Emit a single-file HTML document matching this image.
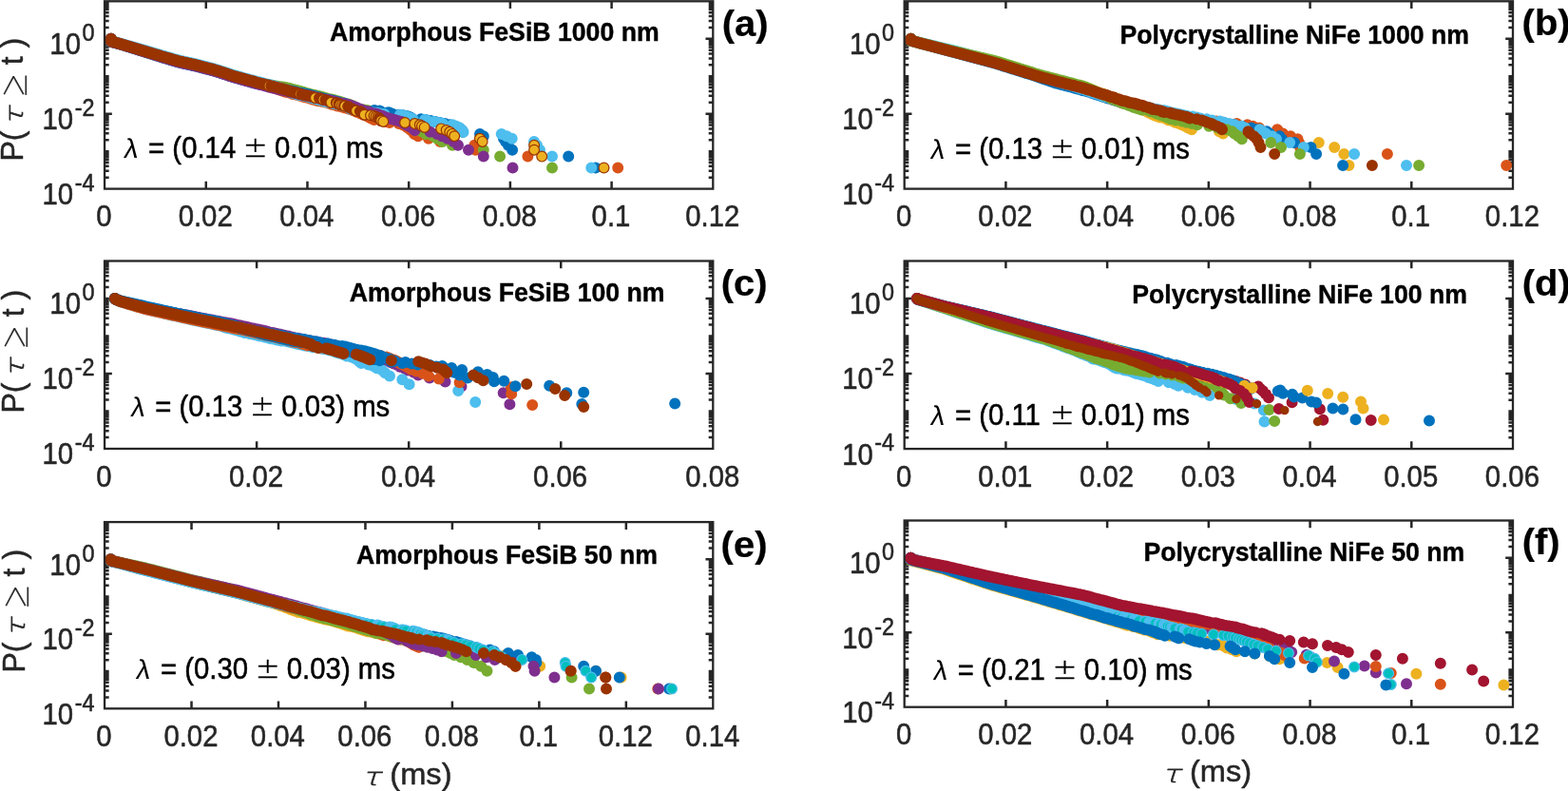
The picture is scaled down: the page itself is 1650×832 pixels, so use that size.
<!DOCTYPE html>
<html lang="en">
<head>
<meta charset="utf-8">
<title>Waiting-time distributions</title>
<style>
html,body{margin:0;padding:0;background:#fff;}
body{width:1650px;height:832px;overflow:hidden;}
svg{display:block;}
text{font-family:"Liberation Sans",sans-serif;fill:#262626;stroke:#262626;stroke-width:0.5px;stroke-linejoin:round;}
.tk text{font-size:29.33px;}
.sp{font-size:23.4px;}
.tt{font-size:26.67px;font-weight:bold;fill:#000;stroke:#000;stroke-width:0.4px;}
.tg{font-size:40px;font-weight:bold;fill:#000;stroke:#000;stroke-width:0.25px;}
.lm{font-size:29.33px;fill:#000;stroke:#000;}
.gl{stroke-width:0;}
.pm{font-family:"DejaVu Sans Light","DejaVu Sans",sans-serif;font-weight:200;font-size:31px;fill:#000;stroke:#000;stroke-width:0.35px;}
.lb{font-size:32px;}
.ta{font-family:"DejaVu Sans Light","DejaVu Sans",sans-serif;font-weight:200;font-style:italic;font-size:25.8px;stroke-width:0.7px;}
.ge{font-family:"NanumGothic","DejaVu Sans Light",sans-serif;font-size:34.5px;stroke-width:0.3px;}
</style>
</head>
<body>
<svg width="1650" height="832" viewBox="0 0 1650 832">
<rect width="1650" height="832" fill="#fff"/>
<g id="panel-a">
<path d="M216.77 198.6v-7.8M216.77 1.3v7.8M323.47 198.6v-7.8M323.47 1.3v7.8M430.18 198.6v-7.8M430.18 1.3v7.8M536.89 198.6v-7.8M536.89 1.3v7.8M643.59 198.6v-7.8M643.59 1.3v7.8M110.06 186.72h4.6M750.3 186.72h-4.6M110.06 179.77h4.6M750.3 179.77h-4.6M110.06 174.84h4.6M750.3 174.84h-4.6M110.06 171.02h4.6M750.3 171.02h-4.6M110.06 167.89h4.6M750.3 167.89h-4.6M110.06 165.25h4.6M750.3 165.25h-4.6M110.06 162.96h4.6M750.3 162.96h-4.6M110.06 160.95h4.6M750.3 160.95h-4.6M110.06 159.14h4.6M750.3 159.14h-4.6M110.06 147.26h4.6M750.3 147.26h-4.6M110.06 140.31h4.6M750.3 140.31h-4.6M110.06 135.38h4.6M750.3 135.38h-4.6M110.06 131.56h4.6M750.3 131.56h-4.6M110.06 128.43h4.6M750.3 128.43h-4.6M110.06 125.79h4.6M750.3 125.79h-4.6M110.06 123.5h4.6M750.3 123.5h-4.6M110.06 121.49h4.6M750.3 121.49h-4.6M110.06 119.68h7.8M750.3 119.68h-7.8M110.06 107.8h4.6M750.3 107.8h-4.6M110.06 100.85h4.6M750.3 100.85h-4.6M110.06 95.92h4.6M750.3 95.92h-4.6M110.06 92.1h4.6M750.3 92.1h-4.6M110.06 88.97h4.6M750.3 88.97h-4.6M110.06 86.33h4.6M750.3 86.33h-4.6M110.06 84.04h4.6M750.3 84.04h-4.6M110.06 82.03h4.6M750.3 82.03h-4.6M110.06 80.22h4.6M750.3 80.22h-4.6M110.06 68.34h4.6M750.3 68.34h-4.6M110.06 61.39h4.6M750.3 61.39h-4.6M110.06 56.46h4.6M750.3 56.46h-4.6M110.06 52.64h4.6M750.3 52.64h-4.6M110.06 49.51h4.6M750.3 49.51h-4.6M110.06 46.87h4.6M750.3 46.87h-4.6M110.06 44.58h4.6M750.3 44.58h-4.6M110.06 42.57h4.6M750.3 42.57h-4.6M110.06 40.76h7.8M750.3 40.76h-7.8M110.06 28.88h4.6M750.3 28.88h-4.6M110.06 21.93h4.6M750.3 21.93h-4.6M110.06 17h4.6M750.3 17h-4.6M110.06 13.18h4.6M750.3 13.18h-4.6M110.06 10.05h4.6M750.3 10.05h-4.6M110.06 7.41h4.6M750.3 7.41h-4.6M110.06 5.12h4.6M750.3 5.12h-4.6M110.06 3.11h4.6M750.3 3.11h-4.6" stroke="#262626" stroke-width="2.5" fill="none"/>
<g fill="none" stroke-linecap="round" stroke-linejoin="round">
<path d="M116.8 40.8h0L116.8 41.7L116.8 42.6L116.8 43.5L117.6 43.9L118.5 44.1L119.4 44.4L120.3 44.6L121.2 44.8L122.1 45.1L123 45.3L123.9 45.6L124.8 45.8L125.7 46L126.6 46.3L127.5 46.5L128.4 46.8L129.2 47L130.1 47.3L131 47.5L131.9 47.8L132.7 48.1L133.6 48.3L134.5 48.6L135.4 48.8L136.3 49.1L137.1 49.4L138 49.7L138.9 49.9L139.8 50.2L140.7 50.4L141.5 50.7L142.4 51L143.3 51.2L144.2 51.5L145.1 51.8L146 52L146.8 52.3L147.7 52.6L148.6 52.8L149.5 53.1L150.3 53.3L151.2 53.6L152.1 53.9L153 54.2L153.9 54.4L154.7 54.7L155.6 55L156.5 55.2L157.4 55.5L158.3 55.8L159.2 56L160.1 56.3L161 56.6L161.8 56.8L162.7 57.1L163.6 57.4L164.5 57.6L165.4 57.9L166.3 58.2L167.2 58.4L168.1 58.7L169 59L169.9 59.3L170.8 59.5L171.7 59.8L172.6 60L173.5 60.3L174.4 60.6L175.3 60.8L176.2 61.1L177.1 61.4L178.1 61.6L179 61.9L179.8 62.2L180.7 62.4L181.6 62.7L182.5 62.9L183.4 63.2L184.3 63.4L185.2 63.7L186.2 64L187.1 64.3L188 64.5L188.9 64.7L189.9 64.9L190.9 65.2L191.8 65.3L192.7 65.6L193.7 65.8L194.6 66L195.5 66.2L196.5 66.4L197.5 66.6L198.4 66.8L199.5 67.1L200.4 67.3L201.3 67.5L202.2 67.7L203.2 67.9L204.1 68.1L205.1 68.3L206 68.6L206.9 68.8L207.9 69L209 69.3L210 69.6L211 69.8L212 70.1L213 70.3L214 70.6L214.9 70.9L215.8 71.1L216.7 71.4L217.7 71.6L218.6 71.9L219.5 72.1L220.6 72.3L221.5 72.6L222.5 72.9L223.5 73.2L224.5 73.4L225.4 73.7L226.3 74L227.4 74.2L228.3 74.5L229.2 74.9L230.2 75.2L231.2 75.5L232.1 75.8L233.2 76.1L234.1 76.5L235 76.8L235.9 77.1L237 77.4L238.1 77.7L238.9 78L240 78.4L241 78.7L241.9 79L242.8 79.3L243.9 79.6L244.8 79.9L245.7 80.2L246.7 80.5L247.6 80.7L248.5 81L249.4 81.3L250.4 81.5L251.2 81.8L252.3 82.1L253.3 82.4L254.4 82.7L255.3 82.9L256.2 83.2L257.2 83.5L258.2 83.8L259.1 84.1L260 84.4L261.1 84.6L262.3 84.9L263.2 85.2L264.3 85.6L265.5 86L266.8 86.2L267.8 86.4L268.6 86.6L269.6 86.9L270.6 87.1L271.8 87.5L272.7 87.7L273.8 88L275 88.3L276.4 88.7L277.4 89L278.4 89.2L279.4 89.4L280.5 89.7L281.8 90.2L282.8 90.5L283.9 90.9L284.9 91.2L285.7 91.6L286.6 91.9L287.7 92.2L288.6 92.6L289.6 92.8L290.8 93.2L291.9 93.6L293 94L293.8 94.5L295.2 94.7L296.2 95.2L297.7 95.6L298.5 95.9L299.4 96.3L300.6 96.7L302.7 97.1L304.3 97.4L305.8 97.9L306.7 98.3L307.6 98.8L309.8 99.2L311.9 99.6L313.1 99.8L314.5 100.2L315.7 100.6L317.2 101L318.2 101.2L319.2 101.6L320.5 102.1L322.9 102.5L324.2 102.7L325.2 103.2L326.9 103.7L328.1 104.2L329.7 104.7L331.2 105L332.2 105.2L333.3 105.8L335.4 106.1L336.7 106.3L338.5 106.6L339.6 106.9L341.5 107.2L342.7 107.5L343.9 107.8L344.9 108.1L345.8 108.5L346.8 108.8L348.8 109.5L349.6 109.8L352.5 110.2L353.3 110.5L354.7 111.3L356.4 111.6L358.9 112L360 112.4L361.8 112.9L362.9 113.3L365 113.7L366.1 114.2L367.7 114.6L369.1 115.1L370 115.6L372.3 116.1L373.1 116.6L374.2 117.1L375.5 117.7L377.4 118.2L378.3 118.8L379.7 119.4L381.3 120L382.5 120.7L384.8 121.3L386.4 122L387.3 122.8L388.9 123.5L390.1 124.3L392.3 125.2L393.6 126M402.7 127h0M405.7 127.9h0M409.9 129h0M419.7 130.1h0M423.7 131.3h0M426.5 132.5h0L428.6 133.9L430.8 135.4L432.6 137L434.9 138.8L436 140.9M440 143.2h0M451 145.8h0M463.1 148.9h0M499.3 152.7h0M500.5 157.7h0M555.4 164.6h0M650.2 176.5h0" stroke="#D95319" stroke-width="12.0"/>
<path d="M116.8 40.8h0L116.8 41.7L116.8 42.6L116.8 43.5L117.6 43.9L118.5 44.1L119.4 44.3L120.3 44.5L121.2 44.8L122 45L122.9 45.3L123.8 45.5L124.6 45.8L125.5 46L126.4 46.3L127.3 46.5L128.1 46.8L129 47.1L129.9 47.3L130.7 47.6L131.6 47.9L132.5 48.2L133.4 48.4L134.2 48.7L135.1 49L136 49.2L136.9 49.5L137.7 49.8L138.6 50.1L139.5 50.3L140.4 50.6L141.2 50.9L142.1 51.1L143 51.4L143.8 51.7L144.7 52L145.6 52.3L146.5 52.5L147.4 52.8L148.2 53L149.1 53.3L150 53.6L150.9 53.9L151.7 54.2L152.6 54.4L153.5 54.7L154.4 55L155.3 55.3L156.1 55.5L157 55.8L157.9 56.1L158.8 56.4L159.7 56.6L160.6 56.9L161.5 57.2L162.4 57.5L163.2 57.7L164.1 58L165 58.3L166 58.6L166.9 58.9L167.8 59.2L168.6 59.4L169.5 59.7L170.4 60L171.3 60.3L172.2 60.5L173.1 60.8L174 61.1L174.9 61.3L175.9 61.6L176.8 61.9L177.7 62.2L178.6 62.5L179.4 62.7L180.3 63L181.3 63.3L182.2 63.5L183.1 63.8L184 64L184.8 64.3L185.8 64.6L186.8 64.9L187.7 65.2L188.7 65.4L189.6 65.6L190.5 65.8L191.5 66L192.5 66.3L193.4 66.5L194.3 66.7L195.2 66.9L196.2 67.1L197.2 67.3L198.1 67.5L199.1 67.8L200.1 68L201.1 68.2L202 68.4L202.9 68.6L203.9 68.8L205.1 69.1L206.2 69.3L207.1 69.5L208 69.8L209 70L209.9 70.3L210.9 70.5L211.7 70.7L212.7 71L213.6 71.2L214.5 71.5L215.4 71.7L216.3 71.9L217.2 72.2L218.2 72.5L219.1 72.7L220.3 73L221.2 73.2L222.1 73.5L223.1 73.7L224 74L225 74.2L225.9 74.5L227 74.7L227.9 75.1L228.8 75.4L229.7 75.7L230.6 75.9L231.5 76.2L232.4 76.5L233.2 76.8L234.3 77.2L235.3 77.4L236.3 77.8L237.3 78.2L238.4 78.5L239.4 78.8L240.3 79.2L241.2 79.5L242.2 79.7L243.3 80L244.1 80.3L245 80.6L245.9 80.9L247.2 81.2L248.2 81.5L249.2 81.7L250.2 82.1L251.2 82.4L252.1 82.8L253.2 82.9L254.1 83.2L255.1 83.5L256.3 83.8L257.5 84.1L258.5 84.4L259.7 84.8L260.5 85.1L261.6 85.3L262.5 85.5L263.4 85.8L264.5 86.1L265.5 86.4L266.5 86.7L267.3 86.9L268.8 87.2L270.2 87.4L271.2 87.6L272.5 87.8L273.5 88L274.5 88.2L275.4 88.4L276.5 88.7M279.6 88.9h0L281 89.1L282.8 89.3L283.9 89.5L285.5 89.7L286.8 90L288 90.1L289.2 90.3L290.3 90.5L291.9 90.7L292.9 91L294.9 91.2L296.3 91.5L297.8 91.6L298.8 91.8L300.4 91.9L301.4 92.3L302.5 92.6L303.9 92.8L305 93.1L306.4 93.5L307.8 93.9L308.9 94.3L309.9 94.6L311 94.7L312.2 95L313.1 95.2L314.1 95.5L315.6 95.9L316.7 96.3L317.7 96.6L319.1 96.9L320.2 97.2L321.4 97.6L322.8 98.1L323.8 98.5L324.9 98.6L326.6 99L327.6 99.6L328.9 99.8L330.3 100L332.3 100.4L334 100.8L335.1 101L336.7 101.4L338 101.8L339.7 102.3L340.8 102.5L342.1 103L343.6 103.4L344.6 103.7L346.4 104.2L348 104.4L349.1 104.7L350.3 105L351.6 105.2L352.6 105.5L354.2 106.1L355.3 106.3L356.7 106.6L358.4 107.2L359.3 107.5L360.7 108.1L361.7 108.5L363.3 108.8L364.7 109.1L366.9 109.8L368 110.2L368.9 110.5L370.3 110.9L371.6 111.6L372.7 112.4L373.6 112.9L375 113.7L375.8 114.2M379.1 115.1h0M383.1 115.6h0M386.6 116.1h0L388.1 116.6L391 117.1L393.1 117.7L395.4 118.2L397.2 118.8L398.1 119.4L399.2 120L400.8 120.7L402.5 121.3L404.2 122L405.3 122.8M408.6 123.5h0M412.9 124.3h0M416.1 125.2h0L418.2 126L420.9 127L423.1 127.9L425.1 129L427.1 130.1L429.3 131.3L431.4 132.5L433.5 133.9M439 135.4h0L441.1 137M444.5 138.8h0M448 140.9h0M456 143.2h0M460 145.8h0M465.5 148.9h0M476 152.7h0M508.8 157.7h0M526.1 164.6h0M581 176.5h0" stroke="#77AC30" stroke-width="12.0"/>
<path d="M116.8 40.8h0L116.8 41.7L116.8 42.6L116.8 43.5L117.5 44L118.4 44.3L119.3 44.5L120.2 44.7L121.1 45L122 45.2L122.9 45.4L123.8 45.7L124.6 45.9L125.5 46.2L126.5 46.4L127.3 46.6L128.2 46.9L129.1 47.1L130 47.4L130.9 47.7L131.8 48L132.6 48.2L133.5 48.5L134.4 48.8L135.3 49.1L136.2 49.4L137 49.6L137.9 49.9L138.8 50.2L139.7 50.5L140.6 50.7L141.5 51L142.4 51.3L143.3 51.6L144.1 51.9L145 52.1L145.9 52.4L146.8 52.7L147.7 53L148.6 53.3L149.5 53.5L150.4 53.8L151.3 54.1L152.2 54.4L153.1 54.7L153.9 55L154.8 55.2L155.7 55.5L156.6 55.8L157.5 56.1L158.4 56.3L159.2 56.6L160.1 56.9L161 57.2L161.9 57.4L162.7 57.7L163.6 58L164.5 58.3L165.4 58.5L166.2 58.8L167.1 59.1L168 59.4L168.9 59.6L169.7 59.9L170.6 60.2L171.5 60.5L172.5 60.7L173.4 61L174.3 61.3L175.2 61.6L176.1 61.8L177 62.1L177.9 62.4L178.9 62.7L179.8 63L180.7 63.2L181.6 63.5L182.5 63.8L183.4 64.1L184.4 64.4L185.3 64.6L186.2 64.9L187.1 65.2L188.1 65.5L189 65.7L189.9 65.9L190.9 66.1L191.8 66.3L192.8 66.6L193.8 66.7L194.7 67L195.7 67.2L196.6 67.4L197.5 67.6L198.5 67.8L199.4 68L200.3 68.2L201.3 68.4L202.3 68.7L203.2 68.9L204.2 69.1L205.1 69.3L206 69.5L206.9 69.7L207.9 69.9L208.9 70.2L209.9 70.5L210.8 70.7L211.7 70.9L212.7 71.2L213.6 71.5L214.7 71.7L215.6 71.9L216.5 72.2L217.5 72.5L218.4 72.7L219.4 72.9L220.2 73.2L221.3 73.4L222.3 73.7L223.4 74L224.3 74.2L225.3 74.5L226.2 74.7L227 75L227.9 75.3L228.8 75.6L229.8 75.9L230.8 76.2L231.6 76.5L232.7 76.8L233.5 77.1L234.4 77.4L235.4 77.7L236.3 78L237.2 78.3L238.2 78.6L239.1 78.9L240.3 79.3L241.2 79.6L242.3 80L243.3 80.2L244.2 80.6L245.2 80.9L246.5 81.3L247.5 81.5L248.5 81.8L249.4 82.1L251.2 82.5L252.1 82.8L253.1 83.2L254 83.5L255 83.6L255.9 83.9L257 84.1L258 84.4L259 84.7L259.9 85L261.1 85.3L262 85.6L263.1 86L264.1 86.2L265.1 86.6L266.4 86.9L267.4 87.2L268.3 87.3L269.5 87.6L271 88L272.3 88.3L273.7 88.6L275 88.8L276.1 89L277.3 89.3L278.6 89.6L279.6 89.7L280.7 90L282 90.3L282.9 90.5L284 90.7L285 91L286.3 91.3L288.9 91.7L290 91.9L291 92.2L292.3 92.6L293.2 92.8L294.3 93.1L295.3 93.2L296.3 93.5L298.2 93.8L299.1 94L300.4 94.5L301.4 94.7L302.5 95L303.9 95.2L305.3 95.5L306.7 95.6L307.7 95.8L308.9 96.1L310.1 96.4L311.4 96.7L312.4 97.1L313.5 97.4L314.9 97.6L316.5 97.8L317.8 97.9L319.2 98.3L320.7 98.6L321.7 98.8L323.2 99.2L324.6 99.4L326.2 99.8L327.7 100.2L328.9 100.6L330.1 101L331.9 101.4L332.8 101.8L335 102.3L336.3 102.5L338.1 103L339.8 103.4L341.3 103.9L342.6 104.4M345.6 104.7h0L346.7 105.2L348.8 105.5L351.3 106.1L352.9 106.6L354.5 106.9L355.4 107.2L357.2 107.8L358.6 108.5M362.3 108.8h0L363.2 109.1L364.2 109.5L365.5 110.2L366.6 110.5L368.5 111.3L369.4 111.6L370.3 112.4L371.3 113.3L371.8 114.2L371.9 115.1M375 115.6h0M394 116.1h0M399.3 116.6h0L400.3 117.1L401.4 117.7M408.6 118.2h0L410.2 118.8L411.5 119.4L413.2 120M419.8 120.7h0M424.1 121.3h0M427.8 122h0L429.7 122.8L431.9 123.5L433.2 124.3M443 125.2h0M448 126h0M453 127h0M458 127.9h0M463 129h0M468 130.1h0M473 131.3h0M477 132.5h0M481 133.9h0M484 135.4h0L486 137L487 138.8M505 140.9h0M508.8 143.2h0M530 145.8h0M532 148.9h0M534.8 152.7h0M539.1 157.7h0M598.2 164.6h0M626.7 176.5h0" stroke="#0072BD" stroke-width="12.0"/>
<path d="M116.8 40.8h0L116.8 41.7L116.8 42.6L117 43.4L117.9 43.7L118.8 43.8L119.7 44.1L120.6 44.3L121.5 44.5L122.4 44.7L123.3 45L124.2 45.2L125 45.5L125.9 45.7L126.9 46L127.8 46.2L128.6 46.5L129.5 46.7L130.4 47L131.3 47.2L132.2 47.5L133.1 47.7L134 48L134.9 48.2L135.7 48.4L136.6 48.7L137.5 48.9L138.4 49.2L139.3 49.4L140.2 49.7L141.1 49.9L142 50.2L142.9 50.4L143.7 50.6L144.6 50.9L145.6 51.1L146.5 51.4L147.3 51.6L148.2 51.9L149.1 52.1L150 52.4L150.9 52.6L151.8 52.9L152.7 53.2L153.6 53.4L154.5 53.7L155.3 54L156.2 54.2L157.1 54.5L158 54.8L158.8 55L159.8 55.3L160.7 55.6L161.6 55.8L162.5 56.1L163.4 56.4L164.3 56.6L165.2 56.9L166.1 57.2L167 57.4L167.8 57.7L168.7 57.9L169.6 58.2L170.6 58.5L171.4 58.7L172.4 59L173.3 59.3L174.1 59.5L175 59.8L176 60.1L176.9 60.3L177.9 60.6L178.8 60.9L179.7 61.1L180.6 61.4L181.5 61.6L182.4 61.9L183.4 62.2L184.3 62.5L185.2 62.7L186.2 63L187.1 63.3L188 63.5L189.1 63.7L190.2 64L191 64.2L191.9 64.4L192.9 64.6L193.8 64.8L194.7 65L195.7 65.2L196.6 65.4L197.5 65.6L198.4 65.8L199.4 66L200.4 66.2L201.3 66.4L202.2 66.6L203.1 66.8L204.1 67.1L205 67.2L206 67.5L207 67.7L208 68L208.9 68.2L209.8 68.5L210.7 68.7L211.6 68.9L212.6 69.2L213.6 69.4L214.6 69.7L215.5 69.9L216.4 70.1L217.6 70.5L218.7 70.7L219.6 71L220.6 71.3L221.6 71.5L222.6 71.8L223.5 72L224.4 72.3L225.3 72.5L226.4 72.8L227.2 73.1L228.1 73.4L229 73.6L229.9 74L230.7 74.2L231.7 74.5L232.7 74.8L233.8 75.2L234.8 75.5L235.7 75.8L236.6 76.2L237.4 76.4L238.4 76.7L239.4 77L240.2 77.3L241.3 77.6L242.2 78L243.1 78.3L244 78.5L245 78.9L245.9 79.2L246.9 79.4L247.9 79.6L249 79.9L249.9 80.2L250.9 80.5L251.8 80.7L252.9 81.1L254.3 81.5L255.6 81.9L256.6 82.2L257.6 82.5L258.4 82.7L259.9 83L260.9 83.3L262.2 83.8L263.4 84.1L264.6 84.3L265.6 84.5L266.8 84.9L267.6 85.2L268.6 85.4L269.4 85.7L270.5 86L271.7 86.2L272.7 86.5L273.9 86.7L274.8 86.9L275.8 87.2L276.7 87.4L277.6 87.7L278.6 88L279.6 88.3L281.5 88.7L282.4 88.9L283.6 89.2L284.6 89.5L285.6 89.7L286.6 90.1L287.7 90.4L289.2 90.7L290.1 91L291 91.3L291.8 91.7L292.8 91.9L293.8 92.3L294.7 92.7L295.5 93.1L296.6 93.3L297.9 93.8L298.9 94.2L299.9 94.6L301 95L301.9 95.5L303 95.8L304.1 96.3L305.5 96.9L307.1 97.4L308.4 97.8L309.3 98.1L310.3 98.5L311.6 98.8L312.6 99.2L314.1 99.6L315.4 99.8L316.4 100L318.8 100.4L320.3 100.8L321.4 101L322.5 101.2L323.7 101.6L325.2 102.1L326.8 102.5L328.2 103L329.3 103.2L330.3 103.7L331.4 103.9L334.2 104.4L335.5 105L337.5 105.5L338.6 105.8L340.3 106.3L342 106.6L343.1 106.9L344.4 107.2L346.4 107.5L347.5 107.8L349.5 108.5L351 108.8L352.8 109.1L354.4 109.5L356.7 109.8L357.8 110.2L359.6 110.5L360.7 110.9L362.6 111.3L363.7 111.6L365.1 112L367.1 112.9L368.1 113.7L368.6 114.6M375.1 115.1h0L376.1 115.6L376.9 116.1L378.3 116.6L380.8 117.1L383.5 117.7M390.9 118.2h0M397.1 118.8h0M400.5 119.4h0M404.3 120h0M421 120.7h0L423 121.3L425.6 122L428 122.8L429.5 123.5L432.1 124.3L434.5 125.2M446.9 126h0L449.8 127M456.9 127.9h0M462.2 129h0M465.8 130.1h0M476.2 131.3h0M479.5 132.5h0M482.5 133.9h0L484.5 135.4L485.9 137L487.5 138.8M527.7 140.9h0M533.2 143.2h0M538.7 145.8h0M562 148.9h0M565 152.7h0M568 157.7h0M581 164.6h0M622.3 176.5h0" stroke="#4DBEEE" stroke-width="12.0"/>
<path d="M116.8 40.8h0L116.8 41.7L116.8 42.6L116.8 43.5L117.6 44L118.4 44.2L119.3 44.4L120.2 44.6L121.1 44.9L122 45.1L122.9 45.3L123.9 45.6L124.7 45.8L125.6 46.1L126.5 46.3L127.4 46.6L128.2 46.9L129.1 47.1L130 47.4L130.8 47.6L131.7 47.9L132.6 48.2L133.4 48.5L134.3 48.7L135.2 49L136.1 49.2L136.9 49.5L137.8 49.8L138.7 50.1L139.6 50.4L140.4 50.6L141.3 50.9L142.2 51.2L143.1 51.4L144 51.7L144.9 52L145.8 52.3L146.6 52.6L147.5 52.8L148.4 53.1L149.2 53.4L150.1 53.7L151 53.9L151.9 54.2L152.8 54.5L153.7 54.8L154.5 55L155.4 55.3L156.3 55.6L157.1 55.8L158 56.1L158.9 56.4L159.8 56.7L160.7 56.9L161.6 57.2L162.4 57.5L163.3 57.8L164.2 58.1L165.1 58.3L166 58.6L167 58.9L167.8 59.2L168.7 59.5L169.6 59.7L170.4 60L171.3 60.3L172.2 60.5L173.1 60.8L174 61L174.9 61.3L175.8 61.6L176.7 61.8L177.6 62.1L178.5 62.4L179.4 62.7L180.3 63L181.2 63.3L182.2 63.5L183.1 63.8L184 64.1L184.9 64.4L185.8 64.7L186.7 64.9L187.7 65.2L188.6 65.4L189.5 65.6L190.5 65.8L191.4 66L192.3 66.3L193.3 66.5L194.2 66.7L195.2 67L196.1 67.1L197 67.3L197.9 67.5L198.8 67.7L199.8 67.9L200.7 68.1L201.6 68.3L202.5 68.6L203.6 68.8L204.5 69L205.4 69.2L206.4 69.5L207.3 69.6L208.2 69.9L209.1 70.2L210.1 70.4L211 70.7L211.9 70.9L212.8 71.1L213.8 71.4L214.7 71.7L215.6 71.9L216.6 72.2L217.5 72.5L218.4 72.7L219.4 72.9L220.2 73.2L221.2 73.4L222.2 73.6L223.1 73.9L224 74.1L224.9 74.4L225.9 74.7L226.8 74.9L227.7 75.2L228.7 75.5L229.6 75.8L230.5 76.1L231.5 76.4L232.3 76.7L233.2 77L234.1 77.3L235 77.6L236.1 78L237 78.2L238 78.6L238.8 79L239.7 79.2L240.6 79.5L241.6 79.7L242.6 80.1L243.5 80.4L244.4 80.7L245.4 81L246.3 81.3L247.3 81.5L248.3 81.8L249.3 82.1L250.3 82.4L251.2 82.6L252.2 82.9L253.3 83.2L254.3 83.5L255.4 83.9L256.3 84.2L257.7 84.5L258.7 84.9L259.5 85.1L260.4 85.3L261.4 85.4L262.5 85.8L263.5 86.1L264.5 86.5L265.6 86.8L266.5 87.1L267.5 87.3L268.5 87.6L269.7 87.9L270.9 88.2L271.8 88.4L272.8 88.7L274.4 89.1L275.4 89.3L276.3 89.5L277.3 89.8L278.7 90.2L279.7 90.5L280.9 90.9L282.1 91.1L283 91.5L284 91.7L285.4 92.1L286.5 92.3L287.7 92.6L288.9 92.8L289.9 93.1L290.9 93.3L292.2 93.6L293.2 93.9L294.5 94.2L295.6 94.5L296.7 94.7L298.5 95L299.9 95.3L300.8 95.5L302.2 95.8L303.1 96.1L304.4 96.4L305.3 96.7L306.7 96.9L308.3 97.2L309.6 97.6L310.5 97.8L312.5 98.1L313.7 98.5L314.8 98.8L316 99L317 99.4L318.2 99.6L319.3 99.8L320.8 100.2L322.1 100.6L325 100.8L326.4 101.2L329.2 101.6L330 101.8L331.5 102.3L332.4 102.5L333.9 103L335.8 103.4L337.2 103.9L338.5 104.4M342.9 104.7h0L344.2 105L345.5 105.2L346.7 105.5L347.7 105.8L348.8 106.1L349.8 106.3L351.2 106.6L352.6 107.2L354.1 107.5L355.9 107.8L357.4 108.5L359.4 108.8L362.2 109.1L363.1 109.5L364.5 109.8L366.4 110.2L368.2 110.5L369.1 110.9L370.1 111.3L371.5 112L372.4 112.4L374.5 112.9L376.2 113.7L378.4 114.6L379.9 115.1L381.1 115.6L382.1 116.1L383.4 116.6M386.7 117.1h0L388.1 117.7L389.5 118.2L391 118.8M395.2 119.4h0L397.2 120L398.6 120.7L400 121.3L402.3 122L404.5 122.8L405.9 123.5M408.9 124.3h0M412.2 125.2h0M415.3 126h0M418.7 127h0M422.7 127.9h0L423.8 129L425.9 130.1L427.5 131.3L430.2 132.5M432.9 133.9h0L434.8 135.4L436.6 137M452.6 138.8h0M460 140.9h0M465 143.2h0M470.9 145.8h0M477.3 148.9h0M482 152.7h0M493 157.7h0M508.8 164.6h0M539.5 176.5h0" stroke="#7E2F8E" stroke-width="12.0"/>
<path d="M116.8 40.8h0L116.8 42L116.8 43.2L117.8 43.8L119 44.1L120.2 44.4L121.4 44.7L122.5 45L123.7 45.3L124.9 45.6L126 46L127.2 46.3L128.4 46.7L129.5 47L130.7 47.4L131.9 47.8L133 48.2L134.2 48.4L135.4 48.8L136.6 49.1L137.8 49.5L139 49.9L140.1 50.2L141.4 50.6L142.6 50.9L143.7 51.3L144.9 51.6L146.1 52L147.3 52.4L148.5 52.7L149.6 53.1L150.9 53.4L152.1 53.8L153.3 54.1L154.4 54.5L155.8 54.9L156.9 55.2L158.1 55.6L159.3 55.9L160.4 56.3L161.6 56.6L162.8 57L164 57.3L165.3 57.7L166.5 58.1L167.7 58.4L168.9 58.8L170 59.2L171.2 59.5L172.4 59.8L173.6 60.2L174.8 60.5L176 60.8L177.2 61.1L178.4 61.5L179.6 61.9L180.8 62.2L181.9 62.6L183.1 62.9L184.4 63.3L185.6 63.5L186.8 64L187.9 64.3L189.1 64.5L190.3 64.8L191.5 65L192.7 65.4L194.2 65.7L195.4 66L196.6 66.1L197.8 66.5L199.2 66.8L200.4 67L201.6 67.3L203.1 67.6L204.4 67.8L205.6 68.3L206.9 68.5L208.2 68.8L209.4 69.2L210.7 69.5L212 69.8L213.1 70.2L214.3 70.5L215.5 70.8L216.7 71.1L218 71.5L219.2 71.7L220.4 72L221.9 72.3L223.1 72.6L224.4 73L225.5 73.4L226.8 73.8L228 74.2L229.3 74.4L230.5 74.9L231.6 75.3L232.9 75.7L234.3 76.1L235.7 76.5L237 76.9L238.4 77.4L239.5 77.9L240.7 78.2L241.9 78.6L243.1 79.1L244.3 79.5L245.6 79.8L246.7 80.2L248.2 80.6L249.5 81L250.7 81.3L251.9 81.6L253.3 82.1L254.6 82.3L256.1 82.6L257.3 83.1L258.6 83.5L259.9 83.8L261.1 84.3L262.4 84.5L263.5 84.9L265.4 85.1L266.8 85.6L268.1 86L269.3 86.5L270.5 86.8L272.1 87.1L273.5 87.6L274.9 87.9L276.2 88.1L277.4 88.4L278.8 88.8L280.3 89.2L281.9 89.5L283 90.2L283.4 90.4" stroke="#993300" stroke-width="12.0"/>
<g fill="#EDB120" stroke="#993300" stroke-width="1.2"><circle cx="283.4" cy="90.4" r="5.4"/></g>
<path d="M285.3 90.5h0L287 90.7L288.3 91.2L290.1 91.7L291.8 92.1L294.1 92.6L295.5 93.1L296.9 93.3L298.1 93.9L299.9 94.2L301.1 94.5L302.1 95.2L303.4 95.3L305.4 96.1L307.3 96.4L308.5 96.9L310.6 97.2L312.3 97.6L313.9 98.3L315.1 98.5L316.1 99" stroke="#993300" stroke-width="12.0"/>
<g fill="#EDB120" stroke="#993300" stroke-width="1.2"><circle cx="316.1" cy="99" r="5.4"/></g>
<path d="M317.7 99.2h0L319.2 99.6L320.4 100L321.9 100.2L324 100.6L326.4 101.2L328.3 101.8L330.8 102.5L331.9 103" stroke="#993300" stroke-width="12.0"/>
<g fill="#EDB120" stroke="#993300" stroke-width="1.2"><circle cx="331.9" cy="103" r="5.4"/></g>
<path d="M336 103.2h0L337.3 103.7L338.8 104.2L340.3 105" stroke="#993300" stroke-width="12.0"/>
<g fill="#EDB120" stroke="#993300" stroke-width="1.2"><circle cx="340.3" cy="105" r="5.4"/></g>
<path d="M342.4 105.2h0L343.9 105.8L345.1 106.3L347.4 107.2L348.4 107.8" stroke="#993300" stroke-width="12.0"/>
<g fill="#EDB120" stroke="#993300" stroke-width="1.2"><circle cx="348.4" cy="107.8" r="5.4"/></g>
<path d="M353.8 108.1h0L354.5 108.8" stroke="#993300" stroke-width="12.0"/>
<g fill="#EDB120" stroke="#993300" stroke-width="1.2"><circle cx="354.5" cy="108.8" r="5.4"/></g>
<path d="M356.5 109.1h0L357.6 109.8L358.1 110.2" stroke="#993300" stroke-width="12.0"/>
<g fill="#EDB120" stroke="#993300" stroke-width="1.2"><circle cx="358.1" cy="110.2" r="5.4"/><circle cx="360.1" cy="110.5" r="5.4"/></g>
<path d="M362.1 110.9h0L362.9 111.6" stroke="#993300" stroke-width="12.0"/>
<g fill="#EDB120" stroke="#993300" stroke-width="1.2"><circle cx="362.9" cy="111.6" r="5.4"/></g>
<path d="M366.2 112h0L367.4 112.9L368.8 113.7L370 114.2L372 115.1L374 116.1L374.8 116.6" stroke="#993300" stroke-width="12.0"/>
<g fill="#EDB120" stroke="#993300" stroke-width="1.2"><circle cx="374.8" cy="116.6" r="5.4"/></g>
<path d="M378.9 117.1h0L380.4 118.2L381.6 118.8L382.6 120L383.6 120.7" stroke="#993300" stroke-width="12.0"/>
<g fill="#EDB120" stroke="#993300" stroke-width="1.2"><circle cx="383.6" cy="120.7" r="5.4"/><circle cx="390" cy="121.3" r="5.4"/><circle cx="393.5" cy="122" r="5.4"/><circle cx="395.5" cy="122.8" r="5.4"/><circle cx="397.5" cy="123.5" r="5.4"/></g>
<path d="M398.9 124.3h0L400.4 126L401.1 127" stroke="#993300" stroke-width="12.0"/>
<g fill="#EDB120" stroke="#993300" stroke-width="1.2"><circle cx="401.1" cy="127" r="5.4"/><circle cx="403.3" cy="127.9" r="5.4"/><circle cx="426.1" cy="129" r="5.4"/><circle cx="436.4" cy="130.1" r="5.4"/><circle cx="441.8" cy="131.3" r="5.4"/><circle cx="444" cy="132.5" r="5.4"/><circle cx="446.7" cy="133.9" r="5.4"/><circle cx="464.2" cy="135.4" r="5.4"/><circle cx="469.7" cy="137" r="5.4"/><circle cx="473.3" cy="138.8" r="5.4"/><circle cx="475.8" cy="140.9" r="5.4"/><circle cx="478.2" cy="143.2" r="5.4"/><circle cx="504.9" cy="145.8" r="5.4"/><circle cx="507.6" cy="148.9" r="5.4"/><circle cx="562.1" cy="152.7" r="5.4"/><circle cx="562.1" cy="157.7" r="5.4"/><circle cx="570.2" cy="164.6" r="5.4"/><circle cx="635.5" cy="176.5" r="5.4"/></g>
</g>
<rect x="110.06" y="1.3" width="640.24" height="197.3" stroke="#262626" stroke-width="2.3" fill="none"/>
<g class="tk" text-anchor="middle">
<text transform="translate(109.46 238.1) scale(1 1.085)">0</text>
<text transform="translate(216.17 238.1) scale(1 1.085)">0.02</text>
<text transform="translate(322.87 238.1) scale(1 1.085)">0.04</text>
<text transform="translate(429.58 238.1) scale(1 1.085)">0.06</text>
<text transform="translate(536.29 238.1) scale(1 1.085)">0.08</text>
<text transform="translate(642.99 238.1) scale(1 1.085)">0.1</text>
<text transform="translate(749.7 238.1) scale(1 1.085)">0.12</text>
</g>
<g class="tk" text-anchor="end">
<text transform="translate(99.46 57.16) scale(1 1.085)">10<tspan class="sp" dx="1.5" dy="-13.0">0</tspan></text>
<text transform="translate(99.46 136.08) scale(1 1.085)">10<tspan class="sp" dx="1.5" dy="-13.0">-2</tspan></text>
<text transform="translate(99.46 215) scale(1 1.085)">10<tspan class="sp" dx="1.5" dy="-13.0">-4</tspan></text>
</g>
<text class="tt" transform="translate(347 42.9) scale(1 1.03)">Amorphous FeSiB 1000 nm</text>
<text class="tg" transform="translate(759.7 38.2) scale(1 0.985)">(a)</text>
<g class="fit">
<text class="lm gl" transform="translate(129.7 165.5) skewX(-7) scale(1 0.98)">λ </text>
<text class="lm" transform="translate(156.1 165.5) scale(1 1.06)">= (0.14 </text>
<text class="pm" transform="translate(268.85 164.7)" text-anchor="middle">±</text>
<text class="lm" transform="translate(289 165.5) scale(1 1.06)"> 0.01) ms</text>
</g>
<g class="ylabel">
<text class="lb" transform="translate(23.6 169.5) rotate(-90) scale(1 1.02)">P( </text>
<text class="ta" transform="translate(23.6 132.26) rotate(-90) scale(1.24 1)">τ</text>
<text class="ge" transform="translate(27.9 100.68) rotate(-90) scale(0.95 1)">≥</text>
<text class="lb" transform="translate(23.6 68.3) rotate(-90) scale(1 1.02)"> t )</text>
</g>
</g>
<g id="panel-b">
<path d="M1058.42 198.6v-7.8M1058.42 1.3v7.8M1165.13 198.6v-7.8M1165.13 1.3v7.8M1271.85 198.6v-7.8M1271.85 1.3v7.8M1378.57 198.6v-7.8M1378.57 1.3v7.8M1485.28 198.6v-7.8M1485.28 1.3v7.8M951.7 186.72h4.6M1592 186.72h-4.6M951.7 179.77h4.6M1592 179.77h-4.6M951.7 174.84h4.6M1592 174.84h-4.6M951.7 171.02h4.6M1592 171.02h-4.6M951.7 167.89h4.6M1592 167.89h-4.6M951.7 165.25h4.6M1592 165.25h-4.6M951.7 162.96h4.6M1592 162.96h-4.6M951.7 160.95h4.6M1592 160.95h-4.6M951.7 159.14h4.6M1592 159.14h-4.6M951.7 147.26h4.6M1592 147.26h-4.6M951.7 140.31h4.6M1592 140.31h-4.6M951.7 135.38h4.6M1592 135.38h-4.6M951.7 131.56h4.6M1592 131.56h-4.6M951.7 128.43h4.6M1592 128.43h-4.6M951.7 125.79h4.6M1592 125.79h-4.6M951.7 123.5h4.6M1592 123.5h-4.6M951.7 121.49h4.6M1592 121.49h-4.6M951.7 119.68h7.8M1592 119.68h-7.8M951.7 107.8h4.6M1592 107.8h-4.6M951.7 100.85h4.6M1592 100.85h-4.6M951.7 95.92h4.6M1592 95.92h-4.6M951.7 92.1h4.6M1592 92.1h-4.6M951.7 88.97h4.6M1592 88.97h-4.6M951.7 86.33h4.6M1592 86.33h-4.6M951.7 84.04h4.6M1592 84.04h-4.6M951.7 82.03h4.6M1592 82.03h-4.6M951.7 80.22h4.6M1592 80.22h-4.6M951.7 68.34h4.6M1592 68.34h-4.6M951.7 61.39h4.6M1592 61.39h-4.6M951.7 56.46h4.6M1592 56.46h-4.6M951.7 52.64h4.6M1592 52.64h-4.6M951.7 49.51h4.6M1592 49.51h-4.6M951.7 46.87h4.6M1592 46.87h-4.6M951.7 44.58h4.6M1592 44.58h-4.6M951.7 42.57h4.6M1592 42.57h-4.6M951.7 40.76h7.8M1592 40.76h-7.8M951.7 28.88h4.6M1592 28.88h-4.6M951.7 21.93h4.6M1592 21.93h-4.6M951.7 17h4.6M1592 17h-4.6M951.7 13.18h4.6M1592 13.18h-4.6M951.7 10.05h4.6M1592 10.05h-4.6M951.7 7.41h4.6M1592 7.41h-4.6M951.7 5.12h4.6M1592 5.12h-4.6M951.7 3.11h4.6M1592 3.11h-4.6" stroke="#262626" stroke-width="2.5" fill="none"/>
<g fill="none" stroke-linecap="round" stroke-linejoin="round">
<path d="M958.5 40.8h0L958.5 41.7L958.5 42.6L959.4 42.8L960.3 43.1L961.1 43.3L962 43.6L962.9 43.8L963.8 44L964.6 44.3L965.5 44.5L966.4 44.8L967.3 45L968.2 45.2L969.1 45.5L970 45.7L970.9 45.9L971.8 46.1L972.7 46.3L973.6 46.6L974.5 46.8L975.4 47L976.3 47.2L977.2 47.5L978.1 47.7L979 47.9L979.9 48.1L980.8 48.3L981.6 48.6L982.6 48.8L983.4 49L984.4 49.3L985.3 49.5L986.2 49.7L987.1 49.9L988 50.2L988.9 50.4L989.8 50.6L990.7 50.8L991.6 51.1L992.5 51.3L993.5 51.6L994.4 51.8L995.3 52L996.2 52.2L997.1 52.5L998 52.7L998.9 52.9L999.8 53.1L1000.7 53.4L1001.6 53.6L1002.5 53.8L1003.4 54L1004.3 54.3L1005.2 54.5L1006.2 54.7L1007.1 55L1008 55.2L1008.9 55.4L1009.7 55.6L1010.6 55.8L1011.6 56.1L1012.4 56.3L1013.3 56.5L1014.2 56.8L1015.2 57L1016.1 57.2L1017.1 57.5L1018 57.7L1018.9 57.9L1019.8 58.1L1020.7 58.4L1021.7 58.6L1022.6 58.9L1023.5 59.1L1024.4 59.3L1025.3 59.5L1026.2 59.8L1027.2 60L1028.2 60.3L1029.1 60.5L1030 60.7L1031 61L1031.9 61.2L1032.8 61.4L1033.8 61.7L1034.6 61.9L1035.6 62.1L1036.5 62.4L1037.4 62.6L1038.5 62.8L1039.4 63.1L1040.3 63.4L1041.2 63.6L1042.1 63.8L1043 64L1043.9 64.2L1044.8 64.5L1045.7 64.7L1046.7 64.9L1047.6 65.2L1048.5 65.5L1049.4 65.8L1050.3 66.1L1051.3 66.4L1052.2 66.6L1053.1 67L1054.2 67.3L1055.1 67.5L1056.1 67.8L1057 68.1L1057.9 68.3L1059 68.7L1060 69L1060.9 69.3L1061.8 69.6L1062.7 69.9L1063.6 70.2L1064.5 70.4L1065.6 70.7L1066.5 71L1067.4 71.3L1068.4 71.6L1069.5 71.9L1070.4 72.2L1071.3 72.5L1072.2 72.8L1073.1 73.1L1074 73.3L1074.9 73.6L1075.7 73.9L1076.7 74.2L1077.7 74.5L1078.7 74.8L1079.8 75.1L1080.8 75.4L1081.8 75.7L1082.8 76L1083.8 76.4L1084.7 76.6L1085.7 76.9L1086.7 77.2L1087.8 77.6L1088.6 77.9L1089.6 78.1L1090.6 78.4L1091.4 78.7L1092.3 79L1093.5 79.3L1094.4 79.6L1095.7 79.9L1096.6 80.1L1097.6 80.4L1098.6 80.6L1099.9 80.9L1100.9 81.2L1101.8 81.4L1102.9 81.7L1103.8 82L1104.8 82.3L1105.6 82.5L1106.9 82.8L1107.8 83.1L1109 83.4L1110.3 83.8L1111.3 84.2L1112.5 84.3L1113.8 84.6L1114.9 84.9L1116 85.2L1116.9 85.4L1118 85.7L1118.9 86L1120 86.2L1121.2 86.5L1122.3 86.8L1123.4 87.1L1124.3 87.4L1125.7 87.7L1126.8 88L1128.2 88.5L1129.5 88.6L1130.5 89L1131.4 89.3L1132.4 89.7L1134.8 90L1136.3 90.4L1137.2 90.7L1138.2 91L1139.2 91.2L1140.1 91.4L1141.1 91.7L1142.1 92L1143 92.4L1143.9 92.7L1145.5 93.3L1147.3 93.8L1148.2 94.1L1149 94.6L1150.4 95.2L1151.4 95.5L1152.4 96L1153.5 96.4L1154.8 96.8L1155.6 97.2L1156.6 97.6L1158.1 98.2L1159 98.4L1160.1 98.8L1161.4 99L1162.2 99.5L1163.1 99.9L1164.3 100.4L1165.4 100.8L1166.5 101.3L1168.2 101.6L1169.5 102.1L1170.7 102.6L1172.6 103.2L1173.8 103.7L1174.8 104L1176.1 104.6L1177.3 105.2L1178.2 105.9L1179.1 106.5L1180 106.9L1181.5 107.2L1183.9 107.9L1185.3 108.7L1187.8 109.4L1189.8 110.3L1192.4 110.7L1193.8 111.6L1195.6 112L1196.9 113L1198.1 113.5L1200.3 114.5L1201.1 115.1L1202.6 115.6L1205.2 116.2L1206.2 116.8L1207.2 117.4L1208 118.1L1209.4 118.7L1211.2 119.4L1212.6 120.2L1214.3 120.9L1215.4 121.7M1218.7 122.6h0L1220.9 123.4M1225.8 124.4h0L1228.1 125.3L1229.5 126.4M1234.6 127.5h0L1236.6 128.7M1240.6 129.9h0M1243.7 131.3h0M1247 132.8h0M1250 134.4h0M1254 136.2h0M1283 138.3h0M1287 140.6h0M1350 143.2h0M1352 146.3h0M1387.8 150.1h0M1404.2 155.1h0M1414.3 162h0M1419.4 173.9h0" stroke="#EDB120" stroke-width="12.0"/>
<path d="M958.5 40.8h0L958.5 41.7L958.5 42.6L959.4 42.9L960.2 43.1L961.1 43.4L962 43.6L962.9 43.9L963.8 44.1L964.7 44.4L965.5 44.6L966.4 44.9L967.3 45.1L968.2 45.3L969.1 45.6L970 45.8L970.9 46L971.8 46.3L972.7 46.5L973.6 46.7L974.4 46.9L975.4 47.2L976.2 47.4L977.2 47.6L978 47.9L979 48.1L979.9 48.3L980.8 48.6L981.7 48.8L982.6 49.1L983.5 49.3L984.4 49.5L985.4 49.8L986.2 50L987.1 50.2L988 50.5L988.9 50.7L989.8 50.9L990.7 51.2L991.6 51.4L992.5 51.6L993.4 51.9L994.3 52.1L995.3 52.4L996.2 52.6L997.1 52.8L998 53.1L998.9 53.3L999.7 53.5L1000.7 53.7L1001.6 54L1002.5 54.2L1003.4 54.5L1004.3 54.7L1005.2 54.9L1006.1 55.2L1007 55.4L1007.9 55.6L1008.8 55.8L1009.7 56.1L1010.6 56.3L1011.5 56.6L1012.3 56.8L1013.3 57L1014.2 57.3L1015.1 57.5L1016.2 57.8L1017.1 58L1018 58.3L1019 58.5L1019.9 58.8L1020.8 59L1021.7 59.2L1022.7 59.5L1023.6 59.7L1024.5 60L1025.5 60.2L1026.4 60.5L1027.4 60.7L1028.4 61L1029.3 61.2L1030.2 61.5L1031.1 61.7L1032 61.9L1032.9 62.2L1033.8 62.4L1034.7 62.6L1035.6 62.9L1036.5 63.1L1037.4 63.4L1038.4 63.6L1039.3 63.8L1040.2 64.1L1041 64.3L1042 64.5L1042.9 64.8L1043.8 65.1L1044.8 65.3L1045.6 65.5L1046.6 65.8L1047.5 66L1048.5 66.3L1049.4 66.6L1050.3 66.9L1051.2 67.2L1052.1 67.4L1053 67.7L1054.1 68L1055 68.3L1055.9 68.6L1056.8 68.9L1057.7 69.1L1058.5 69.4L1059.5 69.7L1060.4 70L1061.4 70.3L1062.4 70.6L1063.3 70.9L1064.3 71.1L1065.1 71.4L1066.1 71.7L1066.9 72L1067.8 72.3L1068.7 72.6L1069.6 72.8L1070.5 73.1L1071.5 73.4L1072.4 73.8L1073.4 74L1074.4 74.3L1075.4 74.6L1076.3 74.9L1077.3 75.2L1078.4 75.5L1079.3 75.9L1080.3 76L1081.1 76.4L1082.1 76.7L1083 77L1083.9 77.3L1084.9 77.5L1085.9 77.9L1086.9 78.2L1087.8 78.4L1088.8 78.7L1089.8 79L1090.7 79.3L1091.6 79.6L1092.5 79.9L1093.4 80.2L1094.3 80.5L1095.4 80.8L1096.6 81.1L1097.6 81.3L1098.8 81.7L1100 81.9L1101 82.2L1101.9 82.4L1102.9 82.7L1104 83L1105.2 83.4L1106.1 83.5L1107.1 83.7L1108.3 84.1L1109.3 84.3L1110.3 84.6L1111.4 84.9L1112.5 85.2L1113.4 85.5L1114.3 85.6L1115.3 85.9L1116.2 86.2L1117.1 86.5L1118.2 86.8L1119.2 86.9L1120.3 87.2L1121.3 87.6L1122.6 87.8L1123.6 88L1124.5 88.4L1125.4 88.5L1126.9 88.9L1128 89.1L1129.1 89.5L1130 89.7L1131.5 90.1L1133.3 90.4L1134.6 90.7L1135.9 91.2L1137.2 91.6L1138.1 91.9L1139 92.1L1140.5 92.6L1141.4 92.9L1142.5 93.3L1143.5 93.8L1144.3 94.3L1145.7 94.6L1146.7 95.2L1147.7 95.5L1149.6 96L1150.6 96.6L1151.5 97.2L1152.5 97.6L1153.7 98L1154.5 98.4L1155.5 98.8L1156.4 99.2L1157.6 99.9L1158.6 100.4L1159.8 100.6L1160.7 101.1L1161.7 101.6L1163.2 102.1L1165.1 102.6L1166.4 102.9L1167.8 103.5L1169.1 104L1170.2 104.6L1172.9 104.9L1173.9 105.2L1175.1 105.9L1176.8 106.2L1178 106.9L1179.6 107.6L1181.1 108.3M1184.1 108.7h0L1185.5 109L1186.5 109.4L1188.2 109.8L1189.1 110.3M1192.9 111.1h0L1194.1 111.6L1195.3 112L1197.4 112.5L1198.7 113L1201.6 113.5L1202.5 114L1203.7 114.5L1204.5 115.1M1209.9 116.2h0L1212.4 116.8M1216.1 117.4h0L1217.2 118.1M1225.4 118.7h0L1227.8 119.4L1230 120.2M1233.8 120.9h0L1236.4 121.7M1239.5 122.6h0M1248 123.4h0M1256.4 124.4h0M1260.8 125.3h0M1265.4 126.4h0M1279.9 127.5h0M1287.3 128.7h0M1301.4 129.9h0M1312.6 131.3h0M1318.4 132.8h0M1325 134.4h0M1344.1 136.2h0L1345 138.3M1350 140.6h0M1358 143.2h0M1365.5 146.3h0M1367 150.1h0M1368 155.1h0M1459.9 162h0M1585.2 173.9h0" stroke="#D95319" stroke-width="12.0"/>
<path d="M958.5 40.8h0L958.5 41.7L958.5 42.6L959.3 42.9L960.2 43.2L961.1 43.4L962 43.6L962.9 43.9L963.7 44.1L964.6 44.4L965.5 44.6L966.4 44.9L967.2 45.1L968.1 45.4L969 45.6L969.9 45.8L970.8 46.1L971.7 46.3L972.6 46.5L973.5 46.8L974.4 47L975.3 47.3L976.2 47.5L977.2 47.8L978 48L979 48.2L979.8 48.5L980.7 48.7L981.6 49L982.5 49.2L983.4 49.4L984.3 49.7L985.1 49.9L986 50.1L986.9 50.4L987.8 50.6L988.7 50.9L989.6 51.1L990.5 51.3L991.4 51.6L992.3 51.8L993.2 52L994.1 52.3L995 52.5L995.9 52.8L996.8 53L997.7 53.2L998.6 53.5L999.5 53.7L1000.4 53.9L1001.3 54.2L1002.2 54.4L1003.1 54.7L1004 54.9L1004.9 55.2L1005.8 55.4L1006.7 55.6L1007.6 55.9L1008.5 56.1L1009.4 56.4L1010.4 56.6L1011.3 56.9L1012.3 57.1L1013.2 57.4L1014.3 57.7L1015.2 57.9L1016.1 58.1L1017 58.4L1017.9 58.7L1018.8 58.9L1019.7 59.1L1020.6 59.4L1021.5 59.6L1022.4 59.8L1023.3 60.1L1024.2 60.3L1025.2 60.6L1026.2 60.9L1027.1 61.1L1028 61.4L1029 61.6L1029.9 61.8L1030.8 62.1L1031.7 62.4L1032.6 62.6L1033.5 62.8L1034.4 63.1L1035.4 63.3L1036.4 63.6L1037.4 63.8L1038.3 64.1L1039.3 64.4L1040.2 64.6L1041.1 64.9L1042.1 65.1L1043 65.4L1044.1 65.7L1045 65.9L1046 66.1L1046.8 66.4L1047.7 66.7L1048.6 66.9L1049.5 67.2L1050.4 67.5L1051.3 67.8L1052.3 68.1L1053.2 68.4L1054.1 68.7L1055.1 69L1056 69.4L1056.9 69.6L1057.9 69.9L1058.9 70.1L1059.8 70.5L1060.7 70.7L1061.6 71L1062.6 71.4L1063.6 71.7L1064.6 72L1065.4 72.3L1066.3 72.5L1067.2 72.8L1068.2 73.1L1069.2 73.4L1070.1 73.7L1071 74L1071.9 74.3L1072.8 74.6L1073.8 74.9L1074.7 75.2L1075.6 75.5L1076.5 75.8L1077.5 76.1L1078.4 76.4L1079.4 76.7L1080.4 77.1L1081.6 77.3L1082.5 77.6L1083.7 78L1084.6 78.2L1085.5 78.5L1086.4 78.8L1087.4 79.2L1088.4 79.4L1089.3 79.8L1090.6 80.2L1091.5 80.6L1092.3 80.9L1093.2 81.2L1094.1 81.5L1095.1 81.9L1096.1 82.3L1097.1 82.7L1098.4 83L1099.5 83.4L1100.6 83.8L1101.7 84.1L1102.6 84.4L1103.4 84.7L1104.4 85L1105.3 85.4L1106.3 85.7L1107.3 86.1L1108.2 86.4L1109.3 86.8L1110.5 87.2L1111.4 87.6L1112.9 87.8L1113.9 88.1L1115.1 88.4L1116 88.6L1117 89L1118.1 89.2L1119.6 89.5L1121 89.8L1122 90.2L1123.2 90.5L1124.5 90.7L1126 91.2L1127.1 91.4L1128.1 91.7L1129.1 92L1130.4 92.4L1131.4 92.9L1133.7 93.3L1134.9 93.7L1136.3 94L1137.3 94.3L1138.2 94.6L1139.3 95L1141.5 95.3L1142.5 95.7L1143.6 96L1145.1 96.4L1146.2 96.8L1147.7 97.2L1148.5 97.6L1149.7 98L1151 98.4L1152.3 98.8L1154.2 99.5L1155.4 99.9L1156.3 100.1L1157.4 100.4L1158.4 100.6L1159.6 101.1L1160.8 101.6L1161.9 101.8L1163 102.1L1164 102.6L1165.2 103.2L1168 103.5L1169.7 104L1170.8 104.6L1172.3 105.2L1173.2 105.5L1174.7 105.9L1176.5 106.2L1178.1 106.9L1179.7 107.6L1180.8 107.9L1182.5 108.3L1183.4 108.7L1184.9 109L1186 109.4L1187.3 109.8L1188.4 110.3L1189.4 110.7L1190.2 111.1L1191.3 111.6M1195.8 112h0L1196.8 112.5L1197.8 113L1198.8 113.5M1202.8 114h0L1205.7 114.5L1207.2 115.1L1208.5 115.6L1209.6 116.2L1210.8 116.8M1217.3 117.4h0L1218.8 118.1L1220.5 118.7M1224.3 119.4h0L1226.5 120.2M1231.1 120.9h0L1233.1 121.7M1238.9 122.6h0M1248.9 123.4h0M1252.5 124.4h0M1257.7 125.3h0M1263.4 126.4h0M1269.9 127.5h0M1274.7 128.7h0M1289 129.9h0M1298.7 131.3h0M1306.8 132.8h0M1316.7 134.4h0M1322.4 136.2h0M1333 138.3h0M1335.9 140.6h0M1346.5 143.2h0M1349 146.3h0M1362 150.1h0M1379.5 155.1h0M1385.1 162h0M1413.1 173.9h0" stroke="#0072BD" stroke-width="12.0"/>
<path d="M958.5 40.8h0L958.5 41.7L958.7 42.5L959.6 42.8L960.4 43L961.3 43.3L962.2 43.5L963.1 43.8L964 44L964.9 44.3L965.8 44.5L966.7 44.7L967.6 44.9L968.5 45.1L969.4 45.3L970.3 45.5L971.1 45.7L972 45.9L972.9 46.2L973.8 46.4L974.7 46.6L975.7 46.8L976.6 47L977.5 47.2L978.4 47.4L979.3 47.6L980.2 47.9L981.1 48.1L982.1 48.3L982.9 48.5L983.9 48.7L984.8 48.9L985.6 49.1L986.6 49.3L987.5 49.5L988.3 49.8L989.3 50L990.2 50.2L991 50.4L991.9 50.6L992.8 50.8L993.8 51.1L994.7 51.2L995.6 51.5L996.5 51.7L997.4 51.9L998.3 52.1L999.2 52.3L1000.1 52.5L1001 52.8L1001.9 53L1002.8 53.2L1003.7 53.5L1004.6 53.7L1005.5 53.9L1006.4 54.2L1007.3 54.4L1008.1 54.7L1009.1 54.9L1010 55.2L1010.9 55.4L1011.8 55.6L1012.8 55.9L1013.6 56.1L1014.5 56.4L1015.5 56.6L1016.4 56.8L1017.3 57.1L1018.2 57.3L1019.1 57.6L1020.1 57.8L1020.9 58.1L1021.9 58.3L1022.8 58.6L1023.8 58.8L1024.6 59L1025.5 59.3L1026.4 59.5L1027.3 59.8L1028.3 60L1029.1 60.2L1030.2 60.5L1031 60.7L1031.9 61L1032.9 61.2L1033.8 61.5L1034.7 61.7L1035.6 62L1036.5 62.2L1037.4 62.5L1038.4 62.7L1039.2 62.9L1040.1 63.2L1041.1 63.4L1042 63.7L1042.9 63.9L1043.9 64.2L1044.9 64.4L1045.9 64.7L1046.8 64.9L1047.7 65.2L1048.6 65.5L1049.5 65.8L1050.4 66.1L1051.3 66.3L1052.1 66.6L1053 66.9L1054 67.2L1054.9 67.5L1055.8 67.7L1056.6 68L1057.6 68.3L1058.5 68.6L1059.4 68.9L1060.2 69.2L1061.2 69.5L1062.2 69.8L1063.2 70.1L1064 70.3L1065 70.6L1065.9 71L1066.9 71.2L1067.8 71.5L1068.8 71.8L1069.8 72.1L1070.8 72.5L1071.7 72.7L1072.8 73.1L1073.7 73.3L1074.6 73.6L1075.5 73.9L1076.4 74.2L1077.3 74.5L1078.2 74.8L1079.1 75L1080 75.3L1081.1 75.6L1082.1 76L1083 76.3L1084 76.6L1084.9 76.9L1085.8 77.2L1086.7 77.5L1087.7 77.8L1088.6 78.1L1089.5 78.3L1090.5 78.6L1091.5 78.9L1092.4 79.3L1093.6 79.6L1094.6 79.9L1095.6 80.2L1096.5 80.5L1097.5 80.6L1098.4 80.9L1099.3 81.1L1100.3 81.4L1101.3 81.7L1102.2 82L1103.1 82.3L1104.2 82.6L1105.1 82.9L1106.1 83.3L1107.1 83.6L1108.3 84L1109.2 84.3L1110.1 84.5L1111.3 84.9L1112.6 85.3L1113.9 85.7L1115 86L1115.9 86.3L1117.1 86.7L1118.1 87L1118.9 87.5L1119.9 87.8L1121.1 88.1L1122.7 88.6L1123.8 88.9L1124.8 89.1L1125.8 89.3L1126.7 89.7L1127.6 90.1L1128.7 90.2L1129.8 90.6L1131 91L1131.9 91.4L1133.4 91.9L1134.3 92.3L1135.2 92.4L1136.3 92.9L1137.5 93.2L1138.7 93.5L1139.7 93.8L1140.8 94.1L1142 94.5L1142.9 94.8L1144.2 95.2L1145.2 95.5L1146.1 96L1147.6 96.6L1148.6 96.8L1149.5 97.2L1151 97.6L1152.3 98L1153.4 98.4L1155.8 99L1156.9 99.5L1157.9 99.9L1159 100.4L1160.4 100.8L1161.7 101.3L1163.1 101.8L1164.3 102.1L1165.3 102.4L1166.7 102.6L1167.6 102.9L1169.3 103.5L1171.9 103.7L1173.2 104L1174.9 104.6L1176.3 105.2L1177.9 105.5L1178.9 105.9L1180.2 106.2L1181.7 106.5L1182.8 106.9L1183.6 107.2L1184.9 107.6L1186.1 107.9L1187.5 108.3L1188.7 108.7L1189.5 109L1190.6 109.4L1192.2 109.8L1193.7 110.3L1194.6 110.7L1197 111.1L1198.3 111.6L1200.8 112M1206.5 112.5h0L1207.8 113L1209.4 113.5L1212 114L1213.7 114.5M1217.5 115.1h0L1219.3 115.6M1224.3 116.2h0L1227.1 116.8L1229.2 117.4L1231.2 118.1M1234.8 118.7h0M1238.3 119.4h0M1241.9 120.2h0M1244.9 120.9h0M1248.7 121.7h0M1255 122.6h0M1259.4 123.4h0M1263.2 124.4h0M1269.7 125.3h0M1275.3 126.4h0M1283.6 127.5h0M1288.1 128.7h0M1293.3 129.9h0M1299.2 131.3h0M1306.3 132.8h0M1310 134.4h0M1325.7 136.2h0M1328.5 138.3h0M1332 140.6h0M1338.8 143.2h0M1343 146.3h0M1357.2 150.1h0M1371.8 155.1h0M1425.1 162h0M1480 173.9h0" stroke="#4DBEEE" stroke-width="12.0"/>
<path d="M958.5 40.8h0L958.5 41.7L958.6 42.6L959.5 42.8L960.4 43L961.3 43.3L962.2 43.6L963 43.8L963.9 44.1L964.8 44.3L965.7 44.6L966.6 44.8L967.5 45L968.4 45.3L969.3 45.5L970.2 45.7L971.1 45.9L971.9 46.2L972.8 46.4L973.8 46.6L974.7 46.8L975.5 47.1L976.4 47.3L977.3 47.5L978.2 47.7L979.1 48L980 48.2L981 48.4L981.9 48.7L982.7 48.9L983.6 49.1L984.5 49.3L985.4 49.5L986.3 49.8L987.2 50L988.1 50.2L989 50.4L989.9 50.6L990.8 50.9L991.7 51.1L992.6 51.3L993.5 51.6L994.4 51.8L995.3 52L996.2 52.2L997.1 52.5L998 52.7L999 52.9L999.9 53.2L1000.9 53.4L1001.8 53.6L1002.7 53.8L1003.7 54.1L1004.6 54.3L1005.5 54.5L1006.4 54.7L1007.3 54.9L1008.2 55.1L1009.1 55.3L1010.1 55.5L1011.1 55.8L1012 56L1013 56.2L1014 56.5L1014.9 56.7L1015.8 56.9L1016.8 57.1L1017.7 57.3L1018.6 57.6L1019.5 57.8L1020.4 58L1021.3 58.2L1022.2 58.4L1023.2 58.6L1024.1 58.8L1025 59.1L1026 59.3L1027 59.5L1027.9 59.7L1028.7 59.9L1029.6 60.1L1030.6 60.4L1031.5 60.6L1032.5 60.8L1033.3 61L1034.3 61.2L1035.3 61.4L1036.2 61.7L1037.1 61.9L1038 62.1L1038.9 62.3L1039.9 62.5L1040.8 62.8L1041.7 62.9L1042.6 63.1L1043.7 63.4L1044.7 63.7L1045.6 63.9L1046.6 64.1L1047.5 64.3L1048.4 64.6L1049.3 64.9L1050.2 65.1L1051.2 65.4L1052 65.6L1052.9 66L1053.8 66.2L1054.6 66.5L1055.6 66.8L1056.6 67.1L1057.5 67.4L1058.4 67.6L1059.3 67.9L1060.2 68.2L1061 68.5L1062.1 68.8L1063 69.1L1064 69.4L1065.1 69.7L1066 70L1067 70.3L1067.9 70.6L1068.8 70.9L1069.7 71.2L1070.6 71.4L1071.5 71.8L1072.4 72.1L1073.3 72.4L1074.4 72.6L1075.3 72.9L1076.2 73.2L1077.2 73.5L1078.1 73.8L1079.1 74.1L1080.1 74.4L1081 74.7L1081.9 74.9L1082.8 75.2L1083.8 75.5L1084.7 75.8L1085.7 76.1L1086.5 76.4L1087.9 76.9L1088.8 77.2L1089.8 77.5L1090.9 77.8L1091.9 78.1L1093 78.4L1094 78.7L1095.1 79L1096 79.3L1096.9 79.6L1097.8 79.9L1099.2 80.1L1100.2 80.4L1101.1 80.7L1102.1 80.9L1103.2 81.2L1104.2 81.5L1105.3 81.8L1106.5 82.1L1107.6 82.4L1108.6 82.7L1109.6 82.8L1110.7 83.2L1111.7 83.4L1112.8 83.8L1114.3 84.1L1115.2 84.4L1116.2 84.7L1117.3 84.8L1118.3 85.1L1119.3 85.4L1120.6 85.7L1121.6 86L1122.6 86.2L1123.5 86.5L1124.8 86.8L1126.1 87.1L1127.3 87.4L1128.4 87.7L1129.4 88L1130.9 88.4L1131.9 88.7L1132.9 89L1134.1 89.3L1135.4 89.7L1136.5 89.8L1137.5 90.1L1138.7 90.5L1139.6 90.7L1140.6 91.2L1141.6 91.4L1142.8 91.9L1143.8 92.3L1144.8 92.7L1145.8 93.2L1146.5 93.7L1147.4 94.1L1149.3 94.6L1150.1 95L1151.4 95.5L1152.4 96L1153.3 96.6L1154.3 97.2L1155.7 97.6L1156.8 98L1157.9 98.4L1159.7 99L1160.9 99.5L1162 99.9L1162.9 100.4L1164.4 100.8L1165.5 101.3L1166.4 101.8L1167.5 102.4L1168.3 102.9L1169.3 103.5L1170.9 104L1171.9 104.6L1173.3 105.2L1174.4 105.5L1175.6 105.9L1177.2 106.5L1178.5 107.2L1180.2 107.9L1181.5 108.3L1183.4 109L1184.6 109.4L1185.8 109.8L1187.8 110.7L1190.6 111.6L1191.5 112L1192.4 112.5L1193.5 113L1195.7 113.5L1196.6 114L1198.6 114.5L1200.5 115.1L1202.1 115.6M1208.4 116.2h0L1210.4 116.8L1212.6 117.4L1214.4 118.1L1216 118.7L1217.3 119.4L1220 120.2L1221.4 120.9L1224.2 121.7L1226.4 122.6L1228.1 123.4L1230.8 124.4L1232.1 125.3M1237.3 126.4h0M1244 127.5h0M1248.5 128.7h0M1254.4 129.9h0M1259.8 131.3h0M1272.3 132.8h0M1281.4 134.4h0M1290.8 136.2h0M1296.4 138.3h0M1299 140.6h0M1303 143.2h0M1306.8 146.3h0M1337.3 150.1h0M1348 155.1h0M1367.9 162h0M1493.1 173.9h0" stroke="#77AC30" stroke-width="12.0"/>
<path d="M958.5 40.8h0L958.5 41.7L958.5 42.6L959.4 42.8L960.2 43.1L961.2 43.4L962.1 43.6L963 43.9L963.8 44.1L964.7 44.4L965.6 44.6L966.5 44.9L967.4 45.1L968.2 45.4L969.1 45.6L970 45.8L970.9 46.1L971.8 46.3L972.7 46.5L973.6 46.7L974.5 47L975.3 47.2L976.2 47.4L977.1 47.7L978 47.9L978.9 48.2L979.8 48.4L980.7 48.6L981.6 48.8L982.5 49.1L983.3 49.3L984.3 49.6L985.2 49.8L986.1 50L987 50.3L987.9 50.5L988.8 50.7L989.7 51L990.6 51.2L991.4 51.5L992.3 51.7L993.2 51.9L994.1 52.2L995 52.4L995.9 52.6L996.8 52.8L997.7 53.1L998.6 53.3L999.5 53.6L1000.4 53.8L1001.3 54L1002.2 54.3L1003.1 54.5L1004 54.7L1005 55L1005.9 55.2L1006.8 55.5L1007.7 55.7L1008.5 55.9L1009.5 56.2L1010.4 56.4L1011.3 56.7L1012.2 56.9L1013.1 57.1L1014 57.4L1014.9 57.6L1015.8 57.9L1016.8 58.1L1017.7 58.4L1018.7 58.6L1019.6 58.9L1020.5 59.1L1021.5 59.4L1022.5 59.6L1023.6 59.9L1024.5 60.1L1025.4 60.4L1026.3 60.6L1027.2 60.9L1028.1 61.1L1029.1 61.4L1030 61.6L1030.9 61.9L1031.8 62.1L1032.8 62.3L1033.7 62.6L1034.7 62.8L1035.7 63.1L1036.7 63.4L1037.7 63.6L1038.6 63.9L1039.4 64.1L1040.4 64.4L1041.4 64.6L1042.3 64.9L1043.2 65.1L1044.2 65.4L1045.1 65.6L1046 65.9L1047 66.1L1047.9 66.4L1048.8 66.7L1049.7 67L1050.7 67.2L1051.6 67.5L1052.5 67.8L1053.5 68.1L1054.4 68.4L1055.3 68.7L1056.2 68.9L1057.1 69.2L1057.9 69.6L1058.9 69.8L1059.8 70.1L1060.8 70.4L1061.7 70.6L1062.6 70.9L1063.5 71.2L1064.4 71.5L1065.4 71.8L1066.3 72.1L1067.1 72.4L1068 72.6L1069 72.9L1070.1 73.3L1071 73.6L1072 73.9L1072.9 74.2L1074.1 74.5L1075 74.8L1076.1 75.1L1077.2 75.4L1078.1 75.8L1079 76L1080 76.4L1081.2 76.7L1082.1 77L1083.2 77.3L1084.1 77.6L1085.1 77.9L1086.1 78.2L1086.9 78.5L1088.2 78.9L1089.3 79.3L1090.2 79.6L1091.7 80L1092.6 80.3L1093.5 80.6L1094.4 80.8L1095.3 81.1L1096.2 81.4L1097.1 81.6L1098.1 81.9L1099.2 82.1L1100.3 82.4L1101.3 82.7L1102.2 82.9L1103 83.2L1104.2 83.4L1105.2 83.7L1106.3 84L1107.2 84.3L1108.3 84.5L1109.5 84.9L1110.5 85.2L1111.4 85.4L1112.8 85.8L1113.9 86.1L1114.8 86.3L1115.8 86.5L1117.5 86.9L1118.5 87.2L1119.4 87.5L1120.8 87.8L1121.6 88L1122.5 88.4L1123.5 88.6L1124.7 88.7L1125.8 89.1L1126.7 89.3L1127.8 89.7L1129.1 89.8L1130.1 90.1L1131.1 90.5L1132.9 90.9L1134 91.2L1135.3 91.4L1136.4 91.7L1137.4 92L1138.6 92.4L1140.4 92.9L1141.9 93.3L1143.1 93.7L1144.1 94.1L1145 94.5L1146.5 94.6L1148.2 95.2L1149.1 95.5L1150.5 96L1151.5 96.2L1152.6 96.6L1153.8 97L1154.7 97.4L1156.3 97.8L1157.3 98.2L1158.3 98.6L1159.9 99L1161.2 99.5L1163.8 99.9L1165 100.4L1166.2 100.8L1167 101.3L1168 101.6L1170.4 102.1L1172.4 102.6L1173.4 103.2L1174.6 103.7L1175.7 104L1177.8 104.6L1179.2 105.2L1181 105.9L1183.5 106.2L1184.9 106.5L1186.7 107.2L1189 107.9L1191.5 108.3L1193 108.7L1194.6 109L1196.1 109.4L1197.4 109.8L1198.7 110.3L1201.1 110.7L1202.5 111.1L1203.5 111.6L1204.6 112M1208.2 113h0L1209.6 113.5L1211.3 114L1212.2 114.5L1213.1 115.1M1216.7 115.6h0M1220.7 116.2h0L1222.2 116.8L1223.1 117.4L1225.5 118.1M1231.1 118.7h0L1233 119.4M1236.8 120.2h0M1240.5 120.9h0M1243.6 121.7h0M1247.4 122.6h0L1249.6 123.4L1252 124.4M1259.2 125.3h0M1264.5 126.4h0M1267.5 127.5h0M1270.5 128.7h0M1274.5 129.9h0L1277 131.3M1280.7 132.8h0M1284.5 134.4h0L1286 136.2M1313.5 138.3h0M1315.5 140.6h0M1319.4 143.2h0M1322.5 146.3h0M1324.5 150.1h0M1326.5 155.1h0M1341.2 162h0M1443.9 173.9h0" stroke="#993300" stroke-width="12.0"/>
</g>
<rect x="951.7" y="1.3" width="640.3" height="197.3" stroke="#262626" stroke-width="2.3" fill="none"/>
<g class="tk" text-anchor="middle">
<text transform="translate(951.1 238.1) scale(1 1.085)">0</text>
<text transform="translate(1057.82 238.1) scale(1 1.085)">0.02</text>
<text transform="translate(1164.53 238.1) scale(1 1.085)">0.04</text>
<text transform="translate(1271.25 238.1) scale(1 1.085)">0.06</text>
<text transform="translate(1377.97 238.1) scale(1 1.085)">0.08</text>
<text transform="translate(1484.68 238.1) scale(1 1.085)">0.1</text>
<text transform="translate(1591.4 238.1) scale(1 1.085)">0.12</text>
</g>
<g class="tk" text-anchor="end">
<text transform="translate(941.1 57.16) scale(1 1.085)">10<tspan class="sp" dx="1.5" dy="-13.0">0</tspan></text>
<text transform="translate(941.1 136.08) scale(1 1.085)">10<tspan class="sp" dx="1.5" dy="-13.0">-2</tspan></text>
<text transform="translate(941.1 215) scale(1 1.085)">10<tspan class="sp" dx="1.5" dy="-13.0">-4</tspan></text>
</g>
<text class="tt" transform="translate(1178.5 45.8) scale(1 1.03)">Polycrystalline NiFe 1000 nm</text>
<text class="tg" transform="translate(1601.6 37) scale(1 0.985)">(b)</text>
<g class="fit">
<text class="lm gl" transform="translate(978.5 167) skewX(-7) scale(1 0.98)">λ </text>
<text class="lm" transform="translate(1004.9 167) scale(1 1.06)">= (0.13 </text>
<text class="pm" transform="translate(1117.65 166.2)" text-anchor="middle">±</text>
<text class="lm" transform="translate(1137.8 167) scale(1 1.06)"> 0.01) ms</text>
</g>
</g>
<g id="panel-c">
<path d="M270.12 472v-7.8M270.12 274.5v7.8M430.18 472v-7.8M430.18 274.5v7.8M590.24 472v-7.8M590.24 274.5v7.8M110.06 460.11h4.6M750.3 460.11h-4.6M110.06 453.15h4.6M750.3 453.15h-4.6M110.06 448.22h4.6M750.3 448.22h-4.6M110.06 444.39h4.6M750.3 444.39h-4.6M110.06 441.26h4.6M750.3 441.26h-4.6M110.06 438.62h4.6M750.3 438.62h-4.6M110.06 436.33h4.6M750.3 436.33h-4.6M110.06 434.31h4.6M750.3 434.31h-4.6M110.06 432.5h4.6M750.3 432.5h-4.6M110.06 420.61h4.6M750.3 420.61h-4.6M110.06 413.65h4.6M750.3 413.65h-4.6M110.06 408.72h4.6M750.3 408.72h-4.6M110.06 404.89h4.6M750.3 404.89h-4.6M110.06 401.76h4.6M750.3 401.76h-4.6M110.06 399.12h4.6M750.3 399.12h-4.6M110.06 396.83h4.6M750.3 396.83h-4.6M110.06 394.81h4.6M750.3 394.81h-4.6M110.06 393h7.8M750.3 393h-7.8M110.06 381.11h4.6M750.3 381.11h-4.6M110.06 374.15h4.6M750.3 374.15h-4.6M110.06 369.22h4.6M750.3 369.22h-4.6M110.06 365.39h4.6M750.3 365.39h-4.6M110.06 362.26h4.6M750.3 362.26h-4.6M110.06 359.62h4.6M750.3 359.62h-4.6M110.06 357.33h4.6M750.3 357.33h-4.6M110.06 355.31h4.6M750.3 355.31h-4.6M110.06 353.5h4.6M750.3 353.5h-4.6M110.06 341.61h4.6M750.3 341.61h-4.6M110.06 334.65h4.6M750.3 334.65h-4.6M110.06 329.72h4.6M750.3 329.72h-4.6M110.06 325.89h4.6M750.3 325.89h-4.6M110.06 322.76h4.6M750.3 322.76h-4.6M110.06 320.12h4.6M750.3 320.12h-4.6M110.06 317.83h4.6M750.3 317.83h-4.6M110.06 315.81h4.6M750.3 315.81h-4.6M110.06 314h7.8M750.3 314h-7.8M110.06 302.11h4.6M750.3 302.11h-4.6M110.06 295.15h4.6M750.3 295.15h-4.6M110.06 290.22h4.6M750.3 290.22h-4.6M110.06 286.39h4.6M750.3 286.39h-4.6M110.06 283.26h4.6M750.3 283.26h-4.6M110.06 280.62h4.6M750.3 280.62h-4.6M110.06 278.33h4.6M750.3 278.33h-4.6M110.06 276.31h4.6M750.3 276.31h-4.6" stroke="#262626" stroke-width="2.5" fill="none"/>
<g fill="none" stroke-linecap="round" stroke-linejoin="round">
<path d="M120.8 314h0L121.5 314.7L122.5 315.1L123.4 315.4L124.3 315.8L125.1 316.1L126 316.5L127 316.8L128 317.1L128.9 317.4L130 317.7L130.9 317.9L131.9 318.1L132.8 318.3L133.8 318.6L134.7 318.8L135.6 319L136.6 319.3L137.5 319.5L138.5 319.8L139.5 320.1L140.4 320.3L141.4 320.5L142.4 320.7L143.3 320.9L144.3 321.3L145.2 321.5L146.1 321.7L147.2 321.9L148.2 322.2L149.4 322.5L150.3 322.7L151.2 322.9L152.2 323.1L153.1 323.4L154.1 323.6L155.1 323.9L156.1 324.1L157.1 324.3L158.1 324.4L159 324.7L159.9 324.8L161 325L161.9 325.3L162.9 325.5L163.9 325.6L164.8 325.8L165.8 326L166.7 326.2L167.7 326.4L168.6 326.6L169.6 326.7L170.5 327L171.7 327.1L172.6 327.4L173.5 327.6L174.7 327.8L175.9 328L177 328.2L178.3 328.5L179.3 328.7L180.3 328.8L181.4 329L182.5 329.2L183.4 329.4L184.7 329.5L185.8 329.8L186.7 330L187.7 330.1L188.8 330.3L190.3 330.5L191.3 330.7L192.3 330.9L193.2 331.1L194.7 331.3L196.4 331.5L197.5 331.8L198.7 332L200.1 332.2L201.1 332.4L202.2 332.7L203.5 332.9L204.8 333.1L205.8 333.4L206.9 333.6L208 333.8L209.2 334.1L210.4 334.2L211.4 334.6L213 334.8L214.1 335L215.1 335.1L216.1 335.3L217 335.6L218 335.8L219.3 336.1L221 336.3L222 336.5L223 336.7L224 336.9L225 337.2L226 337.4L227.4 337.5L228.8 337.8L230.8 338.1L232.3 338.5L233.5 338.8L234.5 339.1L236.4 339.2L237.5 339.4L238.6 339.6L239.6 339.8L240.8 340.1L242.2 340.2L243.4 340.4L244.5 340.7L245.4 340.9L246.5 341.2L247.5 341.4L248.6 341.7L249.5 342L250.6 342.2L252.1 342.5L253.2 342.6L254.3 342.9L255.4 343.2L257.7 343.5L259.1 343.8L260.2 344.1L261.5 344.4L262.7 344.7L263.6 345L265.3 345.4L266.5 345.5L267.6 345.9L269.2 346.2L270.2 346.4L271.6 346.5L273.3 346.9L275.3 347.3L276.8 347.6L278.7 348L279.9 348.4L281.2 348.8L282.5 349.2L283.5 349.6M287 350h0L287.9 350.2L289 350.5L290.4 350.9L292.9 351.4L294.3 351.6L296.1 352.1L297.1 352.3L298.3 352.6L300.7 353.1L301.8 353.3L303.2 353.6L304.6 353.9L306.3 354.4L308.3 355L309.2 355.3M312.9 355.8h0L313.8 356.1L315.4 356.5L317.7 356.8L319.2 357.1L320.8 357.4L321.9 357.8L323.8 358.1L326.3 358.4L327.7 358.8L329.6 359.2L332.2 359.5L334.2 359.9L336.4 360.3M339.6 360.7h0L341.5 361.1L343.2 361.5L344.8 361.9L347.3 362.4L349.4 362.8L351.6 363.3L353.2 363.7L354.3 364.2L356.7 364.7L358.1 365.2L359.1 365.7L360.1 366.3L361.2 366.9L363.7 367.4L364.6 368M369.6 368.7h0L371.3 369.3L373.4 370M379.1 370.7h0M382.4 371.4h0L384.6 372.2L386.6 373M391.9 373.8h0M395.3 374.7h0L397.8 375.6L400.3 376.6M403.9 377.6h0L406 378.7M409.2 379.9h0L411.3 381.2M414.3 382.6h0M418.1 384.1h0M420.6 385.7h0M425.7 387.5h0M429.3 389.5h0M435.5 391.8h0M440 394.5h0M452 397.6h0M468.5 401.4h0M485.5 406.4h0M529.7 413.3h0M536.4 425.2h0" stroke="#7E2F8E" stroke-width="12.0"/>
<path d="M120.8 314h0L121.4 314.7L122.3 315.1L123.2 315.5L124 315.9L124.9 316.3L125.7 316.7L126.6 317.1L127.5 317.3L128.3 317.6L129.3 317.9L130.2 318.2L131.1 318.4L132 318.7L132.9 319L134 319.3L134.9 319.7L135.8 320L136.7 320.2L137.6 320.4L138.5 320.7L139.4 321L140.3 321.3L141.3 321.6L142.4 321.9L143.4 322.1L144.5 322.4L145.3 322.7L146.3 323L147.3 323.3L148.3 323.6L149.3 323.9L150.3 324.2L151.2 324.5L152.2 324.8L153.4 325.2L154.5 325.4L155.7 325.6L156.6 325.8L157.5 326L158.5 326.3L159.4 326.5L160.5 326.8L161.5 327L162.8 327.3L163.8 327.5L165 327.7L166.2 327.9L167.3 328.2L168.4 328.5L169.4 328.7L170.4 328.9L171.5 329.2L172.5 329.5L173.4 329.8L174.3 329.9L175.4 330.2L176.9 330.5L178.1 330.9L179.1 331.1L180 331.3L181 331.5L182.3 331.7L183.3 331.9L184.3 332.1L185.6 332.5L186.5 332.7L187.6 333L188.7 333.2L189.5 333.4L190.5 333.6L191.5 333.9L192.7 334.2L194.5 334.4L195.4 334.6L196.3 334.9L197.2 335.1L198.4 335.4L199.3 335.7L200.4 335.9L201.4 336.2L202.5 336.4L203.6 336.7L204.7 336.9L205.8 337L206.8 337.4L207.7 337.5L209.2 337.7L210.3 338L211.7 338.4L213.7 338.7L215.5 339.1L216.6 339.4L217.9 339.5L219 339.9L220.6 340.2L221.5 340.4L222.6 340.6L223.5 340.9L224.8 341L225.9 341.3L226.8 341.6L228.6 341.9L229.5 342.2L230.7 342.4L232.5 342.7L233.6 343L234.8 343.5L235.7 343.8L237 344.3L237.9 344.5L239 345.1L241 345.2L242.7 345.6L243.9 345.8L245 346.2L247.5 346.8L248.5 347.2L250.5 347.6L252 348L252.9 348.5L255 348.9L256.6 349.4L257.5 349.9L258.5 350.1M261.6 350.6h0L263.5 351.1L264.9 351.4L266.7 351.7L267.6 351.9L269.1 352.2L270.3 352.5L271.3 352.8L272.8 353.3L275.4 353.6L277 353.9L278 354.3L279.2 354.6L280.8 354.9L282.1 355.2L283.9 355.9L285.3 356.2M288.8 356.6h0L289.9 357L290.9 357.3L292.2 357.7L294.7 358.1L296.4 358.5M301 358.9h0L303 359.3L304.8 359.7L306.1 360.2L308.5 360.6L310.2 361.1L312.2 361.5L314.8 362L317.3 362.5L319 363L320.7 363.5M324 364.1h0M327.4 364.7h0L329.7 365.2M336.9 365.8h0L338.4 366.5L340.7 367.1M345.3 367.8h0L347.1 368.5M350.7 369.2h0L352.3 370L354.8 370.8L357.1 371.6M360.7 372.5h0L362.7 373.4L365 374.4M369.6 375.4h0M372.6 376.5h0L375.1 377.7L376.8 379L378.4 380.4L380 381.9M387.7 383.5h0M393.2 385.3h0M396.5 387.3h0M402.3 389.6h0M405.2 392.3h0M410 395.4h0M423.3 399.2h0M430.6 404.2h0M482.2 411.1h0M500.2 423h0" stroke="#4DBEEE" stroke-width="12.0"/>
<path d="M120.8 314h0L121.4 314.7L122.3 315.1L123.2 315.5L124 315.9L124.9 316.3L125.7 316.6L126.5 317L127.5 317.4L128.5 317.7L129.4 317.9L130.2 318.2L131.3 318.5L132.5 318.9L133.4 319.2L134.2 319.4L135.2 319.7L136.1 320L137 320.3L138 320.5L138.8 320.8L139.8 321.1L140.7 321.4L141.6 321.6L142.5 321.9L143.4 322.2L144.4 322.5L145.3 322.8L146.3 323L147.4 323.3L148.2 323.7L149.2 323.9L150.1 324.2L151.1 324.4L152.1 324.7L153.2 325L154.2 325.3L155.2 325.5L156.2 325.7L157.1 325.9L158.2 326.2L159.1 326.4L160.1 326.6L161.1 326.8L162 327L163 327.2L163.8 327.4L164.7 327.6L165.6 327.9L166.7 328.1L167.7 328.3L169 328.5L170.1 328.8L171 329L171.9 329.1L173 329.4L173.9 329.7L175.1 329.9L176.1 330.2L177.1 330.4L178.1 330.6L179.2 330.8L180.1 331L181.2 331.3L182.2 331.5L183.3 331.8L184.2 331.9L185.5 332.2L186.6 332.4L187.6 332.6L188.6 332.8L189.6 333.1L190.6 333.3L191.6 333.6L192.8 333.9L193.8 334.1L194.9 334.3L195.9 334.5L196.9 334.7L198.2 335L199.6 335.3L200.8 335.6L202 335.8L203 336.1L204.8 336.5L205.9 336.7L207.5 337L208.9 337.3L209.8 337.5L210.8 337.7L211.8 338L213.3 338.2L214.2 338.5L215.3 338.6L216.8 338.9L218.6 339.3L219.7 339.5L220.8 339.7L222.2 340L223.6 340.3L225 340.6L226.3 341L227.6 341.2L228.8 341.5L229.8 341.6L230.9 341.8L232.1 342.1L233.2 342.3L234.3 342.5L235.7 342.7L236.9 343L238.2 343.3L239.6 343.5L240.7 343.7L241.7 344L242.8 344.3L243.9 344.6L245.3 345L247.7 345.3L248.6 345.6L250.2 345.8L251.3 346.1L253.4 346.3L254.7 346.6L256.1 346.9L257.3 347.3L258.3 347.6L259.5 347.8L260.5 348L261.7 348.3L263.7 348.7L265 349.1L267 349.5L268.3 349.9L269.3 350.1L270.3 350.3L271.7 350.5L273.1 350.9L274.7 351.4L275.9 351.6L277.1 351.8L278.1 352L279.6 352.5L281.3 352.7L283 353.2L285 353.5L286.6 354L289 354.5L291.7 355L292.6 355.3L293.6 355.6L294.4 355.9L295.6 356.2L297.2 356.4L298.7 356.7L300.5 357L302.8 357.7L304.8 358.3L306.3 358.7L307.2 359L308.1 359.3L311 359.7L312 360.1L314.3 360.4L315.5 360.8L316.9 361.2L317.9 361.6L320 362L321.4 362.4L322.8 362.8L323.6 363.3M329.6 363.7h0M333.6 364.2h0L335.8 364.6L337.6 365.1L339.5 365.6M344.1 366.1h0L346 366.6M351.5 367.2h0L354 367.8M357.4 368.3h0M361.9 368.9h0M365.9 369.6h0M373.4 370.2h0M378.4 370.9h0M383.3 371.6h0M386.7 372.3h0M392.6 373.1h0M399.8 373.9h0L401.4 374.7M406.7 375.6h0L408.6 376.5L410.7 377.5M414.2 378.5h0L416.5 379.6L418.7 380.8L420.6 382.1M423.6 383.5h0M426.6 385h0M429.4 386.6h0M432 388.4h0M438 390.4h0M444.8 392.7h0M450.9 395.4h0M461.8 398.5h0M483.6 402.3h0M538 407.3h0M538.2 414.2h0M560.2 426.1h0" stroke="#D95319" stroke-width="12.0"/>
<path d="M120.8 314h0L121.5 314.6L122.4 315L123.2 315.2L124.1 315.6L125.1 315.9L126 316.3L126.9 316.5L127.9 316.8L128.8 317L129.8 317.3L130.7 317.4L131.6 317.6L132.5 317.9L133.5 318.1L134.3 318.3L135.3 318.5L136.2 318.7L137.2 318.9L138.1 319L139.1 319.3L140 319.5L141.1 319.7L142 319.9L143 320.1L144 320.3L144.9 320.5L145.9 320.8L146.9 320.9L147.9 321.2L149 321.4L150 321.6L151.1 321.9L152 322.2L153.1 322.5L154.1 322.7L155 322.9L156.2 323.1L157.2 323.3L158.2 323.6L159.2 323.8L160.2 324L161.1 324.3L162.1 324.5L163.1 324.7L164.1 324.9L165.1 325.1L166.1 325.3L167.1 325.5L168.2 325.7L169.3 326L170.4 326.3L171.3 326.4L172.2 326.7L173.6 326.9L174.6 327.1L175.5 327.4L176.6 327.6L177.5 327.9L178.6 328L179.6 328.3L180.5 328.6L181.7 328.7L182.6 329L183.5 329.1L184.5 329.4L185.6 329.6L186.6 329.8L187.7 330L188.6 330.2L189.7 330.5L190.5 330.7L191.9 330.9L193.1 331.2L194 331.4L194.9 331.7L196 331.8L197.5 332L198.5 332.3L199.6 332.6L201 332.8L201.9 333L203 333.3L203.9 333.5L205.2 333.8L206.7 334L207.9 334.3L208.9 334.6L210 334.7L211.3 335L212.3 335.2L213.2 335.4L214.4 335.5L215.3 335.7L216.4 336L217.5 336.1L218.8 336.4L219.9 336.7L221.1 336.9L222.2 337.2L224 337.4L225 337.6L225.9 337.8L226.9 337.9L228.4 338.3L229.5 338.5L230.7 338.8L231.6 339L232.5 339.3L233.4 339.5L234.4 339.7L235.8 340L236.8 340.2L238.1 340.6L239.3 341L240.5 341.3L242.3 341.7L243.2 342L244.1 342.3L245.5 342.5L246.5 342.8L248.3 343.3L249.3 343.6L250.2 343.9L251.6 344.3L252.9 344.6L254.3 344.9L256.5 345.3L257.9 345.8L258.8 346.1L259.7 346.4L261.1 346.8L262.7 347.2L264.3 347.3L265.4 347.7L266.4 347.9L267.3 348.1L268.6 348.3L269.6 348.5L272.1 348.7L273.7 349.1L275 349.5L276.1 349.7L278.1 349.9L279.8 350.4L281.4 350.6L283 351L285.2 351.3L287.1 351.5L289.6 352L290.9 352.2M294 352.7h0L295.5 353L296.5 353.2L297.8 353.5L298.8 353.8L299.9 354L301.2 354.3L302.9 354.6L304 354.9L305 355.2L307.1 355.4M310.2 355.7h0L311.5 356L313.9 356.4L315.9 356.7L318.1 357L320.5 357.3L321.8 357.7L323.3 358L326 358.3L327.5 358.7L328.8 359.1M332.3 359.4h0L334.1 359.8L335.5 360.2L337 360.6L338.4 361M344.3 361.4h0L345.8 361.8L348.1 362.3L350.5 362.7L352.7 363.2L354.8 363.6M360.1 364.1h0M363.2 364.6h0L364.4 365.1L366.9 365.6L368.5 366.2L371 366.8L372.6 367.3M376.3 367.9h0M380 368.6h0M383.5 369.2h0L385.4 369.9L388.3 370.6L391 371.3M394 372.1h0L395.7 372.9M398.6 373.7h0L401 374.6L402.8 375.5L405.1 376.5M409.6 377.5h0L411.7 378.6M415.4 379.8h0M426.7 381.1h0M433.4 382.5h0M452.3 384h0M459 385.6h0M468.1 387.4h0M472.6 389.4h0M478 391.7h0M483.6 394.4h0M492.1 397.5h0M520 401.3h0M542.4 406.3h0M596.3 413.2h0M612.3 425.1h0" stroke="#0072BD" stroke-width="12.0"/>
<path d="M120.8 314h0L121.5 314.6L122.4 315L123.4 315.3L124.2 315.7L125.1 316L126 316.3L126.9 316.6L127.8 316.9L128.9 317.2L129.9 317.4L130.8 317.6L131.7 317.8L132.7 318L133.9 318.3L134.9 318.5L135.9 318.8L136.9 319L137.9 319.2L138.8 319.4L139.7 319.6L140.7 319.8L141.6 320L142.8 320.3L143.7 320.5L144.7 320.7L146.1 321L147 321.3L148 321.5L149 321.7L150.2 322L151.1 322.3L152 322.5L152.9 322.7L153.9 323L154.8 323.2L155.9 323.4L156.8 323.6L157.7 323.9L158.7 324L159.6 324.2L160.7 324.5L161.7 324.7L162.6 324.9L163.6 325.1L165 325.3L166 325.6L167.2 325.9L168.2 326.1L169.1 326.3L170.3 326.5L171.4 326.8L172.4 327L173.6 327.2L174.8 327.5L175.7 327.8L176.8 327.9L177.7 328.1L178.8 328.3L179.7 328.5L180.8 328.8L181.9 329.1L182.9 329.3L183.9 329.5L185.1 329.7L186.2 330L187.1 330.2L188.1 330.3L189.3 330.6L190.2 330.9L191.2 331.1L192.4 331.4L193.5 331.5L194.6 331.8L196.2 332.1L197.2 332.2L198.1 332.5L199 332.7L200.4 333L201.5 333.3L203.5 333.6L204.5 333.9L205.6 334.1L206.7 334.4L207.8 334.7L209.2 334.9L210.4 335.1L211.6 335.4L212.6 335.6L214.3 335.9L215.4 336L216.4 336.2L217.7 336.5L218.6 336.7L220.8 337L221.8 337.2L222.9 337.4L224.2 337.8L225.4 338L226.5 338.3L228.1 338.5L229.3 338.9L230.6 339.1L231.6 339.3L232.7 339.7L233.9 340L235.1 340.3L236.3 340.6L237.2 341L238.1 341.1L239.4 341.4L240.9 341.6L242.4 342L243.4 342.3L244.7 342.6L245.8 343.1L247.2 343.4L248.1 343.7L249 344L250.1 344.1L251.3 344.4L252.2 344.8L253.5 345.3L254.7 345.4L255.8 345.8L257 346.1L258.3 346.5L259.4 346.8L260.6 347.2L261.8 347.4L263.6 347.8L265.7 348.2L267.5 348.6L268.8 349L269.8 349.2L270.9 349.6L272 350.1L272.9 350.3L274.3 350.8L276.8 351.2L277.9 351.7L279 352L280.2 352.5L283.2 352.7L285.2 353.3L286.5 353.5L287.6 353.8L289.7 354.1L290.9 354.4L292.9 354.9L295.1 355.5L296.4 355.9L297.3 356.2L298.8 356.5L299.8 356.8L301.3 357.2L303.1 357.5L304.7 357.8L306.9 358.2L308.3 358.6L309.9 358.9M313.7 359.3h0L315.2 359.7L317.6 360.1M322.4 360.5h0L324.4 360.9L326.2 361.3L328.5 361.8M331.6 362.2h0M334.6 362.7h0L337.3 363.1M340.6 363.6h0L343.3 364.1M347.2 364.6h0L349.3 365.1L352.3 365.7M356.3 366.3h0L358.7 366.8L360.1 367.4M363.8 368.1h0L365.6 368.7L367.2 369.4L369.5 370.1L371.3 370.8M376.4 371.6h0L378.8 372.4L380.5 373.2L382.8 374.1L385.2 375L386.9 376M390.8 377h0L393.4 378.1M399.5 379.3h0M411.7 380.6h0M423.4 382h0M439.5 383.5h0M465.3 385.1h0M475.2 386.9h0M486.1 388.9h0M503 391.2h0M512.7 393.9h0M518.8 397h0M530.3 400.8h0M578.2 405.8h0M614.2 412.7h0M710.2 424.6h0" stroke="#0072BD" stroke-width="12.0"/>
<path d="M120.8 314h0L121.4 314.7L122.3 315L123.1 315.4L124 315.7L124.8 316.1L125.8 316.5L126.7 316.9L127.6 317.2L128.5 317.4L129.4 317.6L130.3 317.9L131.3 318.1L132.2 318.4L133.2 318.6L134.1 318.9L135 319.2L135.9 319.4L136.8 319.7L137.7 319.9L138.6 320.1L139.5 320.4L140.5 320.6L141.4 320.9L142.4 321.1L143.4 321.4L144.3 321.6L145.3 321.9L146.3 322.2L147.2 322.4L148.1 322.7L149 322.9L149.9 323.1L150.9 323.4L151.8 323.7L152.7 323.9L153.7 324.2L154.7 324.4L155.6 324.6L156.8 324.8L157.8 325L158.8 325.2L159.7 325.5L160.7 325.6L161.7 325.9L162.6 326.1L163.5 326.3L164.5 326.5L165.8 326.7L166.9 327L167.8 327.2L168.9 327.4L169.8 327.6L170.8 327.8L171.7 328.1L172.7 328.3L173.8 328.5L174.8 328.7L175.7 328.9L176.6 329.2L177.7 329.4L178.8 329.6L179.8 329.8L180.7 330.1L181.7 330.2L182.6 330.5L183.6 330.6L184.7 330.9L185.9 331.2L187.5 331.5L188.6 331.6L189.5 331.9L190.6 332.1L191.6 332.4L192.9 332.6L193.8 332.8L195 333L196.2 333.3L197.2 333.5L198.4 333.7L199.3 334L200.4 334.2L201.6 334.5L202.6 334.7L203.9 334.9L205 335.1L206 335.3L207 335.5L208.1 335.8L209.2 336L210.1 336.2L211.5 336.5L212.4 336.7L213.4 336.8L214.6 337L215.9 337.3L217 337.5L218.2 337.8L219.3 338L220.6 338.3L221.9 338.5L222.8 338.7L223.8 339L225.1 339.3L226.4 339.5L228 339.8L229 340L229.9 340.1L230.9 340.4L232.5 340.7L234 341.1L234.9 341.3L235.8 341.6L238 341.8L239 341.9L240.3 342.2L241.4 342.4L242.7 342.6L243.6 342.9L244.6 343.1L245.6 343.4L247.7 343.8L248.9 344L249.9 344.1L251.6 344.4L252.6 344.7L253.8 344.9L254.7 345.2L255.6 345.3L256.7 345.6L258.1 346.1L259.2 346.2L260.2 346.5L262.1 346.8L263.1 347L263.9 347.3L265.6 347.6L267.2 347.9L268.2 348.2L269.7 348.6L271.3 348.9L273.4 349.2L274.8 349.6L276.6 350L277.9 350.3L279 350.7L280.2 350.9L282.5 351.3L284.1 351.7L285.4 351.9L286.6 352.1L288.8 352.5L290.4 352.9L291.4 353.2L293.2 353.6L294.5 354.1L295.3 354.3L297.3 354.5L299.6 355L300.5 355.3L301.7 355.5L302.8 355.8L303.9 356L304.8 356.3L306 356.6L307.4 357.1L309.8 357.7L311.5 358L313.7 358.2L314.7 358.5L316.6 359.2L317.8 359.5L319.1 359.8L321.3 360.1L322.3 360.5L323.4 360.8L324.3 361.1L325.2 361.5L327 361.9L327.8 362.6L328.4 363.4L329.6 364.2L332.4 364.6L333.2 365.1L334.8 366M343 366.4h0L344.8 366.9L346.7 367.4L348.5 367.9L350.3 368.4L352.2 369L354 369.6L355.9 370.1L357.8 370.7L359.6 371.4L361.5 372M374.8 372.7h0L377 373.4L379 374.1L381 374.9L383.1 375.7L385.2 376.5L387.3 377.4L389.4 378.3M411.8 379.3h0M440.3 380.3h0M444 381.4h0M447.6 382.6h0M450.6 383.9h0M453.6 385.3h0M460 386.8h0M466.1 388.4h0L468.2 390.2L470.3 392.2M498.2 394.5h0M503 397.2h0M508.5 400.3h0M554.2 404.1h0M584.2 409.1h0M594.2 416h0M614.2 427.9h0" stroke="#993300" stroke-width="12.0"/>
</g>
<rect x="110.06" y="274.5" width="640.24" height="197.5" stroke="#262626" stroke-width="2.3" fill="none"/>
<g class="tk" text-anchor="middle">
<text transform="translate(109.46 511.5) scale(1 1.085)">0</text>
<text transform="translate(269.52 511.5) scale(1 1.085)">0.02</text>
<text transform="translate(429.58 511.5) scale(1 1.085)">0.04</text>
<text transform="translate(589.64 511.5) scale(1 1.085)">0.06</text>
<text transform="translate(749.7 511.5) scale(1 1.085)">0.08</text>
</g>
<g class="tk" text-anchor="end">
<text transform="translate(99.46 330.4) scale(1 1.085)">10<tspan class="sp" dx="1.5" dy="-13.0">0</tspan></text>
<text transform="translate(99.46 409.4) scale(1 1.085)">10<tspan class="sp" dx="1.5" dy="-13.0">-2</tspan></text>
<text transform="translate(99.46 488.4) scale(1 1.085)">10<tspan class="sp" dx="1.5" dy="-13.0">-4</tspan></text>
</g>
<text class="tt" transform="translate(367.7 316.8) scale(1 1.03)">Amorphous FeSiB 100 nm</text>
<text class="tg" transform="translate(758.7 311.4) scale(1 0.985)">(c)</text>
<g class="fit">
<text class="lm gl" transform="translate(136.9 437.6) skewX(-7) scale(1 0.98)">λ </text>
<text class="lm" transform="translate(163.3 437.6) scale(1 1.06)">= (0.13 </text>
<text class="pm" transform="translate(276.05 436.8)" text-anchor="middle">±</text>
<text class="lm" transform="translate(296.2 437.6) scale(1 1.06)"> 0.03) ms</text>
</g>
<g class="ylabel">
<text class="lb" transform="translate(25 434.5) rotate(-90) scale(1 1.02)">P( </text>
<text class="ta" transform="translate(25 397.26) rotate(-90) scale(1.24 1)">τ</text>
<text class="ge" transform="translate(29.3 365.68) rotate(-90) scale(0.95 1)">≥</text>
<text class="lb" transform="translate(25 333.3) rotate(-90) scale(1 1.02)"> t )</text>
</g>
</g>
<g id="panel-d">
<path d="M1058.42 472.1v-7.8M1058.42 274.5v7.8M1165.13 472.1v-7.8M1165.13 274.5v7.8M1271.85 472.1v-7.8M1271.85 274.5v7.8M1378.57 472.1v-7.8M1378.57 274.5v7.8M1485.28 472.1v-7.8M1485.28 274.5v7.8M951.7 460.2h4.6M1592 460.2h-4.6M951.7 453.24h4.6M1592 453.24h-4.6M951.7 448.31h4.6M1592 448.31h-4.6M951.7 444.48h4.6M1592 444.48h-4.6M951.7 441.35h4.6M1592 441.35h-4.6M951.7 438.7h4.6M1592 438.7h-4.6M951.7 436.41h4.6M1592 436.41h-4.6M951.7 434.39h4.6M1592 434.39h-4.6M951.7 432.58h4.6M1592 432.58h-4.6M951.7 420.68h4.6M1592 420.68h-4.6M951.7 413.72h4.6M1592 413.72h-4.6M951.7 408.79h4.6M1592 408.79h-4.6M951.7 404.96h4.6M1592 404.96h-4.6M951.7 401.83h4.6M1592 401.83h-4.6M951.7 399.18h4.6M1592 399.18h-4.6M951.7 396.89h4.6M1592 396.89h-4.6M951.7 394.87h4.6M1592 394.87h-4.6M951.7 393.06h7.8M1592 393.06h-7.8M951.7 381.16h4.6M1592 381.16h-4.6M951.7 374.2h4.6M1592 374.2h-4.6M951.7 369.27h4.6M1592 369.27h-4.6M951.7 365.44h4.6M1592 365.44h-4.6M951.7 362.31h4.6M1592 362.31h-4.6M951.7 359.66h4.6M1592 359.66h-4.6M951.7 357.37h4.6M1592 357.37h-4.6M951.7 355.35h4.6M1592 355.35h-4.6M951.7 353.54h4.6M1592 353.54h-4.6M951.7 341.64h4.6M1592 341.64h-4.6M951.7 334.68h4.6M1592 334.68h-4.6M951.7 329.75h4.6M1592 329.75h-4.6M951.7 325.92h4.6M1592 325.92h-4.6M951.7 322.79h4.6M1592 322.79h-4.6M951.7 320.14h4.6M1592 320.14h-4.6M951.7 317.85h4.6M1592 317.85h-4.6M951.7 315.83h4.6M1592 315.83h-4.6M951.7 314.02h7.8M1592 314.02h-7.8M951.7 302.12h4.6M1592 302.12h-4.6M951.7 295.16h4.6M1592 295.16h-4.6M951.7 290.23h4.6M1592 290.23h-4.6M951.7 286.4h4.6M1592 286.4h-4.6M951.7 283.27h4.6M1592 283.27h-4.6M951.7 280.62h4.6M1592 280.62h-4.6M951.7 278.33h4.6M1592 278.33h-4.6M951.7 276.31h4.6M1592 276.31h-4.6" stroke="#262626" stroke-width="2.5" fill="none"/>
<g fill="none" stroke-linecap="round" stroke-linejoin="round">
<path d="M965 314h0L965.5 314.8L966.4 315.1L967.2 315.4L968.1 315.7L969 316L969.9 316.2L970.8 316.5L971.7 316.8L972.5 317.1L973.4 317.4L974.3 317.6L975.1 317.9L976.1 318.2L976.9 318.5L977.8 318.8L978.7 319.1L979.5 319.4L980.4 319.7L981.3 320L982.2 320.3L983 320.6L983.9 320.9L984.8 321.1L985.7 321.4L986.5 321.7L987.4 322L988.3 322.3L989.2 322.6L990 322.9L990.9 323.1L991.8 323.5L992.7 323.7L993.6 324L994.5 324.3L995.4 324.6L996.3 324.9L997.1 325.2L998 325.5L998.9 325.8L999.7 326.1L1000.6 326.4L1001.5 326.7L1002.4 327L1003.3 327.3L1004.2 327.5L1005.1 327.9L1006 328.2L1006.9 328.5L1007.7 328.8L1008.7 329.1L1009.7 329.4L1010.5 329.7L1011.4 330L1012.3 330.3L1013.2 330.6L1014.1 330.9L1015 331.2L1015.8 331.5L1016.7 331.7L1017.6 332L1018.5 332.3L1019.3 332.6L1020.2 332.9L1021.1 333.2L1022 333.5L1022.9 333.8L1023.8 334.2L1024.7 334.5L1025.7 334.7L1026.6 335L1027.4 335.4L1028.3 335.6L1029.1 335.9L1030.2 336.3L1031.2 336.6L1032 336.9L1032.9 337.2L1033.8 337.5L1034.7 337.8L1035.5 338L1036.4 338.4L1037.3 338.6L1038.2 339L1039.1 339.2L1040 339.6L1041 339.9L1041.9 340.2L1042.9 340.4L1043.8 340.7L1044.7 341L1045.6 341.3L1046.6 341.5L1047.8 341.9L1048.7 342.2L1049.7 342.5L1050.7 342.8L1051.7 343.1L1052.6 343.3L1053.6 343.6L1054.6 343.9L1055.5 344.1L1056.4 344.4L1057.3 344.8L1058.2 345L1059.2 345.3L1060.1 345.5L1061.2 345.8L1062.2 346.1L1063.1 346.4L1064.1 346.6L1065 346.9L1066.2 347.3L1067.3 347.5L1068.4 347.9L1069.3 348.2L1070.4 348.5L1071.4 348.8L1072.5 349.1L1073.3 349.4L1074.5 349.7L1075.4 350L1076.5 350.3L1077.5 350.6L1078.6 350.9L1079.5 351.2L1080.4 351.5L1081.4 351.7L1082.5 352.1L1083.5 352.4L1084.3 352.7L1085.7 353L1086.8 353.4L1087.8 353.7L1088.7 354L1089.6 354.3L1090.6 354.6L1091.4 354.9L1093 355.2L1093.9 355.5L1095 355.8L1096.1 356L1096.9 356.4L1098.5 356.7L1099.6 356.9L1100.6 357.3L1101.6 357.7L1102.5 358.1L1103.6 358.4L1104.8 358.9L1106 359.4L1107.5 360L1108.4 360.5L1109.5 360.8L1110.4 361L1111.3 361.5L1112.5 361.8L1113.5 362.2L1115.2 362.7L1116.5 363.1L1117.6 363.6L1118.4 364.1L1119.4 364.6L1120.6 364.8L1122 365.3L1123.4 365.9L1124.3 366.3L1125.8 366.5L1126.7 366.9L1127.6 367.2L1128.6 367.7L1129.8 368.1L1130.9 368.5L1132.1 368.9L1133.1 369.6L1134 370.1L1135.4 370.3L1136.2 370.8L1137.3 371.3L1138.1 371.9L1139.9 372.4L1141.4 372.9L1142.2 373.5L1144.4 374.1L1146 374.7L1147.5 375.4L1148.4 376L1149.1 376.7L1150.2 377.4L1151.8 377.8M1155.3 378.2h0L1156.9 378.9L1158.1 379.3L1159.1 379.8L1160.2 380.2L1161.3 380.6L1163.2 381.1L1164.4 381.5L1165.6 382L1166.4 382.5L1167.4 383L1168.2 383.5L1169 384L1170.2 384.6L1171.5 385.7L1172.6 386.3L1173.6 386.9L1176.3 387.6M1181 388.3h0L1182.3 389M1185.4 389.7h0M1189.7 390.4h0L1191.6 391.2L1193.9 392.1L1195.7 393M1200 393.9h0M1203.4 394.9h0M1206.6 395.9h0L1208.9 397M1212.4 398.2h0M1215.5 399.5h0M1218.9 400.9h0M1229.9 402.3h0M1236.2 404h0M1240 405.8h0M1250 407.8h0M1257.3 410.1h0M1265 412.7h0M1273 415.9h0M1300 419.7h0M1320 424.6h0M1329.8 431.6h0M1330.5 443.5h0" stroke="#4DBEEE" stroke-width="12.0"/>
<path d="M965 314h0L965.5 314.8L966.4 315.1L967.2 315.4L968.1 315.6L969 315.9L969.8 316.1L970.7 316.4L971.6 316.7L972.5 317L973.4 317.2L974.2 317.5L975.1 317.8L976 318.1L976.9 318.3L977.8 318.6L978.7 318.9L979.5 319.2L980.4 319.5L981.3 319.7L982.2 320L983.1 320.3L983.9 320.6L984.9 320.9L985.7 321.1L986.6 321.5L987.4 321.7L988.3 322L989.2 322.2L990.1 322.5L991 322.8L991.8 323.1L992.8 323.4L993.7 323.7L994.5 323.9L995.4 324.2L996.3 324.5L997.2 324.8L998 325.1L998.9 325.4L999.8 325.7L1000.6 326L1001.5 326.3L1002.4 326.5L1003.3 326.8L1004.1 327.1L1005.1 327.4L1006.1 327.7L1007 328L1007.8 328.4L1008.7 328.6L1009.7 328.9L1010.5 329.2L1011.4 329.5L1012.3 329.8L1013.1 330.1L1014.1 330.4L1015 330.7L1015.9 331L1016.8 331.3L1017.7 331.6L1018.6 331.9L1019.5 332.2L1020.3 332.5L1021.2 332.8L1022.2 333.1L1023.2 333.4L1024 333.7L1025 334L1025.9 334.3L1026.7 334.6L1027.6 334.9L1028.5 335.2L1029.4 335.4L1030.3 335.8L1031.3 336L1032.1 336.3L1033.1 336.6L1034 336.9L1034.9 337.3L1035.9 337.6L1036.8 337.9L1037.7 338.2L1038.7 338.5L1039.6 338.8L1040.4 339.1L1041.3 339.4L1042.3 339.7L1043.2 339.9L1044.3 340.2L1045.1 340.5L1046 340.8L1046.9 341L1047.9 341.4L1048.8 341.6L1049.7 341.8L1050.6 342.1L1051.7 342.5L1052.7 342.7L1053.6 343L1054.6 343.2L1055.5 343.5L1056.4 343.7L1057.3 344L1058.4 344.3L1059.2 344.7L1060.1 344.8L1061.1 345.2L1062.1 345.5L1063.1 345.7L1064.1 346L1065.1 346.4L1066.2 346.6L1067.1 346.9L1068.1 347.1L1069.2 347.4L1070.1 347.8L1071.1 348.1L1072 348.3L1072.9 348.7L1073.9 348.9L1075.2 349.2L1076.1 349.5L1077 349.7L1077.9 350L1078.9 350.3L1079.9 350.6L1081 350.9L1082.1 351.1L1083.2 351.4L1084.3 351.7L1085.2 352.1L1086.3 352.5L1087.6 352.9L1088.6 353.1L1089.9 353.4L1090.7 353.7L1091.7 354.1L1093.2 354.4L1094.4 354.8L1095.5 355.1L1096.3 355.4L1097.5 355.8L1098.7 356L1099.9 356.3L1100.8 356.7L1101.7 357L1102.5 357.5L1103.7 357.7L1104.8 358.1L1105.8 358.4L1106.8 358.8L1107.7 359.2L1108.5 359.6L1109.6 360L1110.6 360.3L1111.7 360.7L1112.8 361.1L1113.9 361.6L1115.1 362L1116.5 362.3L1117.4 362.8L1118.4 363.1L1119.4 363.5L1120.3 363.8L1121.3 364.3L1122.5 364.8L1123.5 365.4L1125.3 365.8L1126.3 366.2L1127.1 366.5L1128.1 367L1129.1 367.2L1130.9 367.8L1132 368.2L1132.9 368.7L1133.8 369.1L1135.2 369.6L1136.6 370.3L1138.4 370.6L1139.6 371.1L1140.6 371.6L1141.8 371.9L1143.6 372.4L1144.8 373L1145.8 373.6L1146.8 373.9L1148.3 374.5L1149.8 375.2L1150.6 375.5L1151.9 376.2L1153.3 376.9L1155.2 377.3L1156.2 377.7M1159.4 378.4h0L1160.5 378.8L1162.4 379.7L1164.2 380.1L1165.2 380.6L1166.6 381L1167.7 381.5L1169 382L1170 382.5L1171.1 383L1172.5 383.5L1174.2 384.1L1175.9 384.6L1177 385.2M1180.2 385.8h0L1181.5 386.4L1183.6 387.1M1186.8 387.8h0M1190.8 388.5h0M1195.5 389.2h0M1199.9 389.9h0M1204.2 390.7h0M1209.5 391.6h0M1220.2 392.5h0M1226.7 393.4h0M1233.8 394.4h0M1240 395.4h0L1242.5 396.5M1245.3 397.7h0M1252 399h0M1258.2 400.4h0M1262.9 401.8h0M1267 403.5h0M1270.6 405.3h0M1280.2 407.3h0M1282.5 409.6h0M1285.4 412.2h0M1288 415.4h0M1294.8 419.2h0M1306 424.1h0M1335.6 431.1h0M1341.2 443h0" stroke="#77AC30" stroke-width="12.0"/>
<path d="M965 314h0L965.7 314.6L966.6 314.9L967.5 315.1L968.4 315.4L969.3 315.6L970.2 315.9L971.1 316.1L972 316.3L972.9 316.6L973.8 316.8L974.6 317.1L975.5 317.3L976.4 317.6L977.3 317.8L978.2 318.1L979.1 318.3L980 318.6L980.8 318.8L981.7 319.1L982.6 319.3L983.5 319.6L984.4 319.8L985.3 320L986.2 320.3L987.1 320.5L988 320.8L988.9 321L989.8 321.3L990.7 321.5L991.6 321.8L992.5 322.1L993.4 322.3L994.3 322.5L995.2 322.7L996.1 322.9L997.1 323.2L998 323.4L999 323.6L1000 323.9L1000.9 324.1L1001.8 324.3L1002.7 324.5L1003.6 324.7L1004.7 325L1005.6 325.2L1006.6 325.4L1007.5 325.6L1008.4 325.9L1009.3 326.1L1010.4 326.3L1011.3 326.6L1012.2 326.8L1013.1 327L1014.1 327.2L1015 327.4L1015.9 327.7L1016.8 327.8L1017.7 328.1L1018.6 328.3L1019.5 328.5L1020.7 328.8L1021.6 329L1022.5 329.2L1023.4 329.4L1024.3 329.7L1025.4 329.9L1026.3 330.1L1027.3 330.3L1028.2 330.6L1029.2 330.8L1030.3 331.1L1031.2 331.3L1032.1 331.6L1033 331.7L1033.9 331.9L1034.9 332.2L1035.9 332.4L1036.8 332.6L1037.7 332.9L1038.6 333.1L1039.6 333.3L1040.6 333.5L1041.4 333.8L1042.3 334L1043.3 334.2L1044.2 334.5L1045.1 334.7L1046 334.9L1047 335.2L1048 335.5L1048.9 335.7L1049.9 336L1050.7 336.2L1051.6 336.5L1052.5 336.6L1053.4 336.9L1054.4 337.1L1055.4 337.4L1056.3 337.7L1057.3 337.9L1058.2 338.2L1059.1 338.4L1060.1 338.7L1061 338.9L1062 339.1L1063.1 339.5L1064.1 339.7L1065 340L1065.9 340.2L1066.9 340.5L1067.8 340.7L1068.8 340.9L1069.7 341.2L1070.7 341.5L1071.7 341.8L1072.6 342L1073.5 342.3L1074.6 342.5L1075.5 342.7L1076.5 343L1077.4 343.3L1078.6 343.6L1079.7 343.9L1080.6 344.1L1081.8 344.5L1083 344.7L1084.1 345L1085.4 345.4L1086.5 345.7L1087.4 345.9L1088.3 346.2L1089.3 346.6L1090.5 346.8L1091.4 347L1092.3 347.3L1093.7 347.5L1094.9 347.8L1095.9 348.1L1097 348.3L1098 348.6L1099.2 349L1100.2 349.3L1101.4 349.5L1102.4 349.8L1103.4 350.1L1104.3 350.3L1105.3 350.6L1106.5 350.9L1107.6 351.2L1108.7 351.6L1109.6 351.8L1111.2 352L1112.2 352.3L1113.3 352.6L1114.2 352.9L1115.2 353.3L1116.1 353.5L1117.3 353.8L1118.2 354L1119.4 354.3L1120.8 354.6L1122 354.9L1123.2 355.2L1124.2 355.4L1125.8 355.9L1126.8 356.2L1128.3 356.6L1129.5 356.8L1130.6 357.2L1131.5 357.4L1132.7 357.7L1134.3 358L1135.8 358.3L1136.7 358.6L1137.8 359L1139.1 359.4L1140.2 359.6L1141.3 360.1L1142.7 360.4L1144 360.7L1145.1 361.1L1146.2 361.6L1147.2 361.7L1148.4 362.2L1149.4 362.6L1150.5 362.9L1151.5 363.1L1152.7 363.4L1154.7 363.8L1156 364.1L1157.2 364.7L1158.6 365.1L1160.6 365.5L1162.2 365.8L1164.3 366.3L1165.5 366.7L1166.6 367.1L1168.2 367.5L1169.4 367.8L1170.4 368L1171.3 368.2L1172.5 368.7L1173.4 368.9L1174.7 369.4L1175.6 369.7L1176.9 369.9L1177.9 370.5L1178.8 371L1180.2 371.3L1181 371.5L1183.7 372.1L1185.8 372.7L1187.3 373L1189.8 373.3L1191.4 374L1192.4 374.3L1193.9 374.6L1195.9 375.3L1196.8 375.7L1197.9 376L1199.5 376.8L1200.8 377.2L1203.6 377.5L1205.4 377.9L1206.9 378.4L1208.5 378.8L1209.4 379.2L1211.7 379.7L1213.1 380.1L1214.3 380.6L1217 381.1L1218.4 381.6M1221.4 382.1h0L1223.3 382.6L1224.6 383.2L1226.8 383.7L1228.2 384.3L1231 384.9L1233.8 385.5L1236.3 386.2L1238.2 386.9L1240.4 387.6L1242.1 388.3L1244.3 389M1249.5 389.8h0L1251.4 390.7L1253.7 391.6L1255.5 392.5M1261.8 393.5h0M1264.8 394.5h0L1266.9 395.6M1272.1 396.8h0M1278.2 398.1h0M1285.9 399.5h0M1300.5 400.9h0M1305.1 402.6h0M1310.4 404.4h0M1324 406.4h0M1326 408.7h0M1329 411.3h0M1332 414.5h0M1335 418.3h0M1359.6 423.2h0M1388.9 430.2h0M1442.7 442.1h0" stroke="#A2142F" stroke-width="12.0"/>
<path d="M965 314h0L965.8 314.6L966.6 314.9L967.5 315.1L968.4 315.3L969.3 315.6L970.2 315.8L971.1 316.1L972 316.3L972.8 316.5L973.7 316.8L974.6 317L975.5 317.3L976.4 317.5L977.3 317.8L978.2 318L979.1 318.2L980 318.5L980.9 318.7L981.8 319L982.6 319.2L983.5 319.5L984.4 319.7L985.3 319.9L986.2 320.2L987 320.4L987.9 320.7L988.8 320.9L989.7 321.2L990.6 321.4L991.6 321.6L992.4 321.9L993.4 322.1L994.3 322.3L995.2 322.6L996.1 322.8L997 323L997.9 323.2L998.8 323.4L999.7 323.6L1000.7 323.8L1001.6 324L1002.5 324.3L1003.4 324.5L1004.3 324.7L1005.2 324.9L1006.2 325.1L1007.1 325.3L1008 325.5L1009 325.8L1010 326L1010.9 326.2L1011.8 326.4L1012.7 326.6L1013.6 326.8L1014.5 327L1015.4 327.3L1016.4 327.5L1017.4 327.7L1018.3 327.9L1019.2 328.1L1020.2 328.4L1021.1 328.6L1022.1 328.8L1023 329L1023.9 329.3L1025.1 329.5L1026.1 329.7L1027 329.9L1027.9 330.2L1028.8 330.4L1029.7 330.6L1030.6 330.8L1031.6 331L1032.6 331.2L1033.6 331.5L1034.6 331.7L1035.5 331.9L1036.4 332.1L1037.4 332.4L1038.3 332.6L1039.2 332.8L1040.1 333L1041.2 333.2L1042.2 333.5L1043.2 333.7L1044.1 334L1045 334.2L1046 334.4L1046.8 334.7L1047.8 334.9L1048.6 335.2L1049.6 335.4L1050.5 335.7L1051.5 335.9L1052.4 336.1L1053.3 336.4L1054.3 336.6L1055.2 336.9L1056.1 337.1L1057.2 337.4L1058.1 337.6L1059.2 337.9L1060.2 338.2L1061.1 338.5L1062.3 338.7L1063.2 338.9L1064.1 339.2L1065 339.4L1066.1 339.7L1067 340L1067.9 340.2L1069 340.5L1070 340.8L1071 341L1071.9 341.2L1073.2 341.5L1074.2 341.7L1075.1 342L1076.1 342.3L1077.2 342.6L1078.1 342.9L1079.1 343.1L1080 343.3L1081 343.6L1081.9 343.8L1083 344L1083.9 344.3L1085.1 344.6L1086.3 344.9L1087.5 345.2L1088.5 345.5L1089.4 345.8L1090.5 346.1L1091.7 346.3L1092.6 346.6L1093.6 346.9L1094.5 347.1L1095.7 347.4L1096.7 347.6L1097.6 347.8L1098.7 348.1L1099.8 348.4L1100.7 348.6L1101.9 348.9L1103 349.2L1104.3 349.4L1105.3 349.8L1106.3 350.1L1107.5 350.4L1108.8 350.7L1109.7 351L1110.9 351.2L1111.9 351.6L1113 351.8L1114 352.1L1115.2 352.4L1116.2 352.6L1117.2 352.9L1118.2 353.1L1119.1 353.4L1120.3 353.6L1121.5 353.9L1122.4 354.2L1123.5 354.4L1124.5 354.7L1126.1 355.1L1127.1 355.3L1127.9 355.5L1129.3 355.9L1130.2 356.1L1131.1 356.4L1133.3 356.9L1134.3 357.1L1135.7 357.5L1136.7 357.9L1138.4 358.2L1139.7 358.4L1140.7 358.7L1141.8 359.1L1143.1 359.4L1144.1 359.7L1145 360L1145.9 360.3L1146.8 360.6L1147.8 360.9L1149.5 361.3L1151 361.8L1152 362.1L1153.3 362.4L1154.9 362.8L1156.5 363.3L1158.3 363.7L1159.5 364.1L1160.4 364.5L1161.7 364.7L1162.9 364.8L1163.9 365L1165.2 365.5L1166.4 365.9L1168.1 366.3L1170 366.7L1171.4 367.2L1172.7 367.7L1175.1 368.1L1176.6 368.6L1177.9 368.9L1178.9 369.1L1180 369.4L1181.1 369.7L1181.9 369.9L1183.2 370.2L1184.4 370.5L1185.5 370.7L1186.5 371L1187.8 371.3L1188.9 371.6L1189.7 371.9L1191.2 372.5M1195.2 372.8h0L1196.2 373.2L1199 373.8L1200 374.2L1202.6 374.5L1203.6 374.9L1204.8 375.2L1206.9 376M1210.3 376.7h0L1211.2 377.1L1212.6 377.6L1213.8 378L1216.7 378.4L1217.7 378.9L1218.9 379.3L1220.1 379.8L1221.7 380.3L1222.8 380.8L1223.6 381.3M1227.8 381.8h0L1229.6 382.4L1231.3 382.9L1232.7 383.5M1238 384.1h0L1239.8 384.7M1242.8 385.4h0L1245.1 386.1L1246.8 386.8L1248.4 387.5L1251.2 388.2L1253.5 389M1257.6 389.9h0M1261.4 390.8h0M1265.6 391.7h0M1270.9 392.7h0M1275.4 393.7h0M1279.4 394.8h0M1283.7 396h0M1288.2 397.3h0M1293.5 398.7h0M1297 400.1h0M1301 401.8h0M1305 403.6h0M1310 405.6h0M1317 407.9h0M1347.2 410.5h0M1350 413.7h0M1361.8 417.5h0M1380 422.4h0M1402.5 429.4h0M1426.5 441.3h0" stroke="#0072BD" stroke-width="12.0"/>
<path d="M965 314h0L965.7 314.6L966.6 314.8L967.5 315.1L968.4 315.3L969.3 315.6L970.2 315.8L971 316L971.9 316.3L972.8 316.5L973.7 316.8L974.6 317L975.5 317.3L976.4 317.5L977.3 317.8L978.2 318L979.1 318.3L979.9 318.5L980.8 318.8L981.7 319L982.6 319.2L983.5 319.5L984.4 319.7L985.3 320L986.1 320.2L987 320.4L987.9 320.7L988.8 320.9L989.7 321.2L990.6 321.4L991.5 321.7L992.4 321.9L993.3 322.2L994.2 322.4L995.1 322.6L996 322.8L996.9 323L997.8 323.3L998.7 323.4L999.7 323.7L1000.7 323.9L1001.6 324.1L1002.5 324.3L1003.4 324.6L1004.3 324.8L1005.2 325L1006.2 325.2L1007.1 325.4L1008 325.6L1009 325.9L1009.9 326.1L1010.9 326.3L1011.8 326.5L1012.8 326.7L1013.7 327L1014.6 327.2L1015.5 327.4L1016.5 327.7L1017.4 327.8L1018.3 328.1L1019.2 328.2L1020.2 328.5L1021.4 328.8L1022.3 329L1023.2 329.2L1024.2 329.4L1025.2 329.7L1026.1 329.9L1027 330.1L1028 330.3L1028.9 330.5L1029.9 330.8L1030.8 331L1031.8 331.2L1032.8 331.4L1033.8 331.7L1034.7 331.9L1035.7 332.1L1036.6 332.4L1037.5 332.6L1038.5 332.8L1039.4 333L1040.4 333.2L1041.3 333.4L1042.2 333.7L1043.2 333.9L1044.1 334.2L1045.1 334.4L1046 334.6L1046.9 334.9L1048 335.2L1048.9 335.4L1049.8 335.7L1050.7 335.9L1051.7 336.1L1052.6 336.4L1053.5 336.7L1054.4 336.9L1055.3 337.1L1056.7 337.4L1057.6 337.7L1058.6 338L1059.5 338.2L1060.5 338.4L1061.7 338.7L1062.6 338.9L1063.5 339.2L1064.5 339.5L1065.4 339.8L1066.3 340L1067.3 340.3L1068.5 340.6L1069.4 340.8L1070.3 341L1071.3 341.3L1072.3 341.6L1073.2 341.8L1074.1 342.1L1075.3 342.3L1076.1 342.6L1077 342.8L1078.1 343.1L1079 343.3L1080 343.6L1080.9 343.8L1081.9 344.1L1082.9 344.4L1083.9 344.6L1084.7 344.8L1085.9 345.1L1086.9 345.4L1088.1 345.6L1089 345.9L1090 346.2L1091.1 346.5L1092 346.8L1093.1 347L1094.2 347.4L1095.1 347.6L1096.2 347.8L1097.1 348.1L1098.4 348.3L1099.4 348.6L1100.3 348.9L1101.3 349.1L1102.1 349.4L1103.4 349.6L1104.5 349.9L1105.5 350.1L1106.5 350.5L1107.4 350.7L1109.1 351L1110.1 351.3L1111.2 351.6L1112.1 352L1114 352.3L1115.1 352.6L1116.1 352.8L1117.3 353.2L1118.7 353.6L1119.7 353.9L1120.6 354.2L1122.5 354.6L1123.5 354.9L1124.6 355.1L1125.5 355.4L1126.5 355.5L1127.4 355.8L1129.1 356.3L1130.1 356.6L1131.3 356.9L1132.2 357.1L1133.6 357.3L1134.5 357.6L1135.6 357.8L1136.9 358.1L1138.2 358.5L1139.1 358.9L1140.3 359.1L1141.3 359.4L1142.5 359.8L1143.9 360.1L1144.9 360.4L1145.8 360.7L1147 361L1147.8 361.3L1149 361.6L1150.2 361.9L1151.1 362.2L1152.7 362.7L1153.9 363L1155.2 363.2L1156.2 363.5L1157.3 363.9L1158.7 364.2L1160 364.6L1161.3 365L1162.5 365.4L1163.6 365.8L1166.1 366.4L1167.6 366.8L1168.7 367L1169.9 367.4L1171.1 367.6L1172.6 368.1L1174 368.3L1175.2 368.8L1176.1 369L1177.6 369.5L1179.7 369.7L1181.1 370.2L1182.1 370.5L1183.2 370.8L1185.1 371L1186 371.3L1187.2 371.6L1189.6 371.8L1190.6 372.1L1192.6 372.4L1193.8 372.7L1194.9 373L1196.3 373.3L1197.5 373.6L1198.6 373.9L1200 374.3L1200.9 374.6L1202 374.9L1203.8 375.6L1205.4 376.3L1206.4 376.7L1209.3 377.1L1210.2 377.5L1211.3 377.8L1212.4 378.2L1213.5 378.7L1215.7 379.1L1217 379.5L1218.3 380L1219.5 380.4L1221.8 380.9L1222.7 381.4L1223.6 381.9L1224.5 382.4M1227.5 382.9h0L1229 383.5L1229.7 384M1233.4 384.6h0M1236.6 385.2h0L1238.2 385.8M1241.5 386.5h0M1245.1 387.2h0L1246.9 387.9M1252.1 388.6h0L1254.3 389.3L1255.9 390.1L1258.2 391L1260.9 391.9L1263.3 392.8L1265.2 393.8M1269.6 394.8h0M1279.1 395.9h0M1286.1 397.1h0M1290.9 398.4h0M1294.8 399.8h0M1298 401.2h0M1302 402.9h0M1306 404.7h0M1311 406.7h0M1316 409h0M1344.8 411.6h0M1359.8 414.8h0M1370.5 418.6h0M1385 423.5h0M1413.3 430.5h0M1504 442.4h0" stroke="#0072BD" stroke-width="12.0"/>
<path d="M965.1 314h0L965.9 314.3L966.8 314.5L967.7 314.8L968.6 315.1L969.4 315.3L970.3 315.6L971.2 315.9L972.1 316.1L973 316.4L973.8 316.7L974.7 316.9L975.6 317.2L976.4 317.5L977.3 317.7L978.2 318L979.1 318.3L980 318.5L980.8 318.8L981.7 319.1L982.6 319.3L983.5 319.6L984.4 319.9L985.2 320.1L986.1 320.4L987 320.7L987.9 320.9L988.8 321.2L989.6 321.5L990.5 321.7L991.4 322L992.3 322.3L993.2 322.5L994.1 322.8L995 323L995.9 323.3L996.8 323.5L997.7 323.7L998.6 324L999.6 324.2L1000.4 324.4L1001.4 324.7L1002.3 324.9L1003.2 325.1L1004.1 325.3L1005 325.5L1006 325.7L1006.9 326L1007.8 326.2L1008.7 326.4L1009.6 326.6L1010.6 326.9L1011.5 327.1L1012.4 327.3L1013.4 327.5L1014.3 327.7L1015.2 327.9L1016.2 328.2L1017.1 328.4L1018.1 328.6L1019 328.8L1019.9 329.1L1020.8 329.3L1021.7 329.5L1022.7 329.7L1023.6 329.9L1024.5 330.1L1025.5 330.4L1026.4 330.6L1027.3 330.8L1028.2 331L1029.2 331.3L1030.1 331.5L1031 331.7L1031.9 331.9L1032.9 332.1L1033.8 332.4L1034.8 332.6L1035.8 332.8L1036.7 333L1037.7 333.3L1038.6 333.5L1039.5 333.7L1040.5 333.9L1041.4 334.2L1042.4 334.4L1043.4 334.7L1044.3 334.9L1045.2 335.1L1046.2 335.4L1047.1 335.6L1048 335.9L1049 336.2L1049.9 336.4L1050.8 336.6L1051.7 336.9L1052.6 337.1L1053.5 337.3L1054.4 337.6L1055.4 337.8L1056.3 338.1L1057.3 338.3L1058.2 338.6L1059.3 338.8L1060.2 339.1L1061.1 339.4L1062.2 339.6L1063.2 339.9L1064.2 340.2L1065.1 340.4L1066 340.7L1066.9 340.9L1067.9 341.2L1068.8 341.4L1069.8 341.7L1070.8 341.9L1071.7 342.2L1072.6 342.4L1073.6 342.7L1074.7 342.9L1075.7 343.2L1076.7 343.5L1077.7 343.7L1078.6 344L1079.6 344.2L1080.5 344.5L1081.4 344.7L1082.4 345L1083.3 345.2L1084.2 345.5L1085.2 345.7L1086.2 346L1087.2 346.3L1088.2 346.5L1089.3 346.8L1090.3 347.1L1091.4 347.4L1092.3 347.6L1093.4 347.9L1094.3 348.1L1095.2 348.3L1096.3 348.6L1097.4 348.9L1098.5 349.2L1099.6 349.5L1100.6 349.7L1101.4 350L1102.6 350.2L1103.5 350.5L1104.5 350.7L1105.5 351L1106.5 351.3L1107.4 351.5L1108.4 351.8L1109.6 352.1L1110.8 352.4L1112 352.7L1113.1 353L1114.1 353.3L1115.2 353.6L1116.4 353.9L1117.6 354.2L1119 354.5L1119.8 354.7L1121.1 355L1122 355.3L1123.3 355.6L1124.1 355.8L1125.4 356.2L1126.4 356.4L1127.3 356.7L1128.2 356.9L1129.1 357.2L1130.4 357.4L1131.5 357.7L1132.5 358L1133.4 358.2L1134.5 358.5L1135.5 358.8L1136.6 359L1137.6 359.3L1138.9 359.6L1139.9 359.9L1141 360.2L1142.3 360.5L1143.5 360.8L1144.8 361.1L1145.9 361.5L1147.2 361.8L1148.3 362L1149.5 362.3L1151.3 362.6L1152.8 363L1154.2 363.3L1155.6 363.7L1157.2 364.1L1158.7 364.5L1160.3 364.9L1161.4 365L1162.9 365.5L1164.1 365.7L1165.8 366.1L1166.8 366.3L1168.5 366.7L1170.3 367.2L1171.7 367.6L1173 368.1L1174.6 368.6L1176.2 369.1L1177.6 369.6L1178.5 369.9L1180.2 370.4L1181.4 370.7L1183 371.2L1184 371.5L1184.9 371.8L1185.8 372.1L1187.5 372.7L1188.5 373L1189.4 373.4L1190.4 373.7L1191.5 374L1192.4 374.4L1193.3 374.7L1194.6 375.1L1195.6 375.4L1196.7 375.8L1197.6 376.2L1198.6 376.6L1200.4 376.9L1201.8 377.3L1203.1 377.8L1204.5 378.2L1205.7 378.6L1207.1 379.1L1208.7 379.5L1211.1 380L1213.3 380.5L1215 381L1216.8 381.5L1218.4 382L1220.3 382.6L1222 383.1L1224.3 383.7L1226.1 384.3L1228.3 384.9L1230.2 385.6L1232.8 386.3L1235.4 387L1237.6 387.7M1241.5 388.4h0L1244 389.2L1246.5 390.1M1250.9 391h0M1255 391.9h0M1258.1 392.9h0M1262.1 393.9h0M1265.9 395h0M1269.3 396.2h0M1274.1 397.5h0M1279 398.9h0M1283.5 400.3h0M1288 402h0M1293 403.8h0M1309.4 405.8h0M1317.6 408.1h0M1375.8 410.7h0M1397.2 413.9h0M1413.2 417.7h0M1432 422.6h0M1434.5 429.6h0M1456 441.5h0" stroke="#EDB120" stroke-width="12.0"/>
<path d="M965 314h0L965.7 314.6L966.6 314.9L967.5 315.1L968.4 315.3L969.3 315.6L970.2 315.9L971.1 316.1L972.1 316.3L973 316.6L973.9 316.9L974.8 317.1L975.7 317.4L976.6 317.6L977.5 317.8L978.3 318.1L979.2 318.3L980.2 318.6L981.1 318.8L982 319.1L982.8 319.4L983.8 319.6L984.6 319.8L985.5 320.1L986.4 320.3L987.3 320.6L988.3 320.8L989.1 321.1L990 321.3L990.9 321.6L991.8 321.8L992.7 322.1L993.6 322.3L994.5 322.6L995.4 322.8L996.3 323L997.2 323.2L998.1 323.4L999.1 323.6L1000 323.9L1000.9 324L1001.8 324.3L1002.8 324.5L1003.7 324.7L1004.6 324.9L1005.5 325.2L1006.4 325.4L1007.4 325.6L1008.3 325.8L1009.3 326L1010.2 326.3L1011.1 326.5L1012 326.7L1012.9 326.9L1013.8 327.1L1014.9 327.4L1015.9 327.6L1016.7 327.8L1017.7 328L1018.7 328.3L1019.5 328.5L1020.4 328.7L1021.4 328.9L1022.3 329.1L1023.3 329.4L1024.2 329.6L1025.2 329.8L1026.1 330L1027 330.2L1028.1 330.5L1029.1 330.7L1030 331L1031 331.2L1031.8 331.4L1032.8 331.6L1033.7 331.8L1034.7 332.1L1035.6 332.3L1036.6 332.6L1037.6 332.7L1038.5 333L1039.5 333.2L1040.4 333.4L1041.3 333.6L1042.2 333.9L1043.2 334.1L1044.1 334.4L1045 334.6L1046 334.9L1046.9 335.1L1047.8 335.3L1048.7 335.6L1049.7 335.8L1050.6 336.1L1051.5 336.3L1052.6 336.6L1053.6 336.9L1054.6 337.1L1055.4 337.4L1056.4 337.6L1057.4 337.8L1058.3 338.1L1059.3 338.4L1060.2 338.6L1061.2 338.9L1062.1 339.1L1063 339.4L1064.1 339.6L1065 339.9L1066.1 340.2L1067.1 340.4L1068.1 340.6L1069.1 340.9L1069.9 341.2L1070.9 341.5L1071.8 341.8L1073 342.1L1074 342.3L1075 342.5L1075.9 342.8L1077 343.1L1078.3 343.4L1079.3 343.6L1080.4 343.9L1081.4 344.2L1082.5 344.4L1083.3 344.7L1084.4 345L1085.4 345.2L1086.3 345.5L1087.4 345.8L1088.3 346L1089.3 346.4L1090.5 346.6L1091.4 346.9L1092.6 347.2L1093.5 347.4L1094.5 347.7L1095.8 348L1096.7 348.2L1097.7 348.5L1098.9 348.8L1099.9 349.1L1101.1 349.4L1102 349.7L1102.9 349.9L1103.8 350.1L1104.7 350.4L1105.8 350.6L1107.2 350.9L1108.2 351.2L1109.2 351.5L1110.3 351.7L1111.2 352L1112.2 352.3L1113.5 352.6L1114.6 352.9L1115.6 353.2L1116.6 353.5L1117.8 353.7L1118.9 354L1119.8 354.2L1121.1 354.5L1122.3 354.8L1123.2 355L1124.1 355.2L1125.2 355.6L1126.3 355.8L1127.4 356.1L1128.3 356.5L1129.2 356.7L1130.3 357.1L1131.4 357.5L1133 357.6L1134.1 358L1135.1 358.3L1136.2 358.5L1137.5 358.8L1138.4 359.1L1139.3 359.3L1141 359.8L1141.9 360.1L1143.1 360.4L1144.3 360.7L1145.3 361L1146.4 361.4L1147.7 361.8L1149.5 362.1L1150.5 362.4L1151.6 362.8L1152.8 363.1L1154.3 363.3L1155.5 363.6L1156.6 364L1157.8 364.4L1158.7 364.8L1160 365.2L1161.8 365.5L1162.7 366L1164.5 366.4L1165.9 366.8L1167 367.2L1168.2 367.5L1169.5 367.7L1170.8 368.2L1172.1 368.6L1174.4 369.1L1175.8 369.6L1177.7 370.2L1179 370.7L1181.2 371.2L1182.4 371.8L1183.4 372.1M1186.4 372.4h0L1187.8 373L1189.1 373.7L1190.9 374.3L1193.3 374.7L1194.2 375L1196.9 375.4L1197.9 375.7L1199.3 376.1L1200.2 376.5L1202.1 376.9L1203.7 377.2L1204.8 377.6L1205.7 378.1L1207.4 378.5L1209.1 378.9L1210.3 379.4L1212.1 379.8L1213.5 380.3L1214.4 380.8L1215.4 381.3L1216.6 381.8L1218.7 382.3L1219.8 382.9M1224.8 383.4h0M1227.9 384h0L1229.8 384.6L1232.5 385.2L1235.1 385.9L1236.9 386.6L1238.6 387.3L1240 388L1241.8 388.7L1243.7 389.5M1253.6 390.4h0M1257.4 391.3h0M1260.4 392.2h0M1263.7 393.2h0M1266.6 394.2h0M1270.4 395.3h0M1274.6 396.5h0M1277.9 397.8h0L1279.8 399.2M1282.9 400.6h0M1289.7 402.3h0M1293.9 404.1h0M1297.5 406.1h0M1300 408.4h0M1305 411h0M1309 414.2h0M1312 418h0M1314.7 422.9h0M1345.8 429.9h0M1392.3 441.8h0" stroke="#A2142F" stroke-width="12.0"/>
<path d="M965 314h0L965.5 314.8L966.3 315.1L967.2 315.4L968.1 315.7L968.9 316L969.8 316.2L970.6 316.5L971.5 316.8L972.4 317.1L973.2 317.3L974.1 317.6L975 317.9L975.9 318.1L976.7 318.3L977.6 318.6L978.5 318.8L979.3 319.1L980.2 319.3L981.2 319.6L982.1 319.8L983 320.1L983.9 320.4L984.8 320.6L985.7 320.9L986.5 321.1L987.4 321.4L988.3 321.6L989.2 321.9L990.1 322.2L991 322.4L991.9 322.6L992.8 322.9L993.6 323.1L994.5 323.4L995.4 323.7L996.3 324L997.2 324.3L998.1 324.5L999 324.8L999.9 325.1L1000.7 325.4L1001.6 325.7L1002.5 326L1003.4 326.3L1004.3 326.6L1005.2 326.8L1006.1 327.1L1007 327.4L1008 327.7L1008.9 328L1009.7 328.3L1010.6 328.6L1011.5 328.8L1012.4 329.1L1013.3 329.4L1014.2 329.7L1015.1 330L1016 330.3L1016.9 330.6L1017.8 330.8L1018.8 331.2L1019.7 331.5L1020.6 331.8L1021.5 332L1022.4 332.3L1023.3 332.6L1024.2 332.9L1025.1 333.2L1026 333.5L1027 333.8L1027.9 334.1L1028.9 334.3L1029.7 334.6L1030.6 335L1031.7 335.3L1032.6 335.6L1033.5 335.9L1034.4 336.2L1035.3 336.5L1036.2 336.7L1037.1 337.1L1038 337.3L1039.3 337.7L1040.2 338L1041.1 338.3L1042 338.6L1042.9 338.9L1043.8 339.2L1045 339.4L1045.9 339.8L1046.8 340L1047.8 340.3L1048.7 340.6L1049.5 340.8L1050.6 341.1L1051.5 341.4L1052.4 341.6L1053.4 341.9L1054.2 342.2L1055.2 342.4L1056.2 342.7L1057.2 343L1058.1 343.3L1059.2 343.6L1060.1 343.9L1061 344.1L1061.9 344.4L1062.8 344.6L1063.7 344.9L1064.7 345.2L1065.6 345.4L1066.7 345.7L1067.7 346L1068.7 346.3L1069.7 346.7L1070.7 346.9L1071.6 347.2L1072.6 347.5L1073.5 347.7L1074.5 348L1075.5 348.3L1076.6 348.6L1077.6 348.9L1078.6 349.2L1079.5 349.5L1080.7 349.9L1081.9 350.2L1083 350.5L1084 350.7L1085.3 351.1L1086.5 351.4L1087.4 351.7L1088.4 352L1089.3 352.3L1090.4 352.5L1091.4 352.8L1092.6 353.2L1093.6 353.5L1094.6 353.9L1095.9 354.1L1097.1 354.4L1098.2 354.8L1099.3 355.2L1100.4 355.5L1101.4 355.8L1102.5 356.1L1103.4 356.4L1104.8 356.6L1105.9 356.9L1106.9 357.3L1107.8 357.6L1109.1 357.8L1110.1 358.1L1111.2 358.4L1112.3 358.8L1113.3 359.1L1114.4 359.3L1115.4 359.7L1116.4 360.1L1117.3 360.5L1118.5 360.6L1119.5 360.9L1120.5 361.2L1121.4 361.6L1122.4 362.2L1124.6 362.4L1125.5 362.7L1126.9 363.1L1127.9 363.3L1129.3 363.6L1130.2 364L1131.2 364.5L1132.4 364.8L1133.2 365.3L1136 365.5L1137.4 365.9L1138.6 366.3L1140.1 366.7L1141.5 367L1143 367.5L1144.3 367.9L1145.3 368.3L1147.2 368.7L1148.9 368.9L1149.9 369.4L1151.3 369.6L1152.6 370.1L1155.5 370.6L1156.4 370.8L1157.5 371.1L1159.3 371.6L1160.5 372.1L1161.8 372.4L1162.9 372.7L1165 372.9L1165.9 373.2L1167.4 373.5L1168.6 373.8L1170.4 374.1L1171.8 374.4L1173.5 375M1176.7 375.7h0L1178.2 376L1179.5 376.4L1181.1 376.7L1182.4 377.1L1183.4 377.4L1184.6 377.8L1185.9 378.2L1186.7 378.6L1187.6 378.9L1188.4 379.3L1189.6 379.8L1191.3 380.2L1192.4 380.6L1193.8 381.1L1194.9 381.5L1196.2 382L1197.5 382.5L1198.9 383L1199.9 383.5L1200.9 384L1202.3 384.6L1203.9 385.1L1206.1 385.7L1207.1 386.3L1208.8 386.9L1210 387.6L1211.9 388.3L1212.9 389L1215.5 389.7L1217.2 390.4L1218.4 391.2M1225.7 392.1h0L1227.9 393M1233.2 393.9h0M1240.9 394.9h0M1244.4 395.9h0L1247.1 397L1249.4 398.2L1251 399.5L1253 400.9L1255 402.3L1257.3 404L1259 405.8M1262.1 407.8h0M1267 410.1h0M1270 412.7h0M1282.7 415.9h0M1300.9 419.7h0M1322.5 424.6h0M1351.8 431.6h0M1386.5 443.5h0" stroke="#993300" stroke-width="9.4"/>
</g>
<rect x="951.7" y="274.5" width="640.3" height="197.6" stroke="#262626" stroke-width="2.3" fill="none"/>
<g class="tk" text-anchor="middle">
<text transform="translate(951.1 511.6) scale(1 1.085)">0</text>
<text transform="translate(1057.82 511.6) scale(1 1.085)">0.01</text>
<text transform="translate(1164.53 511.6) scale(1 1.085)">0.02</text>
<text transform="translate(1271.25 511.6) scale(1 1.085)">0.03</text>
<text transform="translate(1377.97 511.6) scale(1 1.085)">0.04</text>
<text transform="translate(1484.68 511.6) scale(1 1.085)">0.05</text>
<text transform="translate(1591.4 511.6) scale(1 1.085)">0.06</text>
</g>
<g class="tk" text-anchor="end">
<text transform="translate(941.1 330.42) scale(1 1.085)">10<tspan class="sp" dx="1.5" dy="-13.0">0</tspan></text>
<text transform="translate(941.1 409.46) scale(1 1.085)">10<tspan class="sp" dx="1.5" dy="-13.0">-2</tspan></text>
<text transform="translate(941.1 488.5) scale(1 1.085)">10<tspan class="sp" dx="1.5" dy="-13.0">-4</tspan></text>
</g>
<text class="tt" transform="translate(1191.3 318.85) scale(1 1.03)">Polycrystalline NiFe 100 nm</text>
<text class="tg" transform="translate(1601.7 310.5) scale(1 0.985)">(d)</text>
<g class="fit">
<text class="lm gl" transform="translate(978.5 447) skewX(-7) scale(1 0.98)">λ </text>
<text class="lm" transform="translate(1004.9 447) scale(1 1.06)">= (0.11 </text>
<text class="pm" transform="translate(1117.65 446.2)" text-anchor="middle">±</text>
<text class="lm" transform="translate(1137.8 447) scale(1 1.06)"> 0.01) ms</text>
</g>
</g>
<g id="panel-e">
<path d="M201.52 745.3v-7.8M201.52 549.1v7.8M292.99 745.3v-7.8M292.99 549.1v7.8M384.45 745.3v-7.8M384.45 549.1v7.8M475.91 745.3v-7.8M475.91 549.1v7.8M567.37 745.3v-7.8M567.37 549.1v7.8M658.84 745.3v-7.8M658.84 549.1v7.8M110.06 733.49h4.6M750.3 733.49h-4.6M110.06 726.58h4.6M750.3 726.58h-4.6M110.06 721.68h4.6M750.3 721.68h-4.6M110.06 717.87h4.6M750.3 717.87h-4.6M110.06 714.77h4.6M750.3 714.77h-4.6M110.06 712.14h4.6M750.3 712.14h-4.6M110.06 709.86h4.6M750.3 709.86h-4.6M110.06 707.86h4.6M750.3 707.86h-4.6M110.06 706.06h4.6M750.3 706.06h-4.6M110.06 694.25h4.6M750.3 694.25h-4.6M110.06 687.34h4.6M750.3 687.34h-4.6M110.06 682.44h4.6M750.3 682.44h-4.6M110.06 678.63h4.6M750.3 678.63h-4.6M110.06 675.53h4.6M750.3 675.53h-4.6M110.06 672.9h4.6M750.3 672.9h-4.6M110.06 670.62h4.6M750.3 670.62h-4.6M110.06 668.62h4.6M750.3 668.62h-4.6M110.06 666.82h7.8M750.3 666.82h-7.8M110.06 655.01h4.6M750.3 655.01h-4.6M110.06 648.1h4.6M750.3 648.1h-4.6M110.06 643.2h4.6M750.3 643.2h-4.6M110.06 639.39h4.6M750.3 639.39h-4.6M110.06 636.29h4.6M750.3 636.29h-4.6M110.06 633.66h4.6M750.3 633.66h-4.6M110.06 631.38h4.6M750.3 631.38h-4.6M110.06 629.38h4.6M750.3 629.38h-4.6M110.06 627.58h4.6M750.3 627.58h-4.6M110.06 615.77h4.6M750.3 615.77h-4.6M110.06 608.86h4.6M750.3 608.86h-4.6M110.06 603.96h4.6M750.3 603.96h-4.6M110.06 600.15h4.6M750.3 600.15h-4.6M110.06 597.05h4.6M750.3 597.05h-4.6M110.06 594.42h4.6M750.3 594.42h-4.6M110.06 592.14h4.6M750.3 592.14h-4.6M110.06 590.14h4.6M750.3 590.14h-4.6M110.06 588.34h7.8M750.3 588.34h-7.8M110.06 576.53h4.6M750.3 576.53h-4.6M110.06 569.62h4.6M750.3 569.62h-4.6M110.06 564.72h4.6M750.3 564.72h-4.6M110.06 560.91h4.6M750.3 560.91h-4.6M110.06 557.81h4.6M750.3 557.81h-4.6M110.06 555.18h4.6M750.3 555.18h-4.6M110.06 552.9h4.6M750.3 552.9h-4.6M110.06 550.9h4.6M750.3 550.9h-4.6" stroke="#262626" stroke-width="2.5" fill="none"/>
<g fill="none" stroke-linecap="round" stroke-linejoin="round">
<path d="M116.5 588.3h0L116.5 589.2L116.8 590.1L117.7 590.2L118.6 590.4L119.5 590.6L120.4 590.8L121.3 591.1L122.2 591.3L123.1 591.5L123.9 591.7L124.8 591.9L125.7 592.1L126.6 592.4L127.5 592.6L128.4 592.8L129.3 593L130.2 593.2L131.1 593.5L132 593.7L132.9 593.9L133.7 594.1L134.6 594.3L135.5 594.5L136.4 594.8L137.3 595L138.2 595.2L139.1 595.5L139.9 595.7L140.9 595.9L141.7 596.1L142.6 596.4L143.5 596.6L144.4 596.8L145.3 597L146.2 597.3L147.1 597.5L148 597.7L148.8 598L149.7 598.2L150.6 598.4L151.5 598.6L152.4 598.9L153.3 599.1L154.2 599.3L155.1 599.6L155.9 599.8L156.9 600.1L157.8 600.3L158.6 600.5L159.6 600.8L160.4 601L161.4 601.3L162.3 601.5L163.3 601.8L164.2 602L165.1 602.3L166 602.5L166.9 602.7L167.8 603L168.7 603.2L169.5 603.5L170.5 603.7L171.4 604L172.3 604.2L173.2 604.4L174.1 604.7L175 604.9L175.8 605.2L176.7 605.4L177.6 605.6L178.5 605.9L179.4 606.2L180.3 606.4L181.2 606.6L182.1 606.9L183.2 607.1L184.1 607.4L185 607.6L186 607.9L186.9 608.2L187.8 608.4L188.8 608.7L189.8 608.9L190.7 609.2L191.6 609.4L192.5 609.7L193.5 609.9L194.5 610.2L195.4 610.5L196.3 610.7L197.3 610.9L198.2 611.2L199 611.4L200 611.7L200.9 611.9L201.8 612.1L202.7 612.4L203.6 612.6L204.6 612.9L205.5 613.1L206.5 613.3L207.4 613.5L208.3 613.7L209.3 614L210.2 614.2L211.1 614.4L212.1 614.7L213 614.9L213.9 615.1L214.8 615.3L215.7 615.5L216.7 615.8L217.7 616.1L218.7 616.3L219.6 616.5L220.5 616.7L221.4 616.9L222.3 617.1L223.2 617.3L224.2 617.6L225.4 617.9L226.3 618.1L227.3 618.4L228.2 618.6L229.1 618.8L230.3 619L231.2 619.3L232.3 619.5L233.2 619.8L234.2 620L235.2 620.3L236.1 620.5L237.2 620.7L238.2 621L239.2 621.2L240.1 621.5L241.2 621.7L242.1 621.9L243.1 622.1L244.2 622.4L245.1 622.6L246.2 622.9L247.2 623.2L248.2 623.4L249.2 623.6L250.1 623.9L251 624.1L251.9 624.4L252.9 624.6L253.7 624.8L254.9 625.2L256 625.5L257 625.8L257.9 626L258.9 626.4L259.8 626.6L260.8 626.9L261.8 627.1L262.7 627.4L263.8 627.7L264.7 628L265.9 628.2L266.9 628.5L267.8 628.7L268.9 629.1L269.8 629.4L270.7 629.6L271.6 629.8L272.8 630.1L274 630.4L275 630.8L275.9 631.1L277 631.4L277.9 631.6L278.8 631.8L279.8 632.2L280.9 632.4L281.8 632.8L283.7 633.2L284.7 633.4L285.6 633.8L286.7 634L287.6 634.3L288.8 634.6L290 635L290.9 635.3L291.8 635.5L293 636L294.1 636.5L295 636.9L295.9 637.1L297 637.4L297.9 637.8L299.2 638.2L300.2 638.7L301.1 639L302.1 639.4L303.2 639.7L304.2 640.2L305.2 640.7L306.2 641.1L307.2 641.3L308.4 641.8L309.8 642.3L310.9 642.7L312 643L313.3 643.4L314.1 643.8L316.6 644L318 644.5L319 644.8L320.2 645.1L321.4 645.4L322.3 645.8L323.5 646.1L324.5 646.4L325.7 646.8L326.9 647.2L327.8 647.5L329 647.9L330.5 648.1L331.6 648.5L333 648.9L334.3 649.3L335.3 649.5L336.5 649.7L337.6 650.2L339.4 650.6L340.5 650.8L341.4 651.3L342.9 651.5L343.9 651.8L346.9 652.2L348.2 652.5L349.8 653L351.4 653.5L353.3 654.1L354.9 654.6L356.1 654.9L357.2 655.2L359.1 655.8L360.5 656.4L361.4 656.7L362.5 657.1L364.3 657.7L365.1 658.1L366.1 658.4M369.3 658.8h0L371.1 659.2L373.2 659.5L374.2 659.9L375.2 660.3L376.4 660.7L377.5 661.1L378.6 661.5L379.9 662L381.5 662.4L382.7 662.9L384.7 663.3L385.7 663.8L387.4 664.3M390.7 664.8h0L392.7 665.3L395.3 665.9L398 666.4M401.1 667h0M405.5 667.6h0L407.3 668.2L409.4 668.9L411.1 669.5M414.2 670.2h0M419.6 671h0M423 671.7h0M426.1 672.5h0M429.1 673.3h0M433.6 674.2h0M436.7 675.1h0M443.7 676.1h0M448 677.2h0M452.2 678.3h0M456.9 679.4h0M461.8 680.7h0M476.1 682.1h0M488.9 683.5h0M501.8 685.2h0M510 687h0M532 689h0M538 691.2h0M545 693.9h0M564.5 697h0M568.2 700.8h0M627 705.7h0M653.6 712.6h0M705.5 724.4h0" stroke="#EDB120" stroke-width="12.0"/>
<path d="M116.5 588.3h0L116.5 589.2L117 590L117.9 590.2L118.8 590.4L119.7 590.6L120.6 590.8L121.4 591L122.3 591.2L123.2 591.4L124.1 591.6L125 591.8L125.9 592L126.8 592.2L127.6 592.4L128.5 592.7L129.4 592.9L130.3 593.1L131.2 593.4L132.1 593.6L133 593.8L133.9 594L134.8 594.2L135.7 594.4L136.6 594.7L137.5 594.9L138.4 595.1L139.2 595.3L140.1 595.6L141 595.8L141.9 596L142.8 596.2L143.7 596.4L144.6 596.7L145.5 596.9L146.4 597.1L147.3 597.3L148.2 597.6L149.1 597.8L150 598L150.9 598.2L151.7 598.5L152.6 598.7L153.5 598.9L154.4 599.1L155.3 599.4L156.2 599.6L157.1 599.9L158 600.1L158.9 600.3L159.7 600.5L160.6 600.8L161.5 601L162.4 601.3L163.3 601.5L164.3 601.8L165.2 602L166.1 602.2L167 602.4L167.9 602.7L168.7 602.9L169.6 603.2L170.6 603.4L171.5 603.6L172.4 603.9L173.3 604.1L174.2 604.3L175.1 604.6L176 604.8L176.9 605L177.9 605.3L178.8 605.6L179.7 605.8L180.6 606L181.5 606.3L182.4 606.5L183.3 606.8L184.2 607L185.1 607.2L186 607.5L186.9 607.7L187.8 607.9L188.9 608.2L189.7 608.4L190.6 608.7L191.5 608.9L192.4 609.1L193.4 609.4L194.3 609.6L195.2 609.9L196.2 610.1L197.1 610.4L198 610.6L198.9 610.8L199.8 611.1L200.7 611.3L201.6 611.6L202.5 611.8L203.4 612L204.4 612.3L205.3 612.5L206.3 612.7L207.3 613L208.2 613.2L209.1 613.4L210 613.6L211 613.8L211.8 614L212.8 614.3L213.8 614.5L214.7 614.7L215.6 614.9L216.6 615.2L217.5 615.4L218.4 615.7L219.4 615.8L220.3 616.1L221.3 616.3L222.2 616.6L223.1 616.8L224 617L224.9 617.3L225.8 617.4L226.8 617.7L227.7 617.9L228.7 618.2L229.6 618.4L230.5 618.6L231.4 618.8L232.4 619L233.4 619.3L234.4 619.5L235.4 619.7L236.4 620L237.3 620.2L238.2 620.4L239.2 620.7L240.2 620.9L241.3 621.1L242.3 621.4L243.2 621.7L244.2 622L245.8 622.2L246.7 622.5L247.6 622.8L248.7 623L249.7 623.2L250.6 623.4L251.6 623.7L252.4 624L253.5 624.2L254.4 624.5L255.3 624.8L256.2 625L257.2 625.3L258.1 625.6L259 625.8L260 626L260.9 626.3L261.8 626.6L262.8 626.9L263.8 627.1L264.9 627.5L265.9 627.7L266.8 627.9L267.7 628.2L268.7 628.5L269.6 628.7L270.8 629.1L271.8 629.4L272.9 629.6L273.8 629.9L274.7 630.2L275.8 630.4L276.8 630.7L277.8 631L278.7 631.2L279.6 631.5L280.5 631.8L281.5 632.1L282.9 632.3L284 632.7L285.1 632.9L285.9 633.2L286.8 633.4L287.7 633.8L288.8 634L289.7 634.3L290.6 634.5L291.5 634.7L293.1 635.1L294 635.3L294.9 635.6L295.7 635.9L296.8 636.3L298 636.6L299 637L300.2 637.3L301.1 637.6L302.3 637.9L303.2 638.1L304.1 638.5L305.2 638.7L306.3 639L307.3 639.4L308.1 639.7L309.2 639.9L310.2 640.2L311.2 640.4L312.1 640.7L313 641.1L314.3 641.3L315.3 641.7L316.7 642.1L317.9 642.3L318.9 642.5L320.1 643L321.2 643.2L322.3 643.5L323.4 643.8L324.6 644.1L326 644.6L327.2 645.1L328.2 645.4L329.1 645.6L330.8 646.1L332 646.4L333.3 646.8L334.3 647L335.6 647.3L337.4 647.7L338.4 648.1L339.8 648.5L340.9 648.9L341.8 649.3L343.2 649.9L345.3 650.4L346.3 650.8L347.4 651.3L349.4 651.5L351.2 651.8L352.4 652.2L354.2 652.7L356 653L357.5 653.5L359 654.1L359.8 654.3L360.7 654.6L362.2 655.2L363.8 655.5L364.7 655.8L365.7 656.1L367.6 656.7L369.1 657.4L370.6 657.7L372.2 658.4L373.6 658.8L376.1 659.2L377.5 659.5L380.1 659.9L380.9 660.3L381.8 660.7L383 661.1L384.6 662L386.9 662.4L388.4 662.9L390.8 663.3L391.8 663.8L393.9 664.3L395.4 664.8L396.6 665.3L398 665.9L399.8 666.4L400.8 667L401.9 667.6L404 668.2M410.3 668.9h0L411.8 669.5L414.1 670.2L416.3 671M419.8 671.7h0L422 672.5M426.2 673.3h0L428.3 674.2L430.2 675.1L432 676.1L433.8 677.2L435.3 678.3L438 679.4L440.6 680.7M465.9 682.1h0M472.8 683.5h0M483.7 685.2h0M508.9 687h0M520 689h0M526 691.2h0M532.4 693.9h0M538.2 697h0M542.5 700.8h0M600.6 705.7h0M637.4 712.6h0M692.3 724.4h0" stroke="#D95319" stroke-width="12.0"/>
<path d="M116.5 588.3h0L116.5 589.2L117.2 589.8L118.1 590L119.1 590.2L120 590.4L120.9 590.6L121.7 590.8L122.6 591L123.5 591.2L124.4 591.3L125.3 591.5L126.2 591.7L127.1 591.9L128 592.1L129 592.3L129.9 592.5L130.8 592.7L131.7 592.9L132.6 593.1L133.5 593.3L134.4 593.5L135.3 593.7L136.2 593.9L137.1 594.1L138 594.3L138.9 594.5L139.8 594.7L140.7 594.8L141.6 595L142.5 595.2L143.4 595.4L144.3 595.6L145.2 595.8L146.1 596L147 596.2L147.9 596.4L148.8 596.6L149.8 596.8L150.6 597L151.6 597.2L152.5 597.4L153.4 597.7L154.3 597.9L155.1 598.1L156.1 598.3L157 598.6L157.9 598.8L158.8 599L159.7 599.3L160.7 599.5L161.6 599.7L162.5 600L163.4 600.2L164.3 600.5L165.2 600.7L166.1 600.9L167 601.2L168 601.4L168.9 601.6L169.7 601.8L170.6 602.1L171.5 602.3L172.4 602.5L173.3 602.8L174.2 603L175.1 603.2L176 603.5L176.9 603.7L177.8 603.9L178.7 604.2L179.7 604.4L180.6 604.6L181.5 604.8L182.4 605.1L183.3 605.3L184.2 605.6L185.1 605.8L186 606L186.9 606.2L187.9 606.5L188.9 606.7L189.8 607L190.7 607.2L191.6 607.4L192.5 607.7L193.4 607.9L194.4 608.1L195.2 608.4L196.2 608.6L197.1 608.8L198 609.1L198.9 609.3L199.8 609.5L200.7 609.8L201.7 610L202.6 610.3L203.5 610.4L204.4 610.7L205.4 610.9L206.3 611.1L207.2 611.3L208.1 611.5L209 611.7L209.9 612L210.9 612.2L211.9 612.4L212.8 612.6L213.7 612.9L214.7 613.1L215.6 613.3L216.5 613.5L217.4 613.7L218.3 613.9L219.3 614.2L220.2 614.4L221.2 614.6L222.2 614.8L223.1 615.1L224.1 615.3L225.1 615.5L226 615.7L227 616L228.1 616.2L229 616.4L230 616.7L230.9 617L231.9 617.1L232.8 617.3L233.7 617.6L234.6 617.8L235.6 618L236.4 618.2L237.4 618.4L238.4 618.6L239.4 618.9L240.3 619.1L241.4 619.3L242.3 619.5L243.4 619.8L244.4 620L245.3 620.3L246.5 620.6L247.5 620.7L248.5 621L249.4 621.2L250.4 621.5L251.2 621.8L252.1 622L253.1 622.3L254 622.6L254.9 622.9L255.8 623.1L256.8 623.4L257.9 623.7L258.8 624L259.7 624.2L260.8 624.6L261.7 624.9L262.7 625.1L263.8 625.4L264.7 625.7L265.9 626.1L266.8 626.4L267.8 626.7L268.8 626.9L269.9 627.3L270.9 627.6L271.8 627.9L272.7 628.2L273.7 628.4L274.6 628.6L275.6 628.9L276.4 629.2L277.4 629.5L278.4 629.8L279.5 630L280.4 630.3L281.4 630.6L282.3 630.8L283.3 631.1L284.4 631.4L285.3 631.7L286.3 631.9L287.3 632.3L288.1 632.6L289.2 633L290.2 633.3L291.1 633.5L292.2 633.9L293.2 634.2L294.4 634.5L295.6 634.8L296.5 635.2L297.4 635.5L298.7 635.8L299.7 636.2L300.6 636.6L301.6 636.9L302.8 637.2L303.8 637.5L304.8 637.9L306.1 638.3L307.4 638.8L308.3 639.1L309.2 639.5L310.2 639.8L311.2 640.2L312.1 640.6L313 640.9L314 641.2L314.9 641.7L316.1 642.1L317 642.5L318 642.7L319.5 643.2L320.6 643.7L322.1 644.1L323.1 644.5L324.2 644.9L325.2 645.4L326.3 645.9L327.2 646.1L328.5 646.4L329.5 646.8L330.6 647L331.8 647.3L332.8 647.7L334 648.3L336 648.7L337.5 649.1L338.9 649.5L339.9 649.9L341.9 650.4L343.4 650.6L345.7 651.1L347.1 651.5L348.3 652L350.1 652.5L351.5 652.7L352.9 653.3L355 653.8L356.2 654.1L358.8 654.6L359.8 654.9L360.9 655.2L362.3 655.5L363.9 655.8L365.2 656.1L366.3 656.4L367.2 656.7L368 657.1L369 657.4L370.3 657.7L372.1 658.4L373.5 658.8L375.5 659.2L376.4 659.5L377.3 659.9L378.9 660.3L379.8 660.7L381.1 661.1L383.2 661.5L385.1 662L386 662.4L387.2 662.9L388.4 663.3L391.3 663.8L392.3 664.3L393.8 664.8L395.1 665.3L396 665.9M401.4 666.4h0L404.2 667L405.9 667.6L408.7 668.2L410.5 668.9L412.3 669.5L413.9 670.2M418 671h0M421.5 671.7h0L424.3 672.5M427.2 673.3h0L429.4 674.2M432.3 675.1h0M435.6 676.1h0M438.9 677.2h0M443 678.3h0M446.3 679.4h0M455.2 680.7h0M459.7 682.1h0M464.2 683.5h0M470 685.2h0M474 687h0M478 689h0M485 691.2h0M491.6 693.9h0M498.4 697h0M506.2 700.8h0M512.5 705.7h0M601.6 712.6h0M620 724.4h0" stroke="#77AC30" stroke-width="12.0"/>
<path d="M116.5 588.3h0L116.5 589.2L116.5 590.1L117.4 590.4L118.3 590.6L119.2 590.8L120.1 591L121 591.2L121.9 591.4L122.8 591.6L123.7 591.8L124.6 592L125.5 592.3L126.4 592.5L127.3 592.7L128.2 592.9L129 593.1L129.9 593.4L130.8 593.6L131.7 593.8L132.6 594.1L133.5 594.3L134.4 594.6L135.3 594.8L136.2 595L137 595.3L137.9 595.5L138.8 595.8L139.7 596L140.6 596.3L141.5 596.5L142.4 596.7L143.2 597L144.1 597.3L145.1 597.5L145.9 597.7L146.8 598L147.7 598.2L148.6 598.5L149.5 598.7L150.4 598.9L151.3 599.2L152.1 599.4L153 599.6L153.9 599.8L154.8 600L155.7 600.3L156.6 600.5L157.6 600.7L158.4 601L159.3 601.2L160.2 601.4L161.1 601.7L162 601.9L162.9 602.1L163.9 602.4L164.8 602.6L165.6 602.8L166.5 603.1L167.4 603.3L168.3 603.5L169.3 603.8L170.2 604L171.1 604.2L172 604.5L172.9 604.7L173.9 604.9L174.8 605.2L175.7 605.4L176.6 605.7L177.5 605.9L178.4 606.1L179.3 606.4L180.3 606.6L181.2 606.8L182.1 607.1L183 607.3L183.9 607.5L184.8 607.7L185.7 608L186.6 608.2L187.6 608.5L188.5 608.7L189.3 608.9L190.2 609.2L191.2 609.4L192.1 609.7L193 609.9L193.9 610.1L194.9 610.4L195.8 610.6L196.7 610.8L197.6 611.1L198.7 611.3L199.6 611.6L200.6 611.8L201.5 612.1L202.5 612.3L203.4 612.5L204.3 612.8L205.3 613L206.3 613.2L207.2 613.4L208.3 613.7L209.3 613.9L210.3 614.2L211.1 614.4L212.1 614.6L213.1 614.8L213.9 615.1L215 615.3L215.9 615.5L216.8 615.7L217.8 615.9L218.7 616.1L219.6 616.3L220.5 616.6L221.7 616.9L222.6 617.1L223.5 617.3L224.5 617.5L225.5 617.8L226.4 618L227.3 618.2L228.3 618.4L229.3 618.6L230.1 618.9L231.1 619.1L232 619.3L232.9 619.6L234.1 619.8L235.1 620L236.1 620.3L237 620.5L238 620.8L238.9 621L239.9 621.2L240.9 621.4L241.8 621.6L242.9 621.9L243.9 622.1L244.8 622.4L245.7 622.6L246.7 622.8L247.7 623L248.7 623.3L249.7 623.6L250.8 623.8L251.8 624L252.9 624.3L253.8 624.5L254.6 624.8L255.7 625.1L256.7 625.3L257.6 625.6L258.6 625.9L259.5 626.2L260.4 626.5L261.3 626.7L262.4 626.9L263.6 627.2L264.6 627.5L265.9 627.8L266.8 628.1L267.9 628.4L268.9 628.7L269.8 628.9L270.8 629.2L271.9 629.6L272.8 629.8L273.8 630.1L274.7 630.2L275.6 630.5L276.5 630.8L277.7 631.1L278.6 631.4L279.5 631.7L280.5 631.9L281.8 632.2L282.9 632.3L283.9 632.6L284.8 633L285.8 633.1L286.9 633.4L287.8 633.6L288.8 633.9L289.9 634.1L290.7 634.4L291.9 634.5L292.9 634.8L294.1 635L295.5 635.3L296.4 635.6L297.5 635.9L298.5 636.2L300.1 636.5L301.2 636.8L302.6 637.2L303.5 637.4L305.2 637.7L306.4 638L307.6 638.3L309.4 638.7L310.9 639L312 639.4L313.1 639.7L314.6 640.1L315.5 640.3L316.4 640.6L317.7 640.8L318.7 641.1L320 641.4L321.4 641.7L322.4 642L323.6 642.3L324.7 642.7L325.9 642.8L327 643.1L328.7 643.5L330.4 644L332.1 644.3L333.3 644.6L334.7 644.9L336.3 645.3L337.6 645.4L338.8 645.6L340.1 645.9L341.1 646.3L343.1 646.6L344.4 647L345.8 647.3L346.7 647.5L348.4 647.9L349.6 648.1L350.8 648.3L352.1 648.7L353.4 649.1L355.6 649.5L356.7 649.9L357.9 650.2L359.7 650.6L361.2 651.1L362.7 651.3L365.2 651.5L366.5 651.8L368.1 652.2L369.1 652.5L371 653L372.1 653.3L374.2 653.8L375.1 654.1L375.9 654.3L377.3 654.6L378.3 654.9L379.7 655.2L381.2 655.5L382.4 655.8L384.8 656.4L385.8 656.7L388.3 657.1L390.1 657.4L391.4 657.7L392.3 658.1L393.3 658.4M397.2 658.8h0L398.5 659.2L400 659.5L401.2 659.9L402.5 660.3L404.8 660.7L407.7 661.1M411.3 661.5h0M415 662h0L417.1 662.4L418.6 662.9L420.5 663.3L422.6 663.8L424.9 664.3M429.8 664.8h0L432.3 665.3M435.6 665.9h0L438 666.4M442.7 667h0M446.2 667.6h0L448.2 668.2L450.9 668.9M455.9 669.5h0M459.2 670.2h0M463.6 671h0L466.5 671.7L469.1 672.5L471.9 673.3L474.6 674.2M480 675.1h0M483.4 676.1h0M487 677.2h0M490.6 678.3h0M495 679.4h0M498.4 680.7h0M502.8 682.1h0M515.5 683.5h0M520 685.2h0M534.8 687h0M545 689h0M559.5 691.2h0M563.9 693.9h0M564.4 697h0M614.2 700.8h0M627 705.7h0M651.8 712.6h0M704.1 724.4h0" stroke="#0072BD" stroke-width="12.0"/>
<path d="M116.5 588.3h0L116.5 589.2L117.1 590L118 590.2L118.9 590.3L119.8 590.5L120.7 590.7L121.6 590.9L122.5 591.1L123.3 591.4L124.2 591.5L125.1 591.7L126 591.9L126.9 592.1L127.8 592.4L128.7 592.6L129.6 592.8L130.5 593L131.4 593.2L132.3 593.4L133.2 593.6L134.1 593.8L134.9 594.1L135.8 594.3L136.7 594.5L137.6 594.7L138.5 594.9L139.5 595.1L140.4 595.3L141.3 595.6L142.2 595.8L143.1 596L144 596.2L144.9 596.4L145.8 596.6L146.7 596.8L147.6 597.1L148.5 597.3L149.4 597.5L150.3 597.7L151.2 597.9L152.1 598.2L153 598.4L153.9 598.6L154.8 598.8L155.7 599L156.6 599.2L157.5 599.5L158.4 599.7L159.3 599.9L160.2 600.2L161.1 600.4L162 600.6L162.8 600.8L163.7 601.1L164.6 601.3L165.6 601.5L166.5 601.7L167.4 602L168.3 602.2L169.1 602.4L170 602.6L170.9 602.9L171.8 603.1L172.7 603.3L173.7 603.5L174.6 603.8L175.4 604L176.4 604.2L177.3 604.4L178.2 604.7L179.1 604.9L179.9 605.1L180.9 605.4L181.8 605.6L182.7 605.8L183.6 606L184.5 606.3L185.4 606.5L186.3 606.7L187.2 607L188.2 607.2L189.1 607.4L190 607.7L190.9 607.9L191.8 608.1L192.7 608.3L193.6 608.6L194.5 608.8L195.4 609L196.3 609.3L197.2 609.5L198.1 609.7L199.1 610L200 610.2L200.9 610.4L201.8 610.6L202.8 610.8L203.7 611L204.6 611.2L205.6 611.4L206.6 611.7L207.5 611.9L208.4 612L209.3 612.2L210.2 612.4L211.3 612.7L212.3 612.9L213.2 613.1L214.2 613.3L215.1 613.5L216 613.7L217 613.9L218 614.2L218.9 614.3L219.8 614.5L220.7 614.7L221.6 614.9L222.7 615.2L223.7 615.4L224.8 615.6L225.7 615.8L226.6 616L227.5 616.2L228.5 616.4L229.6 616.7L230.6 616.9L231.6 617.1L232.5 617.3L233.5 617.5L234.5 617.7L235.5 617.9L236.4 618.1L237.4 618.4L238.3 618.6L239.5 618.8L240.4 619L241.3 619.3L242.4 619.4L243.4 619.7L244.4 619.9L245.6 620.1L246.5 620.3L247.6 620.5L248.5 620.7L249.4 621L250.4 621.2L251.3 621.4L252.2 621.6L253.2 621.9L254.1 622.2L255 622.4L256 622.6L256.9 622.9L257.9 623.2L258.9 623.4L259.8 623.7L260.7 623.9L261.7 624.1L262.6 624.4L263.5 624.7L264.4 624.9L265.4 625.2L266.9 625.5L268.1 625.8L269.1 626.2L270 626.5L271.1 626.7L272.2 627L273.1 627.3L274.1 627.5L275 627.7L276 628L276.9 628.3L277.8 628.5L279 628.7L279.9 629.1L280.9 629.3L281.7 629.6L282.8 629.8L283.7 630.2L284.6 630.4L286.3 630.8L287.3 631L288.2 631.4L289.7 631.6L290.7 631.9L291.7 632.2L292.7 632.5L293.6 632.7L294.7 633L295.7 633.2L296.6 633.6L297.5 633.9L299.6 634.3L300.9 634.5L301.9 634.9L303 635.3L303.9 635.5L305.3 635.7L306.2 636L307.3 636.3L308.3 636.6L309.3 636.9L310.5 637.2L311.4 637.5L312.5 637.7L313.6 638.1L314.6 638.5L315.8 638.8L316.9 639L318.3 639.4L319.2 639.7L320.5 639.9L321.4 640.2L322.5 640.4L323.6 640.8L324.8 641.2L326 641.6L327.1 641.7L328.2 642.1L329.4 642.5L330.3 642.8L332.3 643.1L333.2 643.4L334.1 643.7L335.1 644L336.1 644.3L337.4 644.5L338.3 644.8L339.4 645.1L340.3 645.4L341.2 645.6L342.4 645.9L343.4 646.3L344.3 646.4L345.6 646.8L346.9 647.2L348.1 647.5L349.8 647.9L351.1 648.5L353.5 648.9L354.7 649.3L356.1 649.7L358.1 650.2L360 650.4L361.2 650.8L362.1 651.1L363.3 651.5L364.4 652L365.4 652.5L367.1 652.7L368.6 653.3L370.4 653.5L372.5 654.1L374.5 654.3L376.6 654.9L378.7 655.2L379.7 655.5L381.9 656.1L383.1 656.4L385.1 657.1L386.8 657.4L387.6 657.7L388.8 658.1L389.6 658.4L390.6 658.8L391.6 659.2L394.2 659.9L395.4 660.3L396.4 660.7L397.8 661.5L398.7 662L400.9 662.9L402.1 663.3L403.5 663.8L404.6 664.3L405.9 664.8L406.9 665.3L407.7 665.9L409.4 666.4L411 667L411.8 667.6L412.6 668.2L413.7 668.9L414.7 670.2L416.6 671L417.5 671.7L418.6 672.5M427.2 673.3h0L428.8 674.2L431 675.1L432.8 676.1L435.1 677.2M439.2 678.3h0M445 679.4h0M450 680.7h0M455 682.1h0M460 683.5h0M464.7 685.2h0M480 687h0M500.8 689h0M512 691.2h0M520.7 693.9h0M540.1 697h0M561.5 700.8h0M562.6 705.7h0M583.4 712.6h0M693 724.4h0" stroke="#7E2F8E" stroke-width="12.0"/>
<path d="M116.5 588.3h0L116.5 589.5L117.4 590.4L118.6 590.6L119.7 590.9L120.9 591.2L122.1 591.5L123.3 591.8L124.5 592.1L125.7 592.3L126.9 592.7L128.1 593L129.3 593.3L130.5 593.6L131.6 593.9L132.8 594.3L134 594.6L135.1 594.9L136.3 595.2L137.5 595.6L138.7 595.9L139.9 596.2L141.1 596.6L142.3 596.9L143.4 597.2L144.6 597.5L145.8 597.9L147 598.2L148.2 598.6L149.4 598.9L150.6 599.2L151.8 599.5L153 599.8L154.2 600.1L155.5 600.4L156.7 600.7L157.9 601L159.1 601.4L160.2 601.6L161.4 601.9L162.6 602.3L163.8 602.6L165 602.9L166.2 603.2L167.3 603.5L168.5 603.8L169.7 604L170.9 604.4L172.1 604.7L173.3 605L174.5 605.3L175.7 605.6L177 605.9L178.2 606.3L179.4 606.6L180.7 606.9L181.9 607.2L183.1 607.5L184.3 607.9L185.6 608.2L186.8 608.5L188 608.8L189.2 609.1L190.4 609.4L191.6 609.7L192.8 610.1L194 610.4L195.3 610.6L196.5 610.9L197.7 611.3L198.9 611.6L200.1 611.9L201.4 612.3L202.8 612.6L204.3 612.9L205.5 613.2L206.7 613.6L207.9 613.9L209.1 614.1L210.5 614.4L211.7 614.7L213.1 615L214.4 615.4L215.6 615.7L217.1 616L218.4 616.2L219.9 616.6L221.3 617L222.4 617.3L223.8 617.5L225 617.8L226.4 618.2L227.6 618.5L229.1 618.9L230.6 619.1L231.8 619.4L233 619.7L234.6 620L235.9 620.4L237.2 620.7L238.4 621L239.6 621.4L241.1 621.6L242.4 622L244.1 622.3L245.7 622.8L247.1 623.1L248.4 623.5L250 623.7L251.1 624.1L252.5 624.4L253.7 624.7L254.9 625.1L256.1 625.4L257.4 625.7L258.6 626L259.8 626.4L261.1 626.9L262.5 627.2L263.7 627.5L264.9 627.8L266.2 628.1L267.8 628.6L269.3 628.9L270.5 629.3L271.8 629.6L273.1 630L274.3 630.4L275.6 630.6L276.9 631.1L278.2 631.5L279.9 631.9L281.5 632.3L282.4 632.8" stroke="#4DBEEE" stroke-width="12.0"/>
<g fill="#00BFBF" stroke="#4DBEEE" stroke-width="1.2"><circle cx="282.4" cy="632.8" r="5.4"/></g>
<path d="M285.1 632.9h0L286.3 633.3L287.8 633.8L289.2 633.9L290.6 634.1L292.1 634.5L293.5 634.8L294.8 635.3L296.3 635.5L298 635.8L299.2 636.2L300.7 636.4L302.3 636.6L303.6 636.9L305.4 637.4L307.7 637.8L308.9 638.2L310 638.7L311.5 638.9L313.6 639.2L314.7 639.7L316.4 640.1L317.6 640.4L319 640.9L320.5 641.2L322.6 641.6L324.4 642L325.8 642.5L327.8 642.8L329 643.2L330.8 643.5L333.2 643.8L334.6 644.1L336.3 644.6L338.6 644.9L340 645.3L341.6 645.8L343.6 646.3L344.9 646.4L346.2 647L346.6 647.2" stroke="#4DBEEE" stroke-width="12.0"/>
<g fill="#00BFBF" stroke="#4DBEEE" stroke-width="1.2"><circle cx="346.6" cy="647.2" r="5.4"/></g>
<path d="M348.9 647.3h0L350.6 647.9" stroke="#4DBEEE" stroke-width="12.0"/>
<g fill="#00BFBF" stroke="#4DBEEE" stroke-width="1.2"><circle cx="350.6" cy="647.9" r="5.4"/></g>
<path d="M353.2 648.1h0L354.6 648.7L355.9 648.9L357.2 649.3L358.5 649.9L360.1 650.2" stroke="#4DBEEE" stroke-width="12.0"/>
<g fill="#00BFBF" stroke="#4DBEEE" stroke-width="1.2"><circle cx="360.1" cy="650.2" r="5.4"/></g>
<path d="M364.2 650.4h0L365.9 651.1L367.6 651.8L369.1 652L371.4 652.7L373.3 653.3L374.4 653.8L374.8 654.1" stroke="#4DBEEE" stroke-width="12.0"/>
<g fill="#00BFBF" stroke="#4DBEEE" stroke-width="1.2"><circle cx="374.8" cy="654.1" r="5.4"/></g>
<path d="M377.4 654.3h0L379.3 654.6L379.7 655.2" stroke="#4DBEEE" stroke-width="12.0"/>
<g fill="#00BFBF" stroke="#4DBEEE" stroke-width="1.2"><circle cx="379.7" cy="655.2" r="5.4"/></g>
<path d="M382.6 655.5h0L384.3 655.8L385.9 656.1L386.4 656.7" stroke="#4DBEEE" stroke-width="12.0"/>
<g fill="#00BFBF" stroke="#4DBEEE" stroke-width="1.2"><circle cx="386.4" cy="656.7" r="5.4"/><circle cx="391.2" cy="657.1" r="5.4"/></g>
<path d="M397.1 657.4h0L399.1 658.1L400.5 658.8" stroke="#4DBEEE" stroke-width="12.0"/>
<g fill="#00BFBF" stroke="#4DBEEE" stroke-width="1.2"><circle cx="400.5" cy="658.8" r="5.4"/><circle cx="404.3" cy="659.2" r="5.4"/></g>
<path d="M410.3 659.5h0L412.1 659.9L414.5 660.7L415.7 661.5L416.2 662" stroke="#4DBEEE" stroke-width="12.0"/>
<g fill="#00BFBF" stroke="#4DBEEE" stroke-width="1.2"><circle cx="416.2" cy="662" r="5.4"/></g>
<path d="M422.8 662.4h0L424.6 662.9" stroke="#4DBEEE" stroke-width="12.0"/>
<g fill="#00BFBF" stroke="#4DBEEE" stroke-width="1.2"><circle cx="424.6" cy="662.9" r="5.4"/><circle cx="427.4" cy="663.3" r="5.4"/><circle cx="434.5" cy="663.8" r="5.4"/></g>
<path d="M436.9 664.3h0L438.2 664.8" stroke="#4DBEEE" stroke-width="12.0"/>
<g fill="#00BFBF" stroke="#4DBEEE" stroke-width="1.2"><circle cx="438.2" cy="664.8" r="5.4"/></g>
<path d="M440.7 665.3h0L441.8 665.9L442.6 666.4" stroke="#4DBEEE" stroke-width="12.0"/>
<g fill="#00BFBF" stroke="#4DBEEE" stroke-width="1.2"><circle cx="442.6" cy="666.4" r="5.4"/></g>
<path d="M444.6 667h0L445.1 667.6" stroke="#4DBEEE" stroke-width="12.0"/>
<g fill="#00BFBF" stroke="#4DBEEE" stroke-width="1.2"><circle cx="445.1" cy="667.6" r="5.4"/><circle cx="447.2" cy="668.2" r="5.4"/></g>
<path d="M449.7 668.9h0L451 669.5L452.5 670.2L453.5 671" stroke="#4DBEEE" stroke-width="12.0"/>
<g fill="#00BFBF" stroke="#4DBEEE" stroke-width="1.2"><circle cx="453.5" cy="671" r="5.4"/><circle cx="460.6" cy="671.7" r="5.4"/><circle cx="467.1" cy="672.5" r="5.4"/></g>
<path d="M471.1 673.3h0L472 674.2L473.4 675.1" stroke="#4DBEEE" stroke-width="12.0"/>
<g fill="#00BFBF" stroke="#4DBEEE" stroke-width="1.2"><circle cx="473.4" cy="675.1" r="5.4"/><circle cx="477.7" cy="676.1" r="5.4"/><circle cx="485.9" cy="677.2" r="5.4"/><circle cx="489.7" cy="678.3" r="5.4"/><circle cx="495" cy="679.4" r="5.4"/><circle cx="501.3" cy="680.7" r="5.4"/><circle cx="504" cy="682.1" r="5.4"/><circle cx="508.1" cy="683.5" r="5.4"/><circle cx="518.3" cy="685.2" r="5.4"/><circle cx="521" cy="687" r="5.4"/><circle cx="524" cy="689" r="5.4"/><circle cx="528" cy="691.2" r="5.4"/><circle cx="549.3" cy="693.9" r="5.4"/><circle cx="594.7" cy="697" r="5.4"/><circle cx="595.5" cy="700.8" r="5.4"/><circle cx="616.3" cy="705.7" r="5.4"/><circle cx="622.2" cy="712.6" r="5.4"/><circle cx="707" cy="724.4" r="5.4"/></g>
<path d="M116.5 588.3h0L116.5 589.2L117 590L117.9 590.2L118.8 590.4L119.8 590.5L120.7 590.7L121.6 590.9L122.4 591.1L123.3 591.3L124.2 591.6L125.1 591.8L126 592L126.9 592.2L127.8 592.4L128.7 592.6L129.5 592.9L130.5 593.1L131.4 593.3L132.3 593.5L133.2 593.7L134.1 593.9L135 594.2L135.9 594.4L136.8 594.6L137.7 594.8L138.6 595L139.5 595.3L140.4 595.5L141.3 595.7L142.1 595.9L143 596.1L144 596.4L144.8 596.6L145.7 596.8L146.6 597L147.5 597.2L148.4 597.5L149.3 597.7L150.2 597.9L151.1 598.1L152 598.4L152.9 598.6L153.8 598.8L154.7 599L155.7 599.3L156.5 599.5L157.5 599.7L158.4 600L159.3 600.2L160.2 600.4L161 600.6L161.9 600.9L162.8 601.1L163.7 601.3L164.6 601.6L165.5 601.8L166.5 602.1L167.5 602.3L168.4 602.6L169.3 602.8L170.2 603L171.1 603.2L172 603.5L172.9 603.7L173.8 603.9L174.7 604.2L175.5 604.4L176.4 604.6L177.5 604.9L178.4 605.1L179.3 605.4L180.2 605.6L181.1 605.8L182 606L182.9 606.3L183.8 606.5L184.7 606.7L185.7 607L186.7 607.3L187.6 607.5L188.5 607.7L189.3 607.9L190.2 608.1L191.2 608.4L192 608.6L193 608.9L193.9 609.1L194.7 609.3L195.7 609.6L196.6 609.8L197.6 610L198.5 610.3L199.4 610.5L200.4 610.8L201.3 611L202.3 611.3L203.2 611.5L204.1 611.7L205.1 611.9L206 612.2L207.2 612.4L208.1 612.7L209 612.9L209.9 613.1L210.9 613.3L211.9 613.6L212.8 613.8L213.7 614L214.7 614.2L215.6 614.4L216.6 614.6L217.5 614.9L218.5 615.1L219.5 615.3L220.4 615.6L221.3 615.8L222.2 616L223.1 616.2L224 616.4L225 616.7L225.9 616.8L226.8 617.1L227.8 617.3L228.8 617.6L230 617.8L230.9 618.1L231.9 618.3L232.9 618.5L233.8 618.7L234.7 619L235.6 619.2L236.5 619.4L237.4 619.6L238.5 619.8L239.4 620.1L240.3 620.3L241.3 620.5L242.3 620.7L243.3 620.9L244.3 621.2L245.2 621.4L246 621.6L247 621.8L248 622.1L248.9 622.3L249.9 622.6L250.8 622.8L251.8 623L252.9 623.3L253.8 623.6L254.7 623.9L255.6 624.1L256.8 624.4L257.8 624.6L258.8 624.9L259.7 625.2L260.8 625.5L261.7 625.7L262.8 626L263.7 626.3L264.6 626.5L265.6 626.8L266.5 627L267.5 627.3L268.6 627.6L269.5 627.8L270.4 628.2L271.5 628.4L272.5 628.7L273.9 629.1L274.8 629.3L275.7 629.5L276.8 629.8L278.1 630.2L279.1 630.5L280.1 630.8L281.1 630.9L282.3 631.3L283.4 631.7L284.6 631.9L285.5 632.2L286.5 632.4L287.5 632.6L288.5 633L289.3 633.3L290.6 633.6L291.5 633.9L292.7 634.2L293.7 634.5L294.7 634.6L295.8 635L296.7 635.3L297.9 635.5L298.9 635.8L299.8 636.1L300.8 636.4L301.7 636.7L302.8 637L304 637.3L305.1 637.6L306 637.8L307.1 638.1L308.2 638.5L309.4 638.8L310.5 639L311.8 639.4L312.7 639.7L314.1 640.1L315.2 640.3L316.1 640.7L317 640.9L318.3 641.2L319.2 641.4L320.3 641.8L321.6 642.1L323.2 642.4L324.2 642.7L325.2 643L326.4 643.2L327.7 643.7L328.5 644L330.5 644.5L331.5 644.8L332.4 645.1L333.3 645.4L334.5 645.8L335.5 646.1L336.5 646.4L337.5 646.6L338.5 647L339.6 647.2L341.6 647.5L342.5 647.7L344.3 648.1L345.7 648.5L346.9 648.9L348.3 649.3L349.8 649.7L351.1 650.2L352.4 650.6L353.6 650.8L354.8 651.1L356.3 651.5L357.3 651.8L359 652.2L360.3 652.5L361.4 652.7L362.4 653L364.2 653.5L365.6 653.8L367.2 654.3L368.7 654.9L369.6 655.2L371.2 655.5L372.2 655.8L373.7 656.1L374.7 656.4L375.6 656.7L376.5 657.1L377.5 657.4L378.4 657.7L379.2 658.1L381.4 658.4L384 659.2L386.2 659.9L387.7 660.3L388.7 660.7L389.6 661.1L390.6 661.5L391.4 662L393.6 662.4L396.2 662.9L397.6 663.3M402 663.8h0L404.6 664.3L406 664.8L408.5 665.3L411.2 665.9M414.2 666.4h0L416.8 667L419.2 667.6L420.7 668.2L423.2 668.9L425.8 669.5M429.3 670.2h0M432.3 671h0L434.4 671.7M441 672.5h0M449 673.3h0M452 674.2h0M458 675.1h0M464.7 676.1h0L467 677.2M470 678.3h0M475 679.4h0M479.2 680.7h0M482.9 682.1h0M487 683.5h0M490.7 685.2h0M508.9 687h0M520 689h0M526 691.2h0M532.4 693.9h0M538.2 697h0M542.5 700.8h0M600.6 705.7h0M637.2 712.6h0M638 724.4h0" stroke="#993300" stroke-width="12.0"/>
</g>
<rect x="110.06" y="549.1" width="640.24" height="196.2" stroke="#262626" stroke-width="2.3" fill="none"/>
<g class="tk" text-anchor="middle">
<text transform="translate(109.46 784.8) scale(1 1.085)">0</text>
<text transform="translate(200.92 784.8) scale(1 1.085)">0.02</text>
<text transform="translate(292.39 784.8) scale(1 1.085)">0.04</text>
<text transform="translate(383.85 784.8) scale(1 1.085)">0.06</text>
<text transform="translate(475.31 784.8) scale(1 1.085)">0.08</text>
<text transform="translate(566.77 784.8) scale(1 1.085)">0.1</text>
<text transform="translate(658.24 784.8) scale(1 1.085)">0.12</text>
<text transform="translate(749.7 784.8) scale(1 1.085)">0.14</text>
</g>
<g class="tk" text-anchor="end">
<text transform="translate(99.46 604.74) scale(1 1.085)">10<tspan class="sp" dx="1.5" dy="-13.0">0</tspan></text>
<text transform="translate(99.46 683.22) scale(1 1.085)">10<tspan class="sp" dx="1.5" dy="-13.0">-2</tspan></text>
<text transform="translate(99.46 761.7) scale(1 1.085)">10<tspan class="sp" dx="1.5" dy="-13.0">-4</tspan></text>
</g>
<text class="tt" transform="translate(374.9 593) scale(1 1.03)">Amorphous FeSiB 50 nm</text>
<text class="tg" transform="translate(758.6 586.3) scale(1 0.985)">(e)</text>
<g class="fit">
<text class="lm gl" transform="translate(142.5 713.5) skewX(-7) scale(1 0.98)">λ </text>
<text class="lm" transform="translate(168.9 713.5) scale(1 1.06)">= (0.30 </text>
<text class="pm" transform="translate(281.65 712.7)" text-anchor="middle">±</text>
<text class="lm" transform="translate(301.8 713.5) scale(1 1.06)"> 0.03) ms</text>
</g>
<g class="ylabel">
<text class="lb" transform="translate(26 707.6) rotate(-90) scale(1 1.02)">P( </text>
<text class="ta" transform="translate(26 670.36) rotate(-90) scale(1.24 1)">τ</text>
<text class="ge" transform="translate(30.3 638.78) rotate(-90) scale(0.95 1)">≥</text>
<text class="lb" transform="translate(26 606.4) rotate(-90) scale(1 1.02)"> t )</text>
</g>
</g>
<g id="panel-f">
<path d="M1058.42 743.7v-7.8M1058.42 547.5v7.8M1165.13 743.7v-7.8M1165.13 547.5v7.8M1271.85 743.7v-7.8M1271.85 547.5v7.8M1378.57 743.7v-7.8M1378.57 547.5v7.8M1485.28 743.7v-7.8M1485.28 547.5v7.8M951.7 731.89h4.6M1592 731.89h-4.6M951.7 724.98h4.6M1592 724.98h-4.6M951.7 720.08h4.6M1592 720.08h-4.6M951.7 716.27h4.6M1592 716.27h-4.6M951.7 713.17h4.6M1592 713.17h-4.6M951.7 710.54h4.6M1592 710.54h-4.6M951.7 708.26h4.6M1592 708.26h-4.6M951.7 706.26h4.6M1592 706.26h-4.6M951.7 704.46h4.6M1592 704.46h-4.6M951.7 692.65h4.6M1592 692.65h-4.6M951.7 685.74h4.6M1592 685.74h-4.6M951.7 680.84h4.6M1592 680.84h-4.6M951.7 677.03h4.6M1592 677.03h-4.6M951.7 673.93h4.6M1592 673.93h-4.6M951.7 671.3h4.6M1592 671.3h-4.6M951.7 669.02h4.6M1592 669.02h-4.6M951.7 667.02h4.6M1592 667.02h-4.6M951.7 665.22h7.8M1592 665.22h-7.8M951.7 653.41h4.6M1592 653.41h-4.6M951.7 646.5h4.6M1592 646.5h-4.6M951.7 641.6h4.6M1592 641.6h-4.6M951.7 637.79h4.6M1592 637.79h-4.6M951.7 634.69h4.6M1592 634.69h-4.6M951.7 632.06h4.6M1592 632.06h-4.6M951.7 629.78h4.6M1592 629.78h-4.6M951.7 627.78h4.6M1592 627.78h-4.6M951.7 625.98h4.6M1592 625.98h-4.6M951.7 614.17h4.6M1592 614.17h-4.6M951.7 607.26h4.6M1592 607.26h-4.6M951.7 602.36h4.6M1592 602.36h-4.6M951.7 598.55h4.6M1592 598.55h-4.6M951.7 595.45h4.6M1592 595.45h-4.6M951.7 592.82h4.6M1592 592.82h-4.6M951.7 590.54h4.6M1592 590.54h-4.6M951.7 588.54h4.6M1592 588.54h-4.6M951.7 586.74h7.8M1592 586.74h-7.8M951.7 574.93h4.6M1592 574.93h-4.6M951.7 568.02h4.6M1592 568.02h-4.6M951.7 563.12h4.6M1592 563.12h-4.6M951.7 559.31h4.6M1592 559.31h-4.6M951.7 556.21h4.6M1592 556.21h-4.6M951.7 553.58h4.6M1592 553.58h-4.6M951.7 551.3h4.6M1592 551.3h-4.6M951.7 549.3h4.6M1592 549.3h-4.6" stroke="#262626" stroke-width="2.5" fill="none"/>
<g fill="none" stroke-linecap="round" stroke-linejoin="round">
<path d="M958.3 586.7h0L958.3 587.6L958.3 588.5L958.6 589.4L959.5 589.6L960.4 589.9L961.3 590.1L962.2 590.3L963.1 590.6L963.9 590.8L964.8 591.1L965.7 591.3L966.6 591.5L967.5 591.8L968.4 592L969.3 592.2L970.1 592.4L971.1 592.7L972 592.9L972.8 593.2L973.7 593.4L974.6 593.6L975.5 593.9L976.4 594.1L977.3 594.3L978.2 594.6L979.1 594.8L979.9 595L980.8 595.3L981.7 595.5L982.6 595.7L983.5 596L984.4 596.2L985.3 596.4L986.2 596.7L987.1 596.9L988 597.2L988.9 597.4L989.8 597.6L990.8 597.9L991.7 598.1L992.6 598.4L993.5 598.6L994.3 598.9L995.2 599.2L996.1 599.5L997 599.8L997.8 600.1L998.7 600.4L999.6 600.8L1000.4 601.1L1001.3 601.3L1002.2 601.6L1003 601.9L1003.9 602.2L1004.8 602.5L1005.7 602.8L1006.6 603.1L1007.4 603.4L1008.3 603.7L1009.2 604L1010.1 604.3L1010.9 604.5L1011.8 604.8L1012.7 605.1L1013.6 605.4L1014.5 605.7L1015.4 606L1016.3 606.3L1017.3 606.6L1018.2 606.9L1019 607.2L1019.9 607.6L1020.8 607.9L1021.7 608.2L1022.6 608.5L1023.4 608.7L1024.3 609L1025.3 609.3L1026.1 609.6L1027 609.9L1027.9 610.2L1028.9 610.5L1029.8 610.8L1030.6 611.1L1031.6 611.4L1032.4 611.7L1033.3 612L1034.2 612.3L1035.1 612.6L1036.2 613L1037.1 613.3L1038 613.6L1038.9 613.9L1039.8 614.2L1040.7 614.4L1041.6 614.8L1042.5 615L1043.5 615.4L1044.4 615.6L1045.3 615.9L1046.3 616.2L1047.5 616.5L1048.6 616.8L1049.7 617.1L1050.6 617.4L1051.5 617.6L1052.5 617.9L1053.4 618.2L1054.4 618.5L1055.4 618.7L1056.4 619L1057.3 619.2L1058.4 619.5L1059.3 619.8L1060.4 620.1L1061.5 620.4L1062.5 620.8L1063.3 621L1064.3 621.2L1065.2 621.4L1066.2 621.7L1067.3 622.1L1068.2 622.4L1069.2 622.6L1070.1 622.9L1071 623.2L1072 623.4L1073.1 623.7L1074.1 624L1075.1 624.2L1076.1 624.5L1077.1 624.8L1078 625.1L1079.1 625.4L1080 625.7L1081 626L1081.9 626.2L1083.2 626.5L1084.3 626.8L1085.2 627.1L1086.2 627.4L1087.1 627.7L1088.5 628.1L1089.5 628.3L1090.4 628.6L1091.5 628.9L1093.2 629.3L1094.2 629.6L1095.2 630L1096.2 630.3L1097.1 630.7L1098.1 630.9L1099.5 631.3L1100.5 631.5L1101.6 631.9L1102.7 632.3L1103.8 632.7L1104.7 633L1105.7 633.2L1106.6 633.4L1107.5 633.7L1108.6 634.1L1110.4 634.4L1111.2 634.8L1112.2 635.1L1113.4 635.4L1114.3 635.8L1115.3 636.3L1116.9 636.5L1117.9 636.9L1119.1 637.1L1120.2 637.4L1121.7 637.8L1122.6 638.2L1123.7 638.6L1124.8 638.7L1125.8 639L1126.8 639.3L1127.7 639.6L1128.9 639.9L1130.2 640.3L1131.1 640.7L1132.1 641.1L1133.2 641.5L1134.1 641.8L1135 642L1136 642.3L1137 642.5L1138.4 642.8L1139.4 643L1140.3 643.4L1141.4 643.9L1142.3 644.3L1143.5 644.5L1144.7 644.9L1145.9 645.3L1147.1 645.7L1149.2 645.9L1150.2 646.4L1151.2 646.6L1152.6 647L1153.9 647.5L1154.9 647.7L1155.9 648.2L1158 648.7L1159.2 649.2L1160.8 649.5L1161.8 649.7L1163.2 650.3L1164.1 650.5L1165 650.8L1166.7 651.4L1168 652L1170.6 652.6L1171.5 652.9L1173.4 653.6L1174.6 653.9M1177.6 654.6h0L1178.5 655L1180 655.4L1181.6 656.1L1183.9 656.9L1185.3 657.3L1186.6 657.7M1191.7 658.6h0L1192.9 659.1M1196.1 659.5h0L1197.1 660L1198.2 660.5L1199.7 661L1202.2 661.5L1203.7 662.1L1204.7 662.6M1208.2 663.2h0L1209.8 663.8L1211.7 664.4L1212.7 665.1L1215.2 665.7L1217.3 666.4L1218.1 667.2M1228.3 667.9h0L1230.6 668.7M1237.8 669.5h0M1244.3 670.4h0M1247.8 671.3h0M1258.2 672.3h0M1264.2 673.4h0M1270.4 674.5h0M1274.6 675.6h0M1277.6 676.9h0M1282.1 678.3h0M1288.2 679.7h0M1291.1 681.4h0M1296.4 683.2h0M1301.1 685.2h0M1320.4 687.4h0M1335.9 690.1h0M1346.5 693.2h0M1396.5 697h0M1407.6 701.9h0M1490.4 708.8h0M1582.4 720.6h0" stroke="#EDB120" stroke-width="12.0"/>
<path d="M958.3 586.7h0L958.3 587.6L959.1 588L960 588.3L960.9 588.5L961.8 588.7L962.7 588.9L963.5 589.2L964.5 589.4L965.4 589.6L966.2 589.9L967.1 590.1L968 590.3L968.9 590.6L969.8 590.8L970.7 591L971.6 591.2L972.5 591.5L973.3 591.7L974.2 591.9L975.1 592.1L976 592.4L976.9 592.6L977.8 592.9L978.7 593.1L979.6 593.3L980.5 593.6L981.4 593.8L982.2 594L983.1 594.2L984 594.5L984.9 594.7L985.8 594.9L986.7 595.2L987.6 595.4L988.5 595.6L989.4 595.9L990.2 596.1L991.1 596.3L992 596.6L992.9 596.8L993.9 597L994.8 597.3L995.7 597.5L996.7 597.7L997.6 598L998.5 598.2L999.4 598.4L1000.3 598.7L1001.2 598.9L1002.1 599.1L1003 599.4L1004 599.6L1004.9 599.9L1005.7 600.1L1006.7 600.3L1007.6 600.6L1008.5 600.8L1009.4 601.1L1010.3 601.3L1011.2 601.5L1012.1 601.7L1013 602L1013.9 602.2L1014.8 602.5L1015.8 602.7L1016.7 603L1017.6 603.2L1018.6 603.4L1019.5 603.7L1020.4 603.9L1021.3 604.1L1022.2 604.4L1023.1 604.6L1024.1 604.8L1024.9 605.1L1025.9 605.3L1026.8 605.5L1027.7 605.8L1028.6 606L1029.5 606.2L1030.4 606.5L1031.4 606.8L1032.4 607L1033.3 607.3L1034.2 607.5L1035.3 607.7L1036.2 608L1037.1 608.2L1038 608.5L1038.9 608.7L1040 609L1041 609.2L1041.9 609.5L1042.8 609.7L1043.7 609.9L1044.6 610.1L1045.6 610.4L1046.5 610.6L1047.4 610.8L1048.5 611L1049.5 611.3L1050.4 611.5L1051.3 611.7L1052.2 611.9L1053.1 612.1L1054 612.3L1054.9 612.6L1055.9 612.8L1056.8 613L1057.8 613.2L1058.8 613.5L1059.7 613.7L1060.8 613.9L1061.7 614.1L1062.6 614.4L1063.7 614.6L1064.6 614.8L1065.5 615L1066.5 615.3L1067.3 615.5L1068.3 615.7L1069.5 616L1070.4 616.2L1071.4 616.4L1072.4 616.7L1073.3 616.9L1074.4 617.2L1075.4 617.4L1076.3 617.7L1077.6 617.9L1078.6 618.1L1079.8 618.5L1081 618.7L1082 619L1083.1 619.2L1084 619.5L1085 619.7L1086.3 620L1087.2 620.2L1088.3 620.4L1089.3 620.7L1090.3 621L1091.9 621.3L1092.8 621.5L1093.9 621.8L1095 622L1096.1 622.3L1097.2 622.5L1098.5 622.8L1099.4 623.1L1100.5 623.2L1101.4 623.4L1102.4 623.7L1103.4 623.9L1104.5 624.2L1105.5 624.4L1106.4 624.6L1108.2 625L1109.3 625.2L1110.3 625.4L1111.2 625.7L1112.2 625.9L1113.1 626.1L1114.5 626.4L1115.4 626.6L1116.3 626.8L1117.4 627.1L1118.4 627.3L1119.4 627.5L1120.4 627.8L1121.6 628.1L1122.5 628.3L1123.8 628.7L1124.9 628.8L1126 629L1127.2 629.3L1128.2 629.5L1129.2 629.8L1130.2 630L1131.5 630.2L1132.5 630.4L1133.4 630.7L1134.4 631L1135.5 631.4L1137.4 631.7L1138.4 632L1139.9 632.2L1140.9 632.5L1142.3 632.8L1143.3 633L1144.5 633.4L1145.6 633.7L1147.1 634L1148.4 634.4L1149.4 634.7L1150.4 635L1151.6 635.2L1152.8 635.5L1153.8 635.9L1154.7 636.1L1156.8 636.4L1157.9 636.8L1159.9 637.2L1161.5 637.5L1162.6 637.8L1163.5 638L1164.6 638.3L1165.6 638.6L1166.7 638.9L1167.7 639.3L1169.1 639.6L1170.3 639.9L1171.6 640.2L1172.7 640.7L1174.4 640.9L1175.5 641.2L1176.7 641.6L1177.9 642L1179 642.1L1180.2 642.5L1181.2 642.9M1184.3 643.1h0L1186.3 643.5L1187.6 643.9L1189.4 644.3L1190.7 644.5L1191.7 644.7L1193.5 645.2L1194.4 645.4L1195.5 645.6L1197.2 646.1L1198.7 646.3L1199.8 646.6L1201.3 646.8L1202.5 647L1204.2 647.5L1205.9 647.8L1206.9 648.1L1208.5 648.3L1209.4 648.6L1211.1 649.1L1213 649.4L1214.1 649.7L1215 650L1216 650.3L1218.3 650.9M1223.2 651.5h0L1225.2 652.2L1226.8 652.5L1228.9 652.9M1233 653.2h0L1234.4 653.6L1236.1 654M1239.4 654.3h0L1241.9 654.7L1244.2 655.1L1245.6 655.5L1248 655.9L1249.7 656.3L1251 656.8L1252.8 657.2L1254.4 657.7L1256 658.1M1260.4 658.6h0M1263.5 659.1h0L1264.9 659.6L1266.6 660.1M1270 660.7h0L1272.1 661.2L1274.8 661.8L1277.7 662.4M1283 663h0L1285.6 663.7L1287.6 664.3L1290.2 665L1293.1 665.8L1294.5 666.5L1296.8 667.3L1298.2 668.1M1302 669h0M1305 669.9h0M1315 670.9h0L1317.5 672L1319.9 673.1M1323.4 674.2h0M1326.5 675.5h0M1330.1 676.9h0M1336 678.3h0M1339.4 680h0M1350.9 681.8h0M1356 683.8h0M1359.2 686h0M1374.7 688.7h0M1380 691.8h0M1404 695.6h0M1435.8 700.5h0M1447.8 707.4h0M1480 719.2h0" stroke="#7E2F8E" stroke-width="12.0"/>
<path d="M958.3 586.7h0L958.3 587.6L959.1 588L960 588.2L960.9 588.5L961.8 588.7L962.7 588.9L963.6 589.1L964.4 589.4L965.3 589.6L966.2 589.8L967.1 590L968 590.3L968.9 590.5L969.8 590.7L970.7 590.9L971.5 591.2L972.4 591.4L973.3 591.6L974.2 591.9L975.1 592.1L976 592.3L976.9 592.5L977.8 592.7L978.7 593L979.5 593.2L980.4 593.4L981.3 593.6L982.2 593.8L983.1 594.1L984 594.3L984.9 594.5L985.8 594.8L986.7 595L987.5 595.2L988.4 595.4L989.3 595.7L990.2 595.9L991.1 596.1L992 596.3L992.9 596.6L993.8 596.8L994.7 597L995.6 597.2L996.5 597.5L997.4 597.7L998.4 597.9L999.3 598.2L1000.1 598.4L1001 598.6L1001.9 598.8L1002.9 599.1L1003.8 599.3L1004.6 599.5L1005.5 599.8L1006.4 600L1007.3 600.2L1008.2 600.5L1009.1 600.7L1010 600.9L1010.9 601.1L1011.9 601.4L1012.8 601.6L1013.7 601.8L1014.6 602.1L1015.5 602.3L1016.4 602.5L1017.4 602.7L1018.3 603L1019.2 603.2L1020 603.4L1021 603.7L1021.9 603.9L1022.9 604.1L1023.9 604.4L1024.8 604.6L1025.8 604.9L1026.7 605.1L1027.7 605.4L1028.6 605.6L1029.5 605.8L1030.4 606.1L1031.3 606.3L1032.3 606.5L1033.2 606.8L1034.2 607L1035 607.3L1036.1 607.5L1037 607.7L1037.9 608L1038.9 608.2L1039.8 608.4L1040.7 608.7L1041.6 608.9L1042.5 609.1L1043.5 609.3L1044.5 609.6L1045.3 609.8L1046.3 610L1047.2 610.2L1048.1 610.4L1049 610.6L1049.9 610.9L1050.8 611.1L1051.7 611.3L1052.7 611.5L1053.6 611.7L1054.5 612L1055.6 612.2L1056.5 612.4L1057.6 612.7L1058.6 612.9L1059.5 613.1L1060.6 613.4L1061.5 613.6L1062.4 613.9L1063.3 614.1L1064.4 614.3L1065.3 614.6L1066.6 614.8L1067.4 615L1068.4 615.3L1069.4 615.6L1070.6 615.8L1071.5 616L1072.6 616.2L1073.6 616.5L1074.6 616.7L1075.7 617L1076.6 617.2L1077.5 617.4L1078.4 617.6L1079.3 617.8L1080.2 618.1L1081.1 618.3L1082.1 618.5L1083 618.7L1084.1 619L1085.2 619.2L1086.4 619.5L1087.3 619.8L1088.3 619.9L1089.2 620.2L1090.1 620.4L1091.2 620.6L1092.3 620.9L1093.3 621.1L1094.3 621.3L1095.2 621.5L1096.1 621.7L1097.1 622L1098 622.1L1099 622.3L1099.9 622.5L1101.1 622.8L1102.1 623L1103 623.2L1104.1 623.4L1105.1 623.6L1106 623.8L1107.1 624.1L1108.2 624.3L1109.3 624.5L1110.2 624.7L1111.1 624.9L1112.1 625.1L1113.1 625.4L1114 625.6L1115.1 625.8L1116 626L1117 626.3L1118.2 626.5L1119.2 626.8L1120.2 627.1L1121.2 627.1L1122.6 627.4L1123.7 627.7L1124.6 627.9L1125.7 628.1L1126.8 628.4L1127.7 628.6L1128.8 628.8L1129.8 629.1L1130.8 629.3L1132 629.5L1132.9 629.8L1134.4 629.9L1135.5 630.2L1136.6 630.5L1138 630.8L1139.2 631.1L1140.2 631.3L1141 631.6L1142.1 631.8L1143.2 632.1L1144.3 632.4L1145.3 632.6L1146.5 632.9L1147.5 633.2L1148.7 633.5L1149.7 633.7L1150.7 634.1L1152 634.4L1153.1 634.8L1154 635L1155.3 635.3L1157.1 635.7L1158.2 636.1L1159.5 636.5L1161 636.8L1162 637.1L1162.9 637.4L1163.8 637.7L1164.9 638.1L1166.8 638.5L1168.5 638.8L1169.6 639.1L1170.5 639.4L1172.2 639.7L1173.4 640L1174.6 640.3L1175.4 640.7L1176.7 641L1178.4 641.5L1179.9 641.7L1180.9 641.8L1182.3 642.2L1183.6 642.6L1184.6 642.7L1186.4 643.1L1188.5 643.3L1189.5 643.5L1191 643.9L1192.5 644.1L1194.4 644.5L1196.6 644.9L1198.1 645.1L1199.4 645.3L1202.2 645.8L1203.1 646L1204.2 646.2L1206.3 646.7L1207.3 646.9L1208.7 647.2L1210.6 647.6L1211.6 647.9M1215 648.1h0M1218.1 648.4h0L1219.5 648.7M1222.9 648.9h0L1225.5 649.2M1228.8 649.5h0L1230.7 649.7L1232.8 650L1234.8 650.3L1237.5 650.6L1239.8 650.9M1242.8 651.2h0L1245 651.5L1247 651.8L1248.7 652.1L1250.3 652.5L1252.9 652.8L1254.3 653.1L1255.3 653.5L1257.2 653.8L1258.2 654.2L1260.6 654.6L1263.2 654.9L1264.3 655.3L1265.7 655.7M1269.8 656.1h0L1271.8 656.5M1276.4 656.9h0L1277.3 657.4L1278.5 657.8L1279.6 658.3L1281 658.7L1282 659.2L1283.3 659.7L1285.3 660.2L1286.3 660.7L1287.7 661.3L1289.2 661.8L1290.2 662.4L1291.2 663L1292.4 663.6L1293.7 664.3L1294.8 664.9L1296 665.6L1297.6 666.4L1299.1 667.1L1300.8 667.9M1305.1 668.7h0M1308.7 669.6h0L1310.8 670.5L1313.3 671.5L1315.1 672.6M1319.1 673.7h0L1321.5 674.8M1324.3 676.1h0M1327.8 677.5h0M1330.7 678.9h0M1333.5 680.6h0M1336.5 682.4h0M1343 684.4h0M1348 686.6h0M1352 689.3h0M1372.7 692.4h0M1384.5 696.2h0M1447.8 701.1h0M1463.8 708h0M1515.8 719.8h0" stroke="#D95319" stroke-width="12.0"/>
<path d="M958.3 586.7h0L958.3 587.9L959.5 588.3L960.7 588.5L961.9 588.8L963.1 589.1L964.3 589.4L965.5 589.7L966.7 590L967.9 590.4L969.1 590.7L970.2 591L971.4 591.3L972.6 591.6L973.8 591.9L975 592.2L976.2 592.5L977.3 592.8L978.5 593.1L979.7 593.5L980.9 593.8L982.1 594.1L983.3 594.4L984.5 594.7L985.7 595.1L986.8 595.4L988 595.7L989.2 596L990.4 596.3L991.6 596.7L992.7 597L993.9 597.3L995.1 597.6L996.3 597.9L997.6 598.2L998.8 598.6L1000 598.9L1001.2 599.1L1002.4 599.5L1003.6 599.8L1004.7 600.1L1006 600.4L1007.2 600.8L1008.4 601.1L1009.5 601.4L1010.7 601.7L1012 602L1013.2 602.3L1014.3 602.7L1015.5 603L1016.7 603.3L1017.9 603.6L1019.1 603.9L1020.6 604.3L1021.8 604.6L1023 604.9L1024.3 605.3L1025.5 605.6L1026.7 605.9L1027.9 606.2L1029.2 606.6L1030.3 606.9L1031.6 607.2L1032.9 607.5L1034 607.9L1035.2 608.2L1036.4 608.6L1037.6 608.9L1038.8 609.2L1040 609.5L1041.2 609.9L1042.4 610.1L1043.7 610.4L1044.9 610.8L1046.1 611.1L1047.3 611.3L1048.5 611.6L1049.7 611.9L1051.3 612.4L1052.5 612.7L1053.7 613L1055.1 613.4L1056.3 613.6L1057.6 614L1058.9 614.3L1060 614.7L1061.6 615L1062.8 615.4L1064.1 615.7L1065.4 615.9L1066.6 616.4L1067.8 616.6L1069 616.9L1070.2 617.2L1071.7 617.6L1072.9 617.8L1074 618.3L1075.5 618.6L1076.9 619L1078.1 619.3L1080.2 619.8L1081.8 620.2L1083.3 620.6L1084.7 621L1086 621.3L1087.4 621.6L1088.7 622.1L1090.1 622.4L1091.6 622.8L1092.9 623.1L1094.3 623.3L1095.5 623.7L1096.7 624L1098.3 624.4L1100.1 624.8L1101.3 625.1L1102.7 625.5L1104 625.7L1106.3 626.1L1107.7 626.6L1109.2 626.8L1110.9 627.3L1112.4 627.5L1113.6 628L1114.9 628.3L1116.2 628.7L1117.5 628.7L1119 629.1L1120.3 629.5L1121.5 630L1122.7 630.2L1124.6 630.6L1126.8 631L1128.5 631.4L1130.4 631.9L1131.5 632.5L1133 632.6L1134.3 632.8L1135.6 633L1136.7 633.5L1139.3 634L1140.4 634.5L1141.7 634.9L1142.9 635.6L1144.3 635.9L1145.4 636.4L1146.5 636.8L1147.7 637L1148.8 637.7L1150 638.1L1151.2 638.4L1152.7 638.9L1153.7 639.8L1155.3 640L1157 640.3L1158.5 641L1159.7 641.5L1161.7 642.1L1162.9 642.9L1164.9 643.6L1167.2 644.2L1168.2 645L1169.4 645.4L1170.5 645.9L1171.8 646.5L1173.2 646.8L1174.4 647.2L1175.6 647.9L1176.1 648.4" stroke="#4DBEEE" stroke-width="12.0"/>
<g fill="#00BFBF" stroke="#4DBEEE" stroke-width="1.2"><circle cx="1176.1" cy="648.4" r="5.4"/></g>
<path d="M1178.7 648.7h0L1180.5 649" stroke="#4DBEEE" stroke-width="12.0"/>
<g fill="#00BFBF" stroke="#4DBEEE" stroke-width="1.2"><circle cx="1180.5" cy="649" r="5.4"/></g>
<path d="M1183 649.2h0L1185.2 649.5L1188.6 650L1189.9 650.3L1190.7 650.9" stroke="#4DBEEE" stroke-width="12.0"/>
<g fill="#00BFBF" stroke="#4DBEEE" stroke-width="1.2"><circle cx="1190.7" cy="650.9" r="5.4"/></g>
<path d="M1193.3 651.2h0L1195.9 652.1L1196.9 652.8L1198.4 653.1" stroke="#4DBEEE" stroke-width="12.0"/>
<g fill="#00BFBF" stroke="#4DBEEE" stroke-width="1.2"><circle cx="1198.4" cy="653.1" r="5.4"/></g>
<path d="M1204.8 653.4h0L1205.1 653.8" stroke="#4DBEEE" stroke-width="12.0"/>
<g fill="#00BFBF" stroke="#4DBEEE" stroke-width="1.2"><circle cx="1205.1" cy="653.8" r="5.4"/></g>
<path d="M1209.7 654.1h0L1211.4 654.5L1214 655.2L1215.8 655.6" stroke="#4DBEEE" stroke-width="12.0"/>
<g fill="#00BFBF" stroke="#4DBEEE" stroke-width="1.2"><circle cx="1215.8" cy="655.6" r="5.4"/></g>
<path d="M1219.6 656h0L1221.6 656.8" stroke="#4DBEEE" stroke-width="12.0"/>
<g fill="#00BFBF" stroke="#4DBEEE" stroke-width="1.2"><circle cx="1221.6" cy="656.8" r="5.4"/></g>
<path d="M1224.8 657.2h0L1226 657.7L1227 658.6L1228.5 659" stroke="#4DBEEE" stroke-width="12.0"/>
<g fill="#00BFBF" stroke="#4DBEEE" stroke-width="1.2"><circle cx="1228.5" cy="659" r="5.4"/><circle cx="1230.9" cy="659.5" r="5.4"/></g>
<path d="M1233.3 660h0L1236.3 661" stroke="#4DBEEE" stroke-width="12.0"/>
<g fill="#00BFBF" stroke="#4DBEEE" stroke-width="1.2"><circle cx="1236.3" cy="661" r="5.4"/></g>
<path d="M1241.7 661.6h0L1243.5 662.1" stroke="#4DBEEE" stroke-width="12.0"/>
<g fill="#00BFBF" stroke="#4DBEEE" stroke-width="1.2"><circle cx="1243.5" cy="662.1" r="5.4"/></g>
<path d="M1246.5 662.7h0L1248.3 663.9L1249.9 664.6" stroke="#4DBEEE" stroke-width="12.0"/>
<g fill="#00BFBF" stroke="#4DBEEE" stroke-width="1.2"><circle cx="1249.9" cy="664.6" r="5.4"/><circle cx="1255.7" cy="665.2" r="5.4"/><circle cx="1259.3" cy="665.9" r="5.4"/><circle cx="1264.5" cy="666.7" r="5.4"/><circle cx="1277" cy="667.4" r="5.4"/><circle cx="1287.5" cy="668.2" r="5.4"/><circle cx="1292.3" cy="669" r="5.4"/><circle cx="1296.8" cy="669.9" r="5.4"/><circle cx="1299.8" cy="670.8" r="5.4"/><circle cx="1303.4" cy="671.8" r="5.4"/><circle cx="1305.9" cy="672.9" r="5.4"/><circle cx="1308.8" cy="674" r="5.4"/><circle cx="1311.6" cy="675.1" r="5.4"/><circle cx="1315" cy="676.4" r="5.4"/><circle cx="1319" cy="677.8" r="5.4"/><circle cx="1323.3" cy="679.2" r="5.4"/><circle cx="1329" cy="680.9" r="5.4"/><circle cx="1334" cy="682.7" r="5.4"/><circle cx="1342.7" cy="684.7" r="5.4"/><circle cx="1356" cy="686.9" r="5.4"/><circle cx="1377.1" cy="689.6" r="5.4"/><circle cx="1383.4" cy="692.7" r="5.4"/><circle cx="1385.8" cy="696.5" r="5.4"/><circle cx="1425.1" cy="701.4" r="5.4"/><circle cx="1461.1" cy="708.3" r="5.4"/><circle cx="1463.8" cy="720.1" r="5.4"/></g>
<path d="M958.3 586.7h0L958.3 587.6L958.3 588.5L959.1 589L960 589.2L960.9 589.4L961.8 589.7L962.6 589.9L963.5 590.1L964.4 590.3L965.3 590.6L966.2 590.8L967.1 591L968 591.2L968.9 591.5L969.8 591.7L970.6 591.9L971.5 592.1L972.4 592.4L973.3 592.6L974.3 592.8L975.2 593.1L976 593.3L976.9 593.5L977.8 593.7L978.7 593.9L979.6 594.2L980.5 594.4L981.4 594.6L982.3 594.9L983.2 595.1L984.1 595.3L985 595.5L985.9 595.8L986.8 596L987.7 596.2L988.6 596.5L989.5 596.7L990.4 596.9L991.3 597.1L992.2 597.4L993.1 597.6L994 597.9L994.8 598.1L995.8 598.5L996.7 598.8L997.5 599.1L998.4 599.4L999.3 599.6L1000.1 600L1001 600.2L1001.9 600.5L1002.8 600.9L1003.6 601.1L1004.5 601.4L1005.4 601.7L1006.3 602L1007.2 602.3L1008 602.6L1008.9 602.9L1009.8 603.2L1010.7 603.5L1011.6 603.8L1012.4 604.1L1013.3 604.4L1014.2 604.7L1015.1 605L1015.9 605.3L1016.8 605.6L1017.7 605.9L1018.6 606.2L1019.5 606.5L1020.4 606.8L1021.2 607.1L1022.1 607.4L1023 607.7L1023.9 608L1024.8 608.3L1025.7 608.6L1026.6 608.9L1027.5 609.2L1028.5 609.5L1029.3 609.8L1030.2 610.1L1031.1 610.4L1032 610.7L1032.9 611L1033.8 611.3L1034.7 611.6L1035.8 612L1036.7 612.3L1037.6 612.6L1038.5 612.9L1039.4 613.3L1040.3 613.5L1041.2 613.8L1042.1 614.1L1043 614.4L1044 614.6L1044.8 614.9L1045.8 615.2L1046.8 615.5L1047.7 615.7L1048.7 616L1049.6 616.3L1050.6 616.6L1051.5 616.9L1052.5 617.1L1053.5 617.4L1054.4 617.6L1055.3 617.9L1056.2 618.2L1057.1 618.5L1058.1 618.7L1059.1 619L1060 619.2L1061 619.5L1062 619.8L1062.9 620.1L1063.8 620.3L1064.8 620.7L1065.7 621L1066.7 621.2L1067.7 621.4L1068.6 621.7L1069.5 621.9L1070.5 622.2L1071.4 622.5L1072.4 622.8L1073.4 623.1L1074.3 623.3L1075.2 623.6L1076.2 623.9L1077.1 624.2L1078.1 624.5L1079 624.7L1079.8 625.1L1080.8 625.3L1081.8 625.4L1082.7 625.7L1083.6 626L1084.6 626.3L1085.5 626.5L1086.5 626.8L1087.4 627.3L1088.3 627.5L1089.5 627.8L1090.6 627.9L1091.6 628.3L1092.6 628.6L1093.9 628.9L1094.8 629.2L1095.9 629.6L1096.8 629.9L1097.9 630.2L1099 630.6L1099.9 630.8L1101 631.2L1102.2 631.5L1103.3 631.8L1104.3 632.2L1105.5 632.5L1106.6 632.9L1107.8 633.2L1108.8 633.5L1109.7 633.8L1110.9 634L1111.9 634.3L1112.9 634.7L1114 635L1115 635.3L1116.4 635.7L1117.3 635.9L1118.3 636.3L1119.8 636.6L1121 637L1122.2 637.4L1123 637.8L1124.1 638L1125.2 638.5L1126.1 638.7L1127.1 639L1128.1 639.2L1129.4 639.6L1130.4 640L1131.6 640.3L1132.9 640.7L1134.1 641.1L1135.5 641.6L1136.7 642L1138.1 642.3L1139.5 642.6L1140.5 643L1141.8 643.4L1143.7 643.9L1144.5 644.3L1145.9 644.7L1147.1 645.1L1148.1 645.5L1149.4 645.9L1150.4 646.1L1151.3 646.4L1153.4 646.6L1154.8 647L1156 647.5L1157.1 648L1158.9 648.4L1160 648.9L1161.2 649.5L1163.2 650L1165.4 650.3L1166.9 650.8L1168.7 651.4L1170.6 651.7L1172.5 652.3L1173.6 652.6L1174.7 652.9L1176.1 653.6L1178.2 653.9L1180.1 654.6L1181.5 655L1183.4 655.4L1184.9 655.7L1186.8 656.1L1187.8 656.5L1189.4 656.9L1190.4 657.3L1191.4 657.7L1192.4 658.2L1193.9 658.6L1196.4 659.1L1197.4 659.5L1199.7 660L1200.9 660.5L1202.6 661L1203.9 661.5L1205.7 662.1M1208.8 662.6h0L1210.9 663.2L1212.4 663.8L1214.8 664.4L1215.9 665.1L1217.8 665.7L1218.9 666.4L1221.2 667.2M1224.7 667.9h0L1225.9 668.7M1236.1 669.5h0L1238.4 670.4L1240.5 671.3M1251.4 672.3h0M1254.7 673.4h0M1257.7 674.5h0M1262.6 675.6h0M1269.5 676.9h0M1278.2 678.3h0M1294.6 679.7h0L1297 681.4M1300 683.2h0M1310 685.2h0M1320.4 687.4h0M1335.9 690.1h0M1341.2 693.2h0M1357.2 697h0M1381 701.9h0M1414.4 708.8h0M1458.4 720.6h0" stroke="#0072BD" stroke-width="12.0"/>
<path d="M958.3 586.7h0L958.3 587.6L959.1 588.1L960 588.4L960.8 588.7L961.7 588.9L962.6 589.2L963.4 589.5L964.3 589.8L965.2 590L966.1 590.2L967 590.4L967.9 590.5L968.8 590.7L969.7 590.9L970.7 591.1L971.6 591.2L972.5 591.4L973.4 591.5L974.3 591.7L975.3 591.9L976.2 592.1L977.1 592.2L978 592.4L978.9 592.6L979.8 592.8L980.7 592.9L981.6 593.1L982.5 593.3L983.5 593.4L984.4 593.6L985.3 593.8L986.2 593.9L987.1 594.1L988 594.3L988.9 594.4L989.9 594.6L990.8 594.8L991.7 595L992.6 595.1L993.5 595.3L994.5 595.5L995.4 595.7L996.3 595.9L997.2 596.2L998.2 596.4L999.1 596.6L1000 596.8L1000.9 597L1001.8 597.2L1002.7 597.4L1003.6 597.7L1004.6 597.9L1005.5 598.1L1006.5 598.3L1007.4 598.5L1008.3 598.7L1009.2 598.9L1010.1 599.1L1011 599.3L1011.9 599.6L1012.9 599.8L1013.8 600L1014.7 600.2L1015.7 600.4L1016.6 600.6L1017.5 600.8L1018.6 601.1L1019.6 601.3L1020.5 601.5L1021.4 601.8L1022.3 601.9L1023.2 602.1L1024.1 602.4L1024.9 602.6L1025.9 602.8L1026.9 603L1027.7 603.2L1028.7 603.4L1029.6 603.6L1030.6 603.8L1031.5 604L1032.4 604.3L1033.3 604.5L1034.2 604.7L1035.1 604.9L1036.1 605.2L1037 605.4L1038 605.6L1038.9 605.8L1040 606L1041 606.3L1042 606.5L1043.1 606.7L1044 606.9L1044.9 607.1L1045.9 607.3L1046.9 607.5L1047.9 607.7L1048.9 607.9L1049.8 608.1L1050.7 608.3L1051.9 608.5L1052.8 608.7L1053.8 608.9L1054.8 609.1L1055.9 609.4L1056.8 609.6L1057.8 609.8L1058.8 610L1059.8 610.2L1060.7 610.4L1061.8 610.6L1062.7 610.7L1063.6 611L1064.6 611.2L1065.6 611.4L1066.6 611.6L1067.6 611.8L1068.7 612L1069.6 612.2L1070.5 612.4L1071.6 612.6L1072.5 612.8L1073.3 613L1074.3 613.2L1075.5 613.4L1076.4 613.6L1077.4 613.8L1078.4 614L1079.5 614.2L1080.4 614.4L1081.4 614.6L1082.4 614.8L1083.3 615L1084.4 615.3L1085.5 615.5L1086.5 615.6L1087.4 615.9L1088.5 616L1089.4 616.2L1090.4 616.5L1091.4 616.7L1092.5 616.9L1093.4 617.1L1094.7 617.4L1095.7 617.6L1096.8 617.7L1097.8 617.9L1098.8 618.1L1099.8 618.3L1100.8 618.5L1101.9 618.7L1103 618.9L1104 619.2L1105.1 619.3L1106.2 619.5L1107.2 619.8L1108.5 620L1109.8 620.2L1111 620.4L1112 620.6L1113.1 620.8L1114.2 621.1L1115.3 621.2L1116.4 621.4L1117.3 621.7L1118.3 621.9L1119.2 622L1120.6 622.3L1121.5 622.6L1122.7 622.7L1123.8 622.9L1125.1 623.1L1126.1 623.4L1127 623.5L1128.4 623.7L1129.3 623.9L1130.4 624.2L1131.4 624.3L1132.4 624.6L1133.3 624.8L1134.5 625L1135.5 625.1L1136.6 625.4L1137.8 625.6L1138.8 625.8L1140 626.1L1141 626.4L1142.2 626.6L1143.4 627L1144.5 627.3L1145.8 627.5L1146.8 627.8L1148 628.1L1148.9 628.4L1149.8 628.7L1150.8 629L1151.9 629.3L1152.9 629.7L1153.9 629.9L1154.9 630.1L1155.8 630.3L1156.7 630.6L1157.7 631L1158.7 631.1L1160.2 631.4L1161.3 631.7L1162.2 631.9L1163.2 632.2L1164.1 632.4L1165.2 632.8L1166.3 633.2L1167.3 633.4L1169 633.8L1170.7 634.3L1171.8 634.5L1172.8 634.8L1174.1 635.2L1175 635.5L1176.2 635.8L1177.3 636L1178.4 636.3L1179.6 636.6L1181.1 636.9L1182.4 637.1L1184 637.4L1184.9 637.6L1186.3 637.9L1187.8 638.1L1188.9 638.4L1191.3 638.8L1192.6 639.2L1194 639.5L1195.1 639.7L1196.4 639.9L1198.8 640.3L1200.3 640.5L1202.3 640.9L1203.9 641.3L1205.7 641.5L1206.9 641.7L1208.1 641.9L1211 642.4L1212.7 642.8L1214.3 643.1L1215.4 643.3L1216.8 643.5L1218 643.8L1219.2 644L1220.2 644.2L1222.5 644.5L1223.8 644.7L1225.2 645L1226.7 645.3L1227.9 645.5L1228.9 645.8L1229.8 646.1L1231.4 646.3L1233 646.6L1234.3 646.9L1236.6 647.2L1237.5 647.5L1240.2 647.8L1241.7 648.1L1243 648.4L1244 648.7L1245.8 649.1L1247 649.4L1248.1 649.7M1251.5 650.1h0L1254.4 650.4L1256.2 650.8L1257.6 651.2L1259.2 651.5L1260.7 651.9L1262.8 652.3L1264.4 652.7L1265.8 653.1L1267.5 653.5L1269.3 654L1271.5 654.4L1273.6 654.9M1278.8 655.3h0L1280.6 655.8L1282.2 656.3L1284.8 656.8L1286.6 657.3M1290.2 657.9h0M1293.4 658.4h0M1296.5 659h0M1299.7 659.6h0L1301.7 660.2L1303.9 660.9M1307.1 661.5h0L1309.5 662.2L1311.5 663L1313.3 663.7M1316.9 664.5h0M1321.2 665.3h0M1327.5 666.2h0L1329.6 667.1L1332 668.1M1335.4 669.2h0M1338.4 670.3h0M1341.3 671.4h0M1346.5 672.7h0M1357.2 674.1h0M1371.8 675.5h0M1381 677.2h0M1397 679h0M1406 681h0M1412 683.2h0M1418.8 685.9h0M1447.8 689h0M1475.9 692.8h0M1515.8 697.7h0M1549.1 704.6h0M1561.2 716.4h0" stroke="#A2142F" stroke-width="12.0"/>
</g>
<rect x="951.7" y="547.5" width="640.3" height="196.2" stroke="#262626" stroke-width="2.3" fill="none"/>
<g class="tk" text-anchor="middle">
<text transform="translate(951.1 783.2) scale(1 1.085)">0</text>
<text transform="translate(1057.82 783.2) scale(1 1.085)">0.02</text>
<text transform="translate(1164.53 783.2) scale(1 1.085)">0.04</text>
<text transform="translate(1271.25 783.2) scale(1 1.085)">0.06</text>
<text transform="translate(1377.97 783.2) scale(1 1.085)">0.08</text>
<text transform="translate(1484.68 783.2) scale(1 1.085)">0.1</text>
<text transform="translate(1591.4 783.2) scale(1 1.085)">0.12</text>
</g>
<g class="tk" text-anchor="end">
<text transform="translate(941.1 603.14) scale(1 1.085)">10<tspan class="sp" dx="1.5" dy="-13.0">0</tspan></text>
<text transform="translate(941.1 681.62) scale(1 1.085)">10<tspan class="sp" dx="1.5" dy="-13.0">-2</tspan></text>
<text transform="translate(941.1 760.1) scale(1 1.085)">10<tspan class="sp" dx="1.5" dy="-13.0">-4</tspan></text>
</g>
<text class="tt" transform="translate(1203.4 589.6) scale(1 1.03)">Polycrystalline NiFe 50 nm</text>
<text class="tg" transform="translate(1601.7 582.9) scale(1 0.985)">(f)</text>
<g class="fit">
<text class="lm gl" transform="translate(981.4 714.9) skewX(-7) scale(1 0.98)">λ </text>
<text class="lm" transform="translate(1007.8 714.9) scale(1 1.06)">= (0.21 </text>
<text class="pm" transform="translate(1120.55 714.1)" text-anchor="middle">±</text>
<text class="lm" transform="translate(1140.7 714.9) scale(1 1.06)"> 0.10) ms</text>
</g>
</g>
<g class="xlabel"><text class="ta" transform="translate(380.94 825.5) scale(1.24 1)">τ</text><text class="lb" transform="translate(410.28 824.7) scale(1.02 1.0)"> (ms)</text></g>
<g class="xlabel"><text class="ta" transform="translate(1222.64 822.8) scale(1.24 1)">τ</text><text class="lb" transform="translate(1251.88 822) scale(1.02 1.0)"> (ms)</text></g>
</svg>
</body>
</html>
